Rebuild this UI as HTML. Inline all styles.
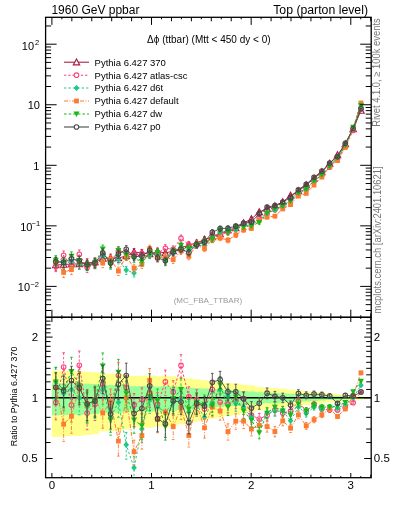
<!DOCTYPE html>
<html><head><meta charset="utf-8"><style>
html,body{margin:0;padding:0;background:#fff;}
svg{display:block;font-family:"Liberation Sans", sans-serif;will-change:transform;}
</style></head><body>
<svg width="393" height="512" viewBox="0 0 393 512">
<defs><clipPath id="cm"><rect x="45.6" y="17.3" width="325.59999999999997" height="300.0"/></clipPath><clipPath id="cr"><rect x="45.6" y="317.3" width="325.59999999999997" height="160.39999999999998"/></clipPath></defs><g clip-path="url(#cr)"><path d="M51.90,370.87L59.72,370.87L59.72,371.09L67.55,371.09L67.55,371.31L75.37,371.31L75.37,371.31L83.20,371.31L83.20,371.74L91.02,371.74L91.02,372.17L98.85,372.17L98.85,373.61L106.67,373.61L106.67,373.81L114.50,373.81L114.50,373.81L122.32,373.81L122.32,374.60L130.15,374.60L130.15,376.10L137.97,376.10L137.97,375.73L145.80,375.73L145.80,375.36L153.62,375.36L153.62,376.28L161.45,376.28L161.45,375.73L169.27,375.73L169.27,376.47L177.10,376.47L177.10,377.52L184.92,377.52L184.92,378.53L192.75,378.53L192.75,379.18L200.57,379.18L200.57,380.27L208.40,380.27L208.40,381.01L216.22,381.01L216.22,381.86L224.05,381.86L224.05,382.93L231.87,382.93L231.87,383.44L239.70,383.44L239.70,384.65L247.52,384.65L247.52,385.55L255.35,385.55L255.35,386.99L263.17,386.99L263.17,387.64L271.00,387.64L271.00,388.09L278.82,388.09L278.82,388.77L286.65,388.77L286.65,389.77L294.47,389.77L294.47,390.40L302.30,390.40L302.30,391.17L310.12,391.17L310.12,391.92L317.95,391.92L317.95,392.58L325.77,392.58L325.77,393.34L333.60,393.34L333.60,393.99L341.42,393.99L341.42,394.70L349.25,394.70L349.25,395.46L357.07,395.46L357.07,396.15L364.90,396.15L364.90,399.49L357.07,399.49L357.07,400.21L349.25,400.21L349.25,401.02L341.42,401.02L341.42,401.78L333.60,401.78L333.60,402.50L325.77,402.50L325.77,403.35L317.95,403.35L317.95,404.11L310.12,404.11L310.12,404.97L302.30,404.97L302.30,405.88L294.47,405.88L294.47,406.64L286.65,406.64L286.65,407.87L278.82,407.87L278.82,408.72L271.00,408.72L271.00,409.29L263.17,409.29L263.17,410.14L255.35,410.14L255.35,412.04L247.52,412.04L247.52,413.28L239.70,413.28L239.70,414.98L231.87,414.98L231.87,415.72L224.05,415.72L224.05,417.31L216.22,417.31L216.22,418.60L208.40,418.60L208.40,419.75L200.57,419.75L200.57,421.48L192.75,421.48L192.75,422.54L184.92,422.54L184.92,424.24L177.10,424.24L177.10,426.07L169.27,426.07L169.27,427.37L161.45,427.37L161.45,426.39L153.62,426.39L153.62,428.05L145.80,428.05L145.80,427.37L137.97,427.37L137.97,426.71L130.15,426.71L130.15,429.46L122.32,429.46L122.32,430.95L114.50,430.95L114.50,430.95L106.67,430.95L106.67,431.33L98.85,431.33L98.85,434.19L91.02,434.19L91.02,435.06L83.20,435.06L83.20,435.96L75.37,435.96L75.37,435.96L67.55,435.96L67.55,436.42L59.72,436.42L59.72,436.88L51.90,436.88Z" fill="#ffff8c"/><path d="M51.90,383.31L59.72,383.31L59.72,383.43L67.55,383.43L67.55,383.56L75.37,383.56L75.37,383.56L83.20,383.56L83.20,383.81L91.02,383.81L91.02,384.05L98.85,384.05L98.85,384.87L106.67,384.87L106.67,384.99L114.50,384.99L114.50,384.99L122.32,384.99L122.32,385.43L130.15,385.43L130.15,386.28L137.97,386.28L137.97,386.07L145.80,386.07L145.80,385.86L153.62,385.86L153.62,386.38L161.45,386.38L161.45,386.07L169.27,386.07L169.27,386.48L177.10,386.48L177.10,387.08L184.92,387.08L184.92,387.64L192.75,387.64L192.75,388.00L200.57,388.00L200.57,388.59L208.40,388.59L208.40,389.00L216.22,389.00L216.22,389.47L224.05,389.47L224.05,390.05L231.87,390.05L231.87,390.33L239.70,390.33L239.70,390.98L247.52,390.98L247.52,391.46L255.35,391.46L255.35,392.23L263.17,392.23L263.17,392.58L271.00,392.58L271.00,392.81L278.82,392.81L278.82,393.17L286.65,393.17L286.65,393.69L294.47,393.69L294.47,394.02L302.30,394.02L302.30,394.42L310.12,394.42L310.12,394.81L317.95,394.81L317.95,395.15L325.77,395.15L325.77,395.54L333.60,395.54L333.60,395.87L341.42,395.87L341.42,396.23L349.25,396.23L349.25,396.62L357.07,396.62L357.07,396.97L364.90,396.97L364.90,398.64L357.07,398.64L357.07,399.00L349.25,399.00L349.25,399.39L341.42,399.39L341.42,399.77L333.60,399.77L333.60,400.12L325.77,400.12L325.77,400.53L317.95,400.53L317.95,400.90L310.12,400.90L310.12,401.31L302.30,401.31L302.30,401.75L294.47,401.75L294.47,402.11L286.65,402.11L286.65,402.69L278.82,402.69L278.82,403.09L271.00,403.09L271.00,403.36L263.17,403.36L263.17,403.75L255.35,403.75L255.35,404.63L247.52,404.63L247.52,405.20L239.70,405.20L239.70,405.97L231.87,405.97L231.87,406.30L224.05,406.30L224.05,407.01L216.22,407.01L216.22,407.58L208.40,407.58L208.40,408.09L200.57,408.09L200.57,408.84L192.75,408.84L192.75,409.30L184.92,409.30L184.92,410.02L177.10,410.02L177.10,410.80L169.27,410.80L169.27,411.34L161.45,411.34L161.45,410.93L153.62,410.93L153.62,411.62L145.80,411.62L145.80,411.34L137.97,411.34L137.97,411.07L130.15,411.07L130.15,412.21L122.32,412.21L122.32,412.82L114.50,412.82L114.50,412.82L106.67,412.82L106.67,412.97L98.85,412.97L98.85,414.12L91.02,414.12L91.02,414.46L83.20,414.46L83.20,414.82L75.37,414.82L75.37,414.82L67.55,414.82L67.55,415.00L59.72,415.00L59.72,415.18L51.90,415.18Z" fill="#99ff99"/><line x1="45.6" y1="397.80" x2="371.2" y2="397.80" stroke="#000" stroke-width="1.4"/></g><g clip-path="url(#cm)"><line x1="55.81" y1="260.65" x2="55.81" y2="270.22" stroke="#a82040" stroke-width="0.9"/><path d="M54.51,260.65H57.11M54.51,270.22H57.11" stroke="#a82040" stroke-width="0.9"/><line x1="63.64" y1="260.19" x2="63.64" y2="269.66" stroke="#a82040" stroke-width="0.9"/><path d="M62.34,260.19H64.94M62.34,269.66H64.94" stroke="#a82040" stroke-width="0.9"/><line x1="71.46" y1="259.72" x2="71.46" y2="269.11" stroke="#a82040" stroke-width="0.9"/><path d="M70.16,259.72H72.76M70.16,269.11H72.76" stroke="#a82040" stroke-width="0.9"/><line x1="79.29" y1="259.72" x2="79.29" y2="269.11" stroke="#a82040" stroke-width="0.9"/><path d="M77.99,259.72H80.59M77.99,269.11H80.59" stroke="#a82040" stroke-width="0.9"/><line x1="87.11" y1="258.80" x2="87.11" y2="268.00" stroke="#a82040" stroke-width="0.9"/><path d="M85.81,258.80H88.41M85.81,268.00H88.41" stroke="#a82040" stroke-width="0.9"/><line x1="94.94" y1="257.87" x2="94.94" y2="266.90" stroke="#a82040" stroke-width="0.9"/><path d="M93.64,257.87H96.24M93.64,266.90H96.24" stroke="#a82040" stroke-width="0.9"/><line x1="102.76" y1="254.62" x2="102.76" y2="263.06" stroke="#a82040" stroke-width="0.9"/><path d="M101.46,254.62H104.06M101.46,263.06H104.06" stroke="#a82040" stroke-width="0.9"/><line x1="110.59" y1="254.15" x2="110.59" y2="262.51" stroke="#a82040" stroke-width="0.9"/><path d="M109.29,254.15H111.89M109.29,262.51H111.89" stroke="#a82040" stroke-width="0.9"/><line x1="118.41" y1="254.15" x2="118.41" y2="262.51" stroke="#a82040" stroke-width="0.9"/><path d="M117.11,254.15H119.71M117.11,262.51H119.71" stroke="#a82040" stroke-width="0.9"/><line x1="126.24" y1="252.29" x2="126.24" y2="260.33" stroke="#a82040" stroke-width="0.9"/><path d="M124.94,252.29H127.54M124.94,260.33H127.54" stroke="#a82040" stroke-width="0.9"/><line x1="134.06" y1="248.54" x2="134.06" y2="255.98" stroke="#a82040" stroke-width="0.9"/><path d="M132.76,248.54H135.36M132.76,255.98H135.36" stroke="#a82040" stroke-width="0.9"/><line x1="141.89" y1="249.48" x2="141.89" y2="257.07" stroke="#a82040" stroke-width="0.9"/><path d="M140.59,249.48H143.19M140.59,257.07H143.19" stroke="#a82040" stroke-width="0.9"/><line x1="149.71" y1="250.42" x2="149.71" y2="258.15" stroke="#a82040" stroke-width="0.9"/><path d="M148.41,250.42H151.01M148.41,258.15H151.01" stroke="#a82040" stroke-width="0.9"/><line x1="157.54" y1="248.07" x2="157.54" y2="255.44" stroke="#a82040" stroke-width="0.9"/><path d="M156.24,248.07H158.84M156.24,255.44H158.84" stroke="#a82040" stroke-width="0.9"/><line x1="165.36" y1="249.48" x2="165.36" y2="257.07" stroke="#a82040" stroke-width="0.9"/><path d="M164.06,249.48H166.66M164.06,257.07H166.66" stroke="#a82040" stroke-width="0.9"/><line x1="173.19" y1="247.60" x2="173.19" y2="254.90" stroke="#a82040" stroke-width="0.9"/><path d="M171.89,247.60H174.49M171.89,254.90H174.49" stroke="#a82040" stroke-width="0.9"/><line x1="181.01" y1="244.78" x2="181.01" y2="251.67" stroke="#a82040" stroke-width="0.9"/><path d="M179.71,244.78H182.31M179.71,251.67H182.31" stroke="#a82040" stroke-width="0.9"/><line x1="188.84" y1="241.95" x2="188.84" y2="248.45" stroke="#a82040" stroke-width="0.9"/><path d="M187.54,241.95H190.14M187.54,248.45H190.14" stroke="#a82040" stroke-width="0.9"/><line x1="196.66" y1="240.06" x2="196.66" y2="246.32" stroke="#a82040" stroke-width="0.9"/><path d="M195.36,240.06H197.96M195.36,246.32H197.96" stroke="#a82040" stroke-width="0.9"/><line x1="204.49" y1="236.74" x2="204.49" y2="242.59" stroke="#a82040" stroke-width="0.9"/><path d="M203.19,236.74H205.79M203.19,242.59H205.79" stroke="#a82040" stroke-width="0.9"/><line x1="212.31" y1="234.36" x2="212.31" y2="239.94" stroke="#a82040" stroke-width="0.9"/><path d="M211.01,234.36H213.61M211.01,239.94H213.61" stroke="#a82040" stroke-width="0.9"/><line x1="220.14" y1="231.50" x2="220.14" y2="236.77" stroke="#a82040" stroke-width="0.9"/><path d="M218.84,231.50H221.44M218.84,236.77H221.44" stroke="#a82040" stroke-width="0.9"/><line x1="227.96" y1="227.67" x2="227.96" y2="232.55" stroke="#a82040" stroke-width="0.9"/><path d="M226.66,227.67H229.26M226.66,232.55H229.26" stroke="#a82040" stroke-width="0.9"/><line x1="235.79" y1="225.76" x2="235.79" y2="230.45" stroke="#a82040" stroke-width="0.9"/><path d="M234.49,225.76H237.09M234.49,230.45H237.09" stroke="#a82040" stroke-width="0.9"/><line x1="243.61" y1="220.95" x2="243.61" y2="225.22" stroke="#a82040" stroke-width="0.9"/><path d="M242.31,220.95H244.91M242.31,225.22H244.91" stroke="#a82040" stroke-width="0.9"/><line x1="251.44" y1="217.10" x2="251.44" y2="221.05" stroke="#a82040" stroke-width="0.9"/><path d="M250.14,217.10H252.74M250.14,221.05H252.74" stroke="#a82040" stroke-width="0.9"/><line x1="259.26" y1="210.33" x2="259.26" y2="213.79" stroke="#a82040" stroke-width="0.9"/><path d="M257.96,210.33H260.56M257.96,213.79H260.56" stroke="#a82040" stroke-width="0.9"/><line x1="267.09" y1="206.93" x2="267.09" y2="210.17" stroke="#a82040" stroke-width="0.9"/><path d="M265.79,206.93H268.39M265.79,210.17H268.39" stroke="#a82040" stroke-width="0.9"/><line x1="274.91" y1="204.50" x2="274.91" y2="207.59" stroke="#a82040" stroke-width="0.9"/><path d="M273.61,204.50H276.21M273.61,207.59H276.21" stroke="#a82040" stroke-width="0.9"/><line x1="282.74" y1="200.61" x2="282.74" y2="203.47" stroke="#a82040" stroke-width="0.9"/><path d="M281.44,200.61H284.04M281.44,203.47H284.04" stroke="#a82040" stroke-width="0.9"/><line x1="290.56" y1="194.27" x2="290.56" y2="196.79" stroke="#a82040" stroke-width="0.9"/><path d="M289.26,194.27H291.86M289.26,196.79H291.86" stroke="#a82040" stroke-width="0.9"/><line x1="298.39" y1="189.87" x2="298.39" y2="192.19" stroke="#a82040" stroke-width="0.9"/><path d="M297.09,189.87H299.69M297.09,192.19H299.69" stroke="#a82040" stroke-width="0.9"/><line x1="306.21" y1="183.99" x2="306.21" y2="186.05" stroke="#a82040" stroke-width="0.9"/><path d="M304.91,183.99H307.51M304.91,186.05H307.51" stroke="#a82040" stroke-width="0.9"/><line x1="314.03" y1="177.60" x2="314.03" y2="179.43" stroke="#a82040" stroke-width="0.9"/><path d="M312.73,177.60H315.33M312.73,179.43H315.33" stroke="#a82040" stroke-width="0.9"/><line x1="321.86" y1="171.20" x2="321.86" y2="172.82" stroke="#a82040" stroke-width="0.9"/><path d="M320.56,171.20H323.16M320.56,172.82H323.16" stroke="#a82040" stroke-width="0.9"/><line x1="329.68" y1="162.82" x2="329.68" y2="164.20" stroke="#a82040" stroke-width="0.9"/><path d="M328.38,162.82H330.98M328.38,164.20H330.98" stroke="#a82040" stroke-width="0.9"/><line x1="337.51" y1="154.42" x2="337.51" y2="155.59" stroke="#a82040" stroke-width="0.9"/><path d="M336.21,154.42H338.81M336.21,155.59H338.81" stroke="#a82040" stroke-width="0.9"/><line x1="345.33" y1="143.53" x2="345.33" y2="144.48" stroke="#a82040" stroke-width="0.9"/><path d="M344.03,143.53H346.63M344.03,144.48H346.63" stroke="#a82040" stroke-width="0.9"/><line x1="353.16" y1="128.65" x2="353.16" y2="129.36" stroke="#a82040" stroke-width="0.9"/><path d="M351.86,128.65H354.46M351.86,129.36H354.46" stroke="#a82040" stroke-width="0.9"/><line x1="360.98" y1="110.25" x2="360.98" y2="110.75" stroke="#a82040" stroke-width="0.9"/><path d="M359.68,110.25H362.28M359.68,110.75H362.28" stroke="#a82040" stroke-width="0.9"/><polyline points="55.81,265.00 63.64,264.50 71.46,264.00 79.29,264.00 87.11,263.00 94.94,262.00 102.76,258.50 110.59,258.00 118.41,258.00 126.24,256.00 134.06,252.00 141.89,253.00 149.71,254.00 157.54,251.50 165.36,253.00 173.19,251.00 181.01,248.00 188.84,245.00 196.66,243.00 204.49,239.50 212.31,237.00 220.14,234.00 227.96,230.00 235.79,228.00 243.61,223.00 251.44,219.00 259.26,212.00 267.09,208.50 274.91,206.00 282.74,202.00 290.56,195.50 298.39,191.00 306.21,185.00 314.03,178.50 321.86,172.00 329.68,163.50 337.51,155.00 345.33,144.00 353.16,129.00 360.98,110.50" fill="none" stroke="#a82040" stroke-width="1.0"/><path d="M55.81,261.70L59.01,267.70L52.61,267.70Z" fill="#fff" fill-opacity="0" stroke="#a82040" stroke-width="1.15"/><path d="M63.64,261.20L66.84,267.20L60.44,267.20Z" fill="#fff" fill-opacity="0" stroke="#a82040" stroke-width="1.15"/><path d="M71.46,260.70L74.66,266.70L68.26,266.70Z" fill="#fff" fill-opacity="0" stroke="#a82040" stroke-width="1.15"/><path d="M79.29,260.70L82.49,266.70L76.09,266.70Z" fill="#fff" fill-opacity="0" stroke="#a82040" stroke-width="1.15"/><path d="M87.11,259.70L90.31,265.70L83.91,265.70Z" fill="#fff" fill-opacity="0" stroke="#a82040" stroke-width="1.15"/><path d="M94.94,258.70L98.14,264.70L91.74,264.70Z" fill="#fff" fill-opacity="0" stroke="#a82040" stroke-width="1.15"/><path d="M102.76,255.20L105.96,261.20L99.56,261.20Z" fill="#fff" fill-opacity="0" stroke="#a82040" stroke-width="1.15"/><path d="M110.59,254.70L113.79,260.70L107.39,260.70Z" fill="#fff" fill-opacity="0" stroke="#a82040" stroke-width="1.15"/><path d="M118.41,254.70L121.61,260.70L115.21,260.70Z" fill="#fff" fill-opacity="0" stroke="#a82040" stroke-width="1.15"/><path d="M126.24,252.70L129.44,258.70L123.04,258.70Z" fill="#fff" fill-opacity="0" stroke="#a82040" stroke-width="1.15"/><path d="M134.06,248.70L137.26,254.70L130.86,254.70Z" fill="#fff" fill-opacity="0" stroke="#a82040" stroke-width="1.15"/><path d="M141.89,249.70L145.09,255.70L138.69,255.70Z" fill="#fff" fill-opacity="0" stroke="#a82040" stroke-width="1.15"/><path d="M149.71,250.70L152.91,256.70L146.51,256.70Z" fill="#fff" fill-opacity="0" stroke="#a82040" stroke-width="1.15"/><path d="M157.54,248.20L160.74,254.20L154.34,254.20Z" fill="#fff" fill-opacity="0" stroke="#a82040" stroke-width="1.15"/><path d="M165.36,249.70L168.56,255.70L162.16,255.70Z" fill="#fff" fill-opacity="0" stroke="#a82040" stroke-width="1.15"/><path d="M173.19,247.70L176.39,253.70L169.99,253.70Z" fill="#fff" fill-opacity="0" stroke="#a82040" stroke-width="1.15"/><path d="M181.01,244.70L184.21,250.70L177.81,250.70Z" fill="#fff" fill-opacity="0" stroke="#a82040" stroke-width="1.15"/><path d="M188.84,241.70L192.04,247.70L185.64,247.70Z" fill="#fff" fill-opacity="0" stroke="#a82040" stroke-width="1.15"/><path d="M196.66,239.70L199.86,245.70L193.46,245.70Z" fill="#fff" fill-opacity="0" stroke="#a82040" stroke-width="1.15"/><path d="M204.49,236.20L207.69,242.20L201.29,242.20Z" fill="#fff" fill-opacity="0" stroke="#a82040" stroke-width="1.15"/><path d="M212.31,233.70L215.51,239.70L209.11,239.70Z" fill="#fff" fill-opacity="0" stroke="#a82040" stroke-width="1.15"/><path d="M220.14,230.70L223.34,236.70L216.94,236.70Z" fill="#fff" fill-opacity="0" stroke="#a82040" stroke-width="1.15"/><path d="M227.96,226.70L231.16,232.70L224.76,232.70Z" fill="#fff" fill-opacity="0" stroke="#a82040" stroke-width="1.15"/><path d="M235.79,224.70L238.99,230.70L232.59,230.70Z" fill="#fff" fill-opacity="0" stroke="#a82040" stroke-width="1.15"/><path d="M243.61,219.70L246.81,225.70L240.41,225.70Z" fill="#fff" fill-opacity="0" stroke="#a82040" stroke-width="1.15"/><path d="M251.44,215.70L254.64,221.70L248.24,221.70Z" fill="#fff" fill-opacity="0" stroke="#a82040" stroke-width="1.15"/><path d="M259.26,208.70L262.46,214.70L256.06,214.70Z" fill="#fff" fill-opacity="0" stroke="#a82040" stroke-width="1.15"/><path d="M267.09,205.20L270.29,211.20L263.89,211.20Z" fill="#fff" fill-opacity="0" stroke="#a82040" stroke-width="1.15"/><path d="M274.91,202.70L278.11,208.70L271.71,208.70Z" fill="#fff" fill-opacity="0" stroke="#a82040" stroke-width="1.15"/><path d="M282.74,198.70L285.94,204.70L279.54,204.70Z" fill="#fff" fill-opacity="0" stroke="#a82040" stroke-width="1.15"/><path d="M290.56,192.20L293.76,198.20L287.36,198.20Z" fill="#fff" fill-opacity="0" stroke="#a82040" stroke-width="1.15"/><path d="M298.39,187.70L301.59,193.70L295.19,193.70Z" fill="#fff" fill-opacity="0" stroke="#a82040" stroke-width="1.15"/><path d="M306.21,181.70L309.41,187.70L303.01,187.70Z" fill="#fff" fill-opacity="0" stroke="#a82040" stroke-width="1.15"/><path d="M314.03,175.20L317.23,181.20L310.83,181.20Z" fill="#fff" fill-opacity="0" stroke="#a82040" stroke-width="1.15"/><path d="M321.86,168.70L325.06,174.70L318.66,174.70Z" fill="#fff" fill-opacity="0" stroke="#a82040" stroke-width="1.15"/><path d="M329.68,160.20L332.88,166.20L326.48,166.20Z" fill="#fff" fill-opacity="0" stroke="#a82040" stroke-width="1.15"/><path d="M337.51,151.70L340.71,157.70L334.31,157.70Z" fill="#fff" fill-opacity="0" stroke="#a82040" stroke-width="1.15"/><path d="M345.33,140.70L348.53,146.70L342.13,146.70Z" fill="#fff" fill-opacity="0" stroke="#a82040" stroke-width="1.15"/><path d="M353.16,125.70L356.36,131.70L349.96,131.70Z" fill="#fff" fill-opacity="0" stroke="#a82040" stroke-width="1.15"/><path d="M360.98,107.20L364.18,113.20L357.78,113.20Z" fill="#fff" fill-opacity="0" stroke="#a82040" stroke-width="1.15"/><line x1="55.81" y1="262.05" x2="55.81" y2="271.62" stroke="#ff4078" stroke-width="0.9" stroke-dasharray="2.4,1.8"/><path d="M54.51,262.05H57.11M54.51,271.62H57.11" stroke="#ff4078" stroke-width="0.9"/><line x1="63.64" y1="250.96" x2="63.64" y2="260.44" stroke="#ff4078" stroke-width="0.9" stroke-dasharray="2.4,1.8"/><path d="M62.34,250.96H64.94M62.34,260.44H64.94" stroke="#ff4078" stroke-width="0.9"/><line x1="71.46" y1="261.92" x2="71.46" y2="271.30" stroke="#ff4078" stroke-width="0.9" stroke-dasharray="2.4,1.8"/><path d="M70.16,261.92H72.76M70.16,271.30H72.76" stroke="#ff4078" stroke-width="0.9"/><line x1="79.29" y1="249.95" x2="79.29" y2="259.34" stroke="#ff4078" stroke-width="0.9" stroke-dasharray="2.4,1.8"/><path d="M77.99,249.95H80.59M77.99,259.34H80.59" stroke="#ff4078" stroke-width="0.9"/><line x1="87.11" y1="263.38" x2="87.11" y2="272.59" stroke="#ff4078" stroke-width="0.9" stroke-dasharray="2.4,1.8"/><path d="M85.81,263.38H88.41M85.81,272.59H88.41" stroke="#ff4078" stroke-width="0.9"/><line x1="94.94" y1="259.78" x2="94.94" y2="268.81" stroke="#ff4078" stroke-width="0.9" stroke-dasharray="2.4,1.8"/><path d="M93.64,259.78H96.24M93.64,268.81H96.24" stroke="#ff4078" stroke-width="0.9"/><line x1="102.76" y1="250.38" x2="102.76" y2="258.82" stroke="#ff4078" stroke-width="0.9" stroke-dasharray="2.4,1.8"/><path d="M101.46,250.38H104.06M101.46,258.82H104.06" stroke="#ff4078" stroke-width="0.9"/><line x1="110.59" y1="256.92" x2="110.59" y2="265.28" stroke="#ff4078" stroke-width="0.9" stroke-dasharray="2.4,1.8"/><path d="M109.29,256.92H111.89M109.29,265.28H111.89" stroke="#ff4078" stroke-width="0.9"/><line x1="118.41" y1="247.46" x2="118.41" y2="255.81" stroke="#ff4078" stroke-width="0.9" stroke-dasharray="2.4,1.8"/><path d="M117.11,247.46H119.71M117.11,255.81H119.71" stroke="#ff4078" stroke-width="0.9"/><line x1="126.24" y1="249.31" x2="126.24" y2="257.35" stroke="#ff4078" stroke-width="0.9" stroke-dasharray="2.4,1.8"/><path d="M124.94,249.31H127.54M124.94,257.35H127.54" stroke="#ff4078" stroke-width="0.9"/><line x1="134.06" y1="250.73" x2="134.06" y2="258.18" stroke="#ff4078" stroke-width="0.9" stroke-dasharray="2.4,1.8"/><path d="M132.76,250.73H135.36M132.76,258.18H135.36" stroke="#ff4078" stroke-width="0.9"/><line x1="141.89" y1="250.01" x2="141.89" y2="257.60" stroke="#ff4078" stroke-width="0.9" stroke-dasharray="2.4,1.8"/><path d="M140.59,250.01H143.19M140.59,257.60H143.19" stroke="#ff4078" stroke-width="0.9"/><line x1="149.71" y1="249.13" x2="149.71" y2="256.87" stroke="#ff4078" stroke-width="0.9" stroke-dasharray="2.4,1.8"/><path d="M148.41,249.13H151.01M148.41,256.87H151.01" stroke="#ff4078" stroke-width="0.9"/><line x1="157.54" y1="249.98" x2="157.54" y2="257.35" stroke="#ff4078" stroke-width="0.9" stroke-dasharray="2.4,1.8"/><path d="M156.24,249.98H158.84M156.24,257.35H158.84" stroke="#ff4078" stroke-width="0.9"/><line x1="165.36" y1="244.68" x2="165.36" y2="252.27" stroke="#ff4078" stroke-width="0.9" stroke-dasharray="2.4,1.8"/><path d="M164.06,244.68H166.66M164.06,252.27H166.66" stroke="#ff4078" stroke-width="0.9"/><line x1="173.19" y1="245.87" x2="173.19" y2="253.17" stroke="#ff4078" stroke-width="0.9" stroke-dasharray="2.4,1.8"/><path d="M171.89,245.87H174.49M171.89,253.17H174.49" stroke="#ff4078" stroke-width="0.9"/><line x1="181.01" y1="235.06" x2="181.01" y2="241.95" stroke="#ff4078" stroke-width="0.9" stroke-dasharray="2.4,1.8"/><path d="M179.71,235.06H182.31M179.71,241.95H182.31" stroke="#ff4078" stroke-width="0.9"/><line x1="188.84" y1="241.69" x2="188.84" y2="248.19" stroke="#ff4078" stroke-width="0.9" stroke-dasharray="2.4,1.8"/><path d="M187.54,241.69H190.14M187.54,248.19H190.14" stroke="#ff4078" stroke-width="0.9"/><line x1="196.66" y1="240.59" x2="196.66" y2="246.85" stroke="#ff4078" stroke-width="0.9" stroke-dasharray="2.4,1.8"/><path d="M195.36,240.59H197.96M195.36,246.85H197.96" stroke="#ff4078" stroke-width="0.9"/><line x1="204.49" y1="240.10" x2="204.49" y2="245.95" stroke="#ff4078" stroke-width="0.9" stroke-dasharray="2.4,1.8"/><path d="M203.19,240.10H205.79M203.19,245.95H205.79" stroke="#ff4078" stroke-width="0.9"/><line x1="212.31" y1="231.85" x2="212.31" y2="237.43" stroke="#ff4078" stroke-width="0.9" stroke-dasharray="2.4,1.8"/><path d="M211.01,231.85H213.61M211.01,237.43H213.61" stroke="#ff4078" stroke-width="0.9"/><line x1="220.14" y1="232.85" x2="220.14" y2="238.11" stroke="#ff4078" stroke-width="0.9" stroke-dasharray="2.4,1.8"/><path d="M218.84,232.85H221.44M218.84,238.11H221.44" stroke="#ff4078" stroke-width="0.9"/><line x1="227.96" y1="229.58" x2="227.96" y2="234.46" stroke="#ff4078" stroke-width="0.9" stroke-dasharray="2.4,1.8"/><path d="M226.66,229.58H229.26M226.66,234.46H229.26" stroke="#ff4078" stroke-width="0.9"/><line x1="235.79" y1="226.56" x2="235.79" y2="231.25" stroke="#ff4078" stroke-width="0.9" stroke-dasharray="2.4,1.8"/><path d="M234.49,226.56H237.09M234.49,231.25H237.09" stroke="#ff4078" stroke-width="0.9"/><line x1="243.61" y1="221.22" x2="243.61" y2="225.49" stroke="#ff4078" stroke-width="0.9" stroke-dasharray="2.4,1.8"/><path d="M242.31,221.22H244.91M242.31,225.49H244.91" stroke="#ff4078" stroke-width="0.9"/><line x1="251.44" y1="222.32" x2="251.44" y2="226.27" stroke="#ff4078" stroke-width="0.9" stroke-dasharray="2.4,1.8"/><path d="M250.14,222.32H252.74M250.14,226.27H252.74" stroke="#ff4078" stroke-width="0.9"/><line x1="259.26" y1="216.69" x2="259.26" y2="220.15" stroke="#ff4078" stroke-width="0.9" stroke-dasharray="2.4,1.8"/><path d="M257.96,216.69H260.56M257.96,220.15H260.56" stroke="#ff4078" stroke-width="0.9"/><line x1="267.09" y1="212.15" x2="267.09" y2="215.39" stroke="#ff4078" stroke-width="0.9" stroke-dasharray="2.4,1.8"/><path d="M265.79,212.15H268.39M265.79,215.39H268.39" stroke="#ff4078" stroke-width="0.9"/><line x1="274.91" y1="208.16" x2="274.91" y2="211.25" stroke="#ff4078" stroke-width="0.9" stroke-dasharray="2.4,1.8"/><path d="M273.61,208.16H276.21M273.61,211.25H276.21" stroke="#ff4078" stroke-width="0.9"/><line x1="282.74" y1="205.19" x2="282.74" y2="208.05" stroke="#ff4078" stroke-width="0.9" stroke-dasharray="2.4,1.8"/><path d="M281.44,205.19H284.04M281.44,208.05H284.04" stroke="#ff4078" stroke-width="0.9"/><line x1="290.56" y1="198.23" x2="290.56" y2="200.76" stroke="#ff4078" stroke-width="0.9" stroke-dasharray="2.4,1.8"/><path d="M289.26,198.23H291.86M289.26,200.76H291.86" stroke="#ff4078" stroke-width="0.9"/><line x1="298.39" y1="190.94" x2="298.39" y2="193.26" stroke="#ff4078" stroke-width="0.9" stroke-dasharray="2.4,1.8"/><path d="M297.09,190.94H299.69M297.09,193.26H299.69" stroke="#ff4078" stroke-width="0.9"/><line x1="306.21" y1="187.95" x2="306.21" y2="190.02" stroke="#ff4078" stroke-width="0.9" stroke-dasharray="2.4,1.8"/><path d="M304.91,187.95H307.51M304.91,190.02H307.51" stroke="#ff4078" stroke-width="0.9"/><line x1="314.03" y1="179.57" x2="314.03" y2="181.40" stroke="#ff4078" stroke-width="0.9" stroke-dasharray="2.4,1.8"/><path d="M312.73,179.57H315.33M312.73,181.40H315.33" stroke="#ff4078" stroke-width="0.9"/><line x1="321.86" y1="174.57" x2="321.86" y2="176.18" stroke="#ff4078" stroke-width="0.9" stroke-dasharray="2.4,1.8"/><path d="M320.56,174.57H323.16M320.56,176.18H323.16" stroke="#ff4078" stroke-width="0.9"/><line x1="329.68" y1="166.48" x2="329.68" y2="167.86" stroke="#ff4078" stroke-width="0.9" stroke-dasharray="2.4,1.8"/><path d="M328.38,166.48H330.98M328.38,167.86H330.98" stroke="#ff4078" stroke-width="0.9"/><line x1="337.51" y1="158.08" x2="337.51" y2="159.25" stroke="#ff4078" stroke-width="0.9" stroke-dasharray="2.4,1.8"/><path d="M336.21,158.08H338.81M336.21,159.25H338.81" stroke="#ff4078" stroke-width="0.9"/><line x1="345.33" y1="146.30" x2="345.33" y2="147.25" stroke="#ff4078" stroke-width="0.9" stroke-dasharray="2.4,1.8"/><path d="M344.03,146.30H346.63M344.03,147.25H346.63" stroke="#ff4078" stroke-width="0.9"/><line x1="353.16" y1="130.13" x2="353.16" y2="130.85" stroke="#ff4078" stroke-width="0.9" stroke-dasharray="2.4,1.8"/><path d="M351.86,130.13H354.46M351.86,130.85H354.46" stroke="#ff4078" stroke-width="0.9"/><line x1="360.98" y1="108.47" x2="360.98" y2="108.97" stroke="#ff4078" stroke-width="0.9" stroke-dasharray="2.4,1.8"/><path d="M359.68,108.47H362.28M359.68,108.97H362.28" stroke="#ff4078" stroke-width="0.9"/><polyline points="55.81,266.40 63.64,255.28 71.46,266.19 79.29,254.23 87.11,267.58 94.94,263.91 102.76,254.26 110.59,260.77 118.41,251.30 126.24,253.02 134.06,254.19 141.89,253.53 149.71,252.72 157.54,253.41 165.36,248.21 173.19,249.27 181.01,238.28 188.84,244.74 196.66,243.53 204.49,242.86 212.31,234.49 220.14,235.35 227.96,231.91 235.79,228.80 243.61,223.26 251.44,224.22 259.26,218.37 267.09,213.72 274.91,209.66 282.74,206.58 290.56,199.47 298.39,192.07 306.21,188.97 314.03,180.46 321.86,175.36 329.68,167.16 337.51,158.66 345.33,146.77 353.16,130.49 360.98,108.72" fill="none" stroke="#ff4078" stroke-width="1.0" stroke-dasharray="2.4,1.8"/><circle cx="55.81" cy="266.40" r="2.3" fill="none" stroke="#ff4078" stroke-width="1.05"/><circle cx="63.64" cy="255.28" r="2.3" fill="none" stroke="#ff4078" stroke-width="1.05"/><circle cx="71.46" cy="266.19" r="2.3" fill="none" stroke="#ff4078" stroke-width="1.05"/><circle cx="79.29" cy="254.23" r="2.3" fill="none" stroke="#ff4078" stroke-width="1.05"/><circle cx="87.11" cy="267.58" r="2.3" fill="none" stroke="#ff4078" stroke-width="1.05"/><circle cx="94.94" cy="263.91" r="2.3" fill="none" stroke="#ff4078" stroke-width="1.05"/><circle cx="102.76" cy="254.26" r="2.3" fill="none" stroke="#ff4078" stroke-width="1.05"/><circle cx="110.59" cy="260.77" r="2.3" fill="none" stroke="#ff4078" stroke-width="1.05"/><circle cx="118.41" cy="251.30" r="2.3" fill="none" stroke="#ff4078" stroke-width="1.05"/><circle cx="126.24" cy="253.02" r="2.3" fill="none" stroke="#ff4078" stroke-width="1.05"/><circle cx="134.06" cy="254.19" r="2.3" fill="none" stroke="#ff4078" stroke-width="1.05"/><circle cx="141.89" cy="253.53" r="2.3" fill="none" stroke="#ff4078" stroke-width="1.05"/><circle cx="149.71" cy="252.72" r="2.3" fill="none" stroke="#ff4078" stroke-width="1.05"/><circle cx="157.54" cy="253.41" r="2.3" fill="none" stroke="#ff4078" stroke-width="1.05"/><circle cx="165.36" cy="248.21" r="2.3" fill="none" stroke="#ff4078" stroke-width="1.05"/><circle cx="173.19" cy="249.27" r="2.3" fill="none" stroke="#ff4078" stroke-width="1.05"/><circle cx="181.01" cy="238.28" r="2.3" fill="none" stroke="#ff4078" stroke-width="1.05"/><circle cx="188.84" cy="244.74" r="2.3" fill="none" stroke="#ff4078" stroke-width="1.05"/><circle cx="196.66" cy="243.53" r="2.3" fill="none" stroke="#ff4078" stroke-width="1.05"/><circle cx="204.49" cy="242.86" r="2.3" fill="none" stroke="#ff4078" stroke-width="1.05"/><circle cx="212.31" cy="234.49" r="2.3" fill="none" stroke="#ff4078" stroke-width="1.05"/><circle cx="220.14" cy="235.35" r="2.3" fill="none" stroke="#ff4078" stroke-width="1.05"/><circle cx="227.96" cy="231.91" r="2.3" fill="none" stroke="#ff4078" stroke-width="1.05"/><circle cx="235.79" cy="228.80" r="2.3" fill="none" stroke="#ff4078" stroke-width="1.05"/><circle cx="243.61" cy="223.26" r="2.3" fill="none" stroke="#ff4078" stroke-width="1.05"/><circle cx="251.44" cy="224.22" r="2.3" fill="none" stroke="#ff4078" stroke-width="1.05"/><circle cx="259.26" cy="218.37" r="2.3" fill="none" stroke="#ff4078" stroke-width="1.05"/><circle cx="267.09" cy="213.72" r="2.3" fill="none" stroke="#ff4078" stroke-width="1.05"/><circle cx="274.91" cy="209.66" r="2.3" fill="none" stroke="#ff4078" stroke-width="1.05"/><circle cx="282.74" cy="206.58" r="2.3" fill="none" stroke="#ff4078" stroke-width="1.05"/><circle cx="290.56" cy="199.47" r="2.3" fill="none" stroke="#ff4078" stroke-width="1.05"/><circle cx="298.39" cy="192.07" r="2.3" fill="none" stroke="#ff4078" stroke-width="1.05"/><circle cx="306.21" cy="188.97" r="2.3" fill="none" stroke="#ff4078" stroke-width="1.05"/><circle cx="314.03" cy="180.46" r="2.3" fill="none" stroke="#ff4078" stroke-width="1.05"/><circle cx="321.86" cy="175.36" r="2.3" fill="none" stroke="#ff4078" stroke-width="1.05"/><circle cx="329.68" cy="167.16" r="2.3" fill="none" stroke="#ff4078" stroke-width="1.05"/><circle cx="337.51" cy="158.66" r="2.3" fill="none" stroke="#ff4078" stroke-width="1.05"/><circle cx="345.33" cy="146.77" r="2.3" fill="none" stroke="#ff4078" stroke-width="1.05"/><circle cx="353.16" cy="130.49" r="2.3" fill="none" stroke="#ff4078" stroke-width="1.05"/><circle cx="360.98" cy="108.72" r="2.3" fill="none" stroke="#ff4078" stroke-width="1.05"/><line x1="55.81" y1="255.85" x2="55.81" y2="265.42" stroke="#20c888" stroke-width="0.9" stroke-dasharray="2.4,2"/><path d="M54.51,255.85H57.11M54.51,265.42H57.11" stroke="#20c888" stroke-width="0.9"/><line x1="63.64" y1="258.90" x2="63.64" y2="268.38" stroke="#20c888" stroke-width="0.9" stroke-dasharray="2.4,2"/><path d="M62.34,258.90H64.94M62.34,268.38H64.94" stroke="#20c888" stroke-width="0.9"/><line x1="71.46" y1="257.22" x2="71.46" y2="266.60" stroke="#20c888" stroke-width="0.9" stroke-dasharray="2.4,2"/><path d="M70.16,257.22H72.76M70.16,266.60H72.76" stroke="#20c888" stroke-width="0.9"/><line x1="79.29" y1="259.72" x2="79.29" y2="269.11" stroke="#20c888" stroke-width="0.9" stroke-dasharray="2.4,2"/><path d="M77.99,259.72H80.59M77.99,269.11H80.59" stroke="#20c888" stroke-width="0.9"/><line x1="87.11" y1="261.57" x2="87.11" y2="270.77" stroke="#20c888" stroke-width="0.9" stroke-dasharray="2.4,2"/><path d="M85.81,261.57H88.41M85.81,270.77H88.41" stroke="#20c888" stroke-width="0.9"/><line x1="94.94" y1="259.22" x2="94.94" y2="268.25" stroke="#20c888" stroke-width="0.9" stroke-dasharray="2.4,2"/><path d="M93.64,259.22H96.24M93.64,268.25H96.24" stroke="#20c888" stroke-width="0.9"/><line x1="102.76" y1="252.11" x2="102.76" y2="260.55" stroke="#20c888" stroke-width="0.9" stroke-dasharray="2.4,2"/><path d="M101.46,252.11H104.06M101.46,260.55H104.06" stroke="#20c888" stroke-width="0.9"/><line x1="110.59" y1="260.02" x2="110.59" y2="268.38" stroke="#20c888" stroke-width="0.9" stroke-dasharray="2.4,2"/><path d="M109.29,260.02H111.89M109.29,268.38H111.89" stroke="#20c888" stroke-width="0.9"/><line x1="118.41" y1="255.50" x2="118.41" y2="263.86" stroke="#20c888" stroke-width="0.9" stroke-dasharray="2.4,2"/><path d="M117.11,255.50H119.71M117.11,263.86H119.71" stroke="#20c888" stroke-width="0.9"/><line x1="126.24" y1="266.38" x2="126.24" y2="274.42" stroke="#20c888" stroke-width="0.9" stroke-dasharray="2.4,2"/><path d="M124.94,266.38H127.54M124.94,274.42H127.54" stroke="#20c888" stroke-width="0.9"/><line x1="134.06" y1="269.54" x2="134.06" y2="276.98" stroke="#20c888" stroke-width="0.9" stroke-dasharray="2.4,2"/><path d="M132.76,269.54H135.36M132.76,276.98H135.36" stroke="#20c888" stroke-width="0.9"/><line x1="141.89" y1="258.86" x2="141.89" y2="266.45" stroke="#20c888" stroke-width="0.9" stroke-dasharray="2.4,2"/><path d="M140.59,258.86H143.19M140.59,266.45H143.19" stroke="#20c888" stroke-width="0.9"/><line x1="149.71" y1="250.95" x2="149.71" y2="258.68" stroke="#20c888" stroke-width="0.9" stroke-dasharray="2.4,2"/><path d="M148.41,250.95H151.01M148.41,258.68H151.01" stroke="#20c888" stroke-width="0.9"/><line x1="157.54" y1="250.84" x2="157.54" y2="258.21" stroke="#20c888" stroke-width="0.9" stroke-dasharray="2.4,2"/><path d="M156.24,250.84H158.84M156.24,258.21H158.84" stroke="#20c888" stroke-width="0.9"/><line x1="165.36" y1="253.75" x2="165.36" y2="261.34" stroke="#20c888" stroke-width="0.9" stroke-dasharray="2.4,2"/><path d="M164.06,253.75H166.66M164.06,261.34H166.66" stroke="#20c888" stroke-width="0.9"/><line x1="173.19" y1="248.95" x2="173.19" y2="256.25" stroke="#20c888" stroke-width="0.9" stroke-dasharray="2.4,2"/><path d="M171.89,248.95H174.49M171.89,256.25H174.49" stroke="#20c888" stroke-width="0.9"/><line x1="181.01" y1="244.78" x2="181.01" y2="251.67" stroke="#20c888" stroke-width="0.9" stroke-dasharray="2.4,2"/><path d="M179.71,244.78H182.31M179.71,251.67H182.31" stroke="#20c888" stroke-width="0.9"/><line x1="188.84" y1="246.22" x2="188.84" y2="252.73" stroke="#20c888" stroke-width="0.9" stroke-dasharray="2.4,2"/><path d="M187.54,246.22H190.14M187.54,252.73H190.14" stroke="#20c888" stroke-width="0.9"/><line x1="196.66" y1="242.25" x2="196.66" y2="248.51" stroke="#20c888" stroke-width="0.9" stroke-dasharray="2.4,2"/><path d="M195.36,242.25H197.96M195.36,248.51H197.96" stroke="#20c888" stroke-width="0.9"/><line x1="204.49" y1="242.60" x2="204.49" y2="248.46" stroke="#20c888" stroke-width="0.9" stroke-dasharray="2.4,2"/><path d="M203.19,242.60H205.79M203.19,248.46H205.79" stroke="#20c888" stroke-width="0.9"/><line x1="212.31" y1="235.71" x2="212.31" y2="241.29" stroke="#20c888" stroke-width="0.9" stroke-dasharray="2.4,2"/><path d="M211.01,235.71H213.61M211.01,241.29H213.61" stroke="#20c888" stroke-width="0.9"/><line x1="220.14" y1="228.99" x2="220.14" y2="234.26" stroke="#20c888" stroke-width="0.9" stroke-dasharray="2.4,2"/><path d="M218.84,228.99H221.44M218.84,234.26H221.44" stroke="#20c888" stroke-width="0.9"/><line x1="227.96" y1="227.15" x2="227.96" y2="232.03" stroke="#20c888" stroke-width="0.9" stroke-dasharray="2.4,2"/><path d="M226.66,227.15H229.26M226.66,232.03H229.26" stroke="#20c888" stroke-width="0.9"/><line x1="235.79" y1="227.38" x2="235.79" y2="232.08" stroke="#20c888" stroke-width="0.9" stroke-dasharray="2.4,2"/><path d="M234.49,227.38H237.09M234.49,232.08H237.09" stroke="#20c888" stroke-width="0.9"/><line x1="243.61" y1="223.72" x2="243.61" y2="227.99" stroke="#20c888" stroke-width="0.9" stroke-dasharray="2.4,2"/><path d="M242.31,223.72H244.91M242.31,227.99H244.91" stroke="#20c888" stroke-width="0.9"/><line x1="251.44" y1="222.96" x2="251.44" y2="226.92" stroke="#20c888" stroke-width="0.9" stroke-dasharray="2.4,2"/><path d="M250.14,222.96H252.74M250.14,226.92H252.74" stroke="#20c888" stroke-width="0.9"/><line x1="259.26" y1="218.60" x2="259.26" y2="222.06" stroke="#20c888" stroke-width="0.9" stroke-dasharray="2.4,2"/><path d="M257.96,218.60H260.56M257.96,222.06H260.56" stroke="#20c888" stroke-width="0.9"/><line x1="267.09" y1="211.52" x2="267.09" y2="214.75" stroke="#20c888" stroke-width="0.9" stroke-dasharray="2.4,2"/><path d="M265.79,211.52H268.39M265.79,214.75H268.39" stroke="#20c888" stroke-width="0.9"/><line x1="274.91" y1="208.47" x2="274.91" y2="211.55" stroke="#20c888" stroke-width="0.9" stroke-dasharray="2.4,2"/><path d="M273.61,208.47H276.21M273.61,211.55H276.21" stroke="#20c888" stroke-width="0.9"/><line x1="282.74" y1="204.57" x2="282.74" y2="207.44" stroke="#20c888" stroke-width="0.9" stroke-dasharray="2.4,2"/><path d="M281.44,204.57H284.04M281.44,207.44H284.04" stroke="#20c888" stroke-width="0.9"/><line x1="290.56" y1="201.14" x2="290.56" y2="203.67" stroke="#20c888" stroke-width="0.9" stroke-dasharray="2.4,2"/><path d="M289.26,201.14H291.86M289.26,203.67H291.86" stroke="#20c888" stroke-width="0.9"/><line x1="298.39" y1="192.64" x2="298.39" y2="194.96" stroke="#20c888" stroke-width="0.9" stroke-dasharray="2.4,2"/><path d="M297.09,192.64H299.69M297.09,194.96H299.69" stroke="#20c888" stroke-width="0.9"/><line x1="306.21" y1="188.73" x2="306.21" y2="190.80" stroke="#20c888" stroke-width="0.9" stroke-dasharray="2.4,2"/><path d="M304.91,188.73H307.51M304.91,190.80H307.51" stroke="#20c888" stroke-width="0.9"/><line x1="314.03" y1="180.37" x2="314.03" y2="182.20" stroke="#20c888" stroke-width="0.9" stroke-dasharray="2.4,2"/><path d="M312.73,180.37H315.33M312.73,182.20H315.33" stroke="#20c888" stroke-width="0.9"/><line x1="321.86" y1="174.57" x2="321.86" y2="176.18" stroke="#20c888" stroke-width="0.9" stroke-dasharray="2.4,2"/><path d="M320.56,174.57H323.16M320.56,176.18H323.16" stroke="#20c888" stroke-width="0.9"/><line x1="329.68" y1="165.59" x2="329.68" y2="166.97" stroke="#20c888" stroke-width="0.9" stroke-dasharray="2.4,2"/><path d="M328.38,165.59H330.98M328.38,166.97H330.98" stroke="#20c888" stroke-width="0.9"/><line x1="337.51" y1="157.49" x2="337.51" y2="158.66" stroke="#20c888" stroke-width="0.9" stroke-dasharray="2.4,2"/><path d="M336.21,157.49H338.81M336.21,158.66H338.81" stroke="#20c888" stroke-width="0.9"/><line x1="345.33" y1="145.44" x2="345.33" y2="146.39" stroke="#20c888" stroke-width="0.9" stroke-dasharray="2.4,2"/><path d="M344.03,145.44H346.63M344.03,146.39H346.63" stroke="#20c888" stroke-width="0.9"/><line x1="353.16" y1="128.65" x2="353.16" y2="129.36" stroke="#20c888" stroke-width="0.9" stroke-dasharray="2.4,2"/><path d="M351.86,128.65H354.46M351.86,129.36H354.46" stroke="#20c888" stroke-width="0.9"/><line x1="360.98" y1="106.46" x2="360.98" y2="106.96" stroke="#20c888" stroke-width="0.9" stroke-dasharray="2.4,2"/><path d="M359.68,106.46H362.28M359.68,106.96H362.28" stroke="#20c888" stroke-width="0.9"/><polyline points="55.81,260.21 63.64,263.22 71.46,261.49 79.29,264.00 87.11,265.77 94.94,263.35 102.76,255.99 110.59,263.87 118.41,259.35 126.24,270.10 134.06,273.00 141.89,262.38 149.71,254.53 157.54,254.27 165.36,257.27 173.19,252.35 181.01,248.00 188.84,249.27 196.66,245.19 204.49,245.37 212.31,238.35 220.14,231.49 227.96,229.48 235.79,229.63 243.61,225.77 251.44,224.87 259.26,220.28 267.09,213.08 274.91,209.97 282.74,205.97 290.56,202.37 298.39,193.77 306.21,189.74 314.03,181.27 321.86,175.36 329.68,166.27 337.51,158.06 345.33,145.91 353.16,129.00 360.98,106.71" fill="none" stroke="#20c888" stroke-width="1.0" stroke-dasharray="2.4,2"/><path d="M55.81,257.01L58.61,260.21L55.81,263.41L53.01,260.21Z" fill="#20c888"/><path d="M63.64,260.02L66.44,263.22L63.64,266.42L60.84,263.22Z" fill="#20c888"/><path d="M71.46,258.29L74.26,261.49L71.46,264.69L68.66,261.49Z" fill="#20c888"/><path d="M79.29,260.80L82.09,264.00L79.29,267.20L76.49,264.00Z" fill="#20c888"/><path d="M87.11,262.57L89.91,265.77L87.11,268.97L84.31,265.77Z" fill="#20c888"/><path d="M94.94,260.15L97.74,263.35L94.94,266.55L92.14,263.35Z" fill="#20c888"/><path d="M102.76,252.79L105.56,255.99L102.76,259.19L99.96,255.99Z" fill="#20c888"/><path d="M110.59,260.67L113.39,263.87L110.59,267.07L107.79,263.87Z" fill="#20c888"/><path d="M118.41,256.15L121.21,259.35L118.41,262.55L115.61,259.35Z" fill="#20c888"/><path d="M126.24,266.90L129.04,270.10L126.24,273.30L123.44,270.10Z" fill="#20c888"/><path d="M134.06,269.80L136.86,273.00L134.06,276.20L131.26,273.00Z" fill="#20c888"/><path d="M141.89,259.18L144.69,262.38L141.89,265.58L139.09,262.38Z" fill="#20c888"/><path d="M149.71,251.33L152.51,254.53L149.71,257.73L146.91,254.53Z" fill="#20c888"/><path d="M157.54,251.07L160.34,254.27L157.54,257.47L154.74,254.27Z" fill="#20c888"/><path d="M165.36,254.07L168.16,257.27L165.36,260.47L162.56,257.27Z" fill="#20c888"/><path d="M173.19,249.15L175.99,252.35L173.19,255.55L170.39,252.35Z" fill="#20c888"/><path d="M181.01,244.80L183.81,248.00L181.01,251.20L178.21,248.00Z" fill="#20c888"/><path d="M188.84,246.07L191.64,249.27L188.84,252.47L186.04,249.27Z" fill="#20c888"/><path d="M196.66,241.99L199.46,245.19L196.66,248.39L193.86,245.19Z" fill="#20c888"/><path d="M204.49,242.17L207.29,245.37L204.49,248.57L201.69,245.37Z" fill="#20c888"/><path d="M212.31,235.15L215.11,238.35L212.31,241.55L209.51,238.35Z" fill="#20c888"/><path d="M220.14,228.29L222.94,231.49L220.14,234.69L217.34,231.49Z" fill="#20c888"/><path d="M227.96,226.28L230.76,229.48L227.96,232.68L225.16,229.48Z" fill="#20c888"/><path d="M235.79,226.43L238.59,229.63L235.79,232.83L232.99,229.63Z" fill="#20c888"/><path d="M243.61,222.57L246.41,225.77L243.61,228.97L240.81,225.77Z" fill="#20c888"/><path d="M251.44,221.67L254.24,224.87L251.44,228.07L248.64,224.87Z" fill="#20c888"/><path d="M259.26,217.08L262.06,220.28L259.26,223.48L256.46,220.28Z" fill="#20c888"/><path d="M267.09,209.88L269.89,213.08L267.09,216.28L264.29,213.08Z" fill="#20c888"/><path d="M274.91,206.77L277.71,209.97L274.91,213.17L272.11,209.97Z" fill="#20c888"/><path d="M282.74,202.77L285.54,205.97L282.74,209.17L279.94,205.97Z" fill="#20c888"/><path d="M290.56,199.17L293.36,202.37L290.56,205.57L287.76,202.37Z" fill="#20c888"/><path d="M298.39,190.57L301.19,193.77L298.39,196.97L295.59,193.77Z" fill="#20c888"/><path d="M306.21,186.54L309.01,189.74L306.21,192.94L303.41,189.74Z" fill="#20c888"/><path d="M314.03,178.07L316.83,181.27L314.03,184.47L311.23,181.27Z" fill="#20c888"/><path d="M321.86,172.16L324.66,175.36L321.86,178.56L319.06,175.36Z" fill="#20c888"/><path d="M329.68,163.07L332.48,166.27L329.68,169.47L326.88,166.27Z" fill="#20c888"/><path d="M337.51,154.86L340.31,158.06L337.51,161.26L334.71,158.06Z" fill="#20c888"/><path d="M345.33,142.71L348.13,145.91L345.33,149.11L342.53,145.91Z" fill="#20c888"/><path d="M353.16,125.80L355.96,129.00L353.16,132.20L350.36,129.00Z" fill="#20c888"/><path d="M360.98,103.51L363.78,106.71L360.98,109.91L358.18,106.71Z" fill="#20c888"/><line x1="55.81" y1="257.50" x2="55.81" y2="267.07" stroke="#ff7a30" stroke-width="0.9" stroke-dasharray="4,1.5,1,1.5"/><path d="M54.51,257.50H57.11M54.51,267.07H57.11" stroke="#ff7a30" stroke-width="0.9"/><line x1="63.64" y1="268.10" x2="63.64" y2="277.58" stroke="#ff7a30" stroke-width="0.9" stroke-dasharray="4,1.5,1,1.5"/><path d="M62.34,268.10H64.94M62.34,277.58H64.94" stroke="#ff7a30" stroke-width="0.9"/><line x1="71.46" y1="265.26" x2="71.46" y2="274.65" stroke="#ff7a30" stroke-width="0.9" stroke-dasharray="4,1.5,1,1.5"/><path d="M70.16,265.26H72.76M70.16,274.65H72.76" stroke="#ff7a30" stroke-width="0.9"/><line x1="79.29" y1="256.51" x2="79.29" y2="265.90" stroke="#ff7a30" stroke-width="0.9" stroke-dasharray="4,1.5,1,1.5"/><path d="M77.99,256.51H80.59M77.99,265.90H80.59" stroke="#ff7a30" stroke-width="0.9"/><line x1="87.11" y1="260.99" x2="87.11" y2="270.20" stroke="#ff7a30" stroke-width="0.9" stroke-dasharray="4,1.5,1,1.5"/><path d="M85.81,260.99H88.41M85.81,270.20H88.41" stroke="#ff7a30" stroke-width="0.9"/><line x1="94.94" y1="258.40" x2="94.94" y2="267.43" stroke="#ff7a30" stroke-width="0.9" stroke-dasharray="4,1.5,1,1.5"/><path d="M93.64,258.40H96.24M93.64,267.43H96.24" stroke="#ff7a30" stroke-width="0.9"/><line x1="102.76" y1="259.20" x2="102.76" y2="267.64" stroke="#ff7a30" stroke-width="0.9" stroke-dasharray="4,1.5,1,1.5"/><path d="M101.46,259.20H104.06M101.46,267.64H104.06" stroke="#ff7a30" stroke-width="0.9"/><line x1="110.59" y1="255.36" x2="110.59" y2="263.72" stroke="#ff7a30" stroke-width="0.9" stroke-dasharray="4,1.5,1,1.5"/><path d="M109.29,255.36H111.89M109.29,263.72H111.89" stroke="#ff7a30" stroke-width="0.9"/><line x1="118.41" y1="267.15" x2="118.41" y2="275.51" stroke="#ff7a30" stroke-width="0.9" stroke-dasharray="4,1.5,1,1.5"/><path d="M117.11,267.15H119.71M117.11,275.51H119.71" stroke="#ff7a30" stroke-width="0.9"/><line x1="126.24" y1="252.29" x2="126.24" y2="260.33" stroke="#ff7a30" stroke-width="0.9" stroke-dasharray="4,1.5,1,1.5"/><path d="M124.94,252.29H127.54M124.94,260.33H127.54" stroke="#ff7a30" stroke-width="0.9"/><line x1="134.06" y1="264.74" x2="134.06" y2="272.19" stroke="#ff7a30" stroke-width="0.9" stroke-dasharray="4,1.5,1,1.5"/><path d="M132.76,264.74H135.36M132.76,272.19H135.36" stroke="#ff7a30" stroke-width="0.9"/><line x1="141.89" y1="260.81" x2="141.89" y2="268.39" stroke="#ff7a30" stroke-width="0.9" stroke-dasharray="4,1.5,1,1.5"/><path d="M140.59,260.81H143.19M140.59,268.39H143.19" stroke="#ff7a30" stroke-width="0.9"/><line x1="149.71" y1="245.19" x2="149.71" y2="252.92" stroke="#ff7a30" stroke-width="0.9" stroke-dasharray="4,1.5,1,1.5"/><path d="M148.41,245.19H151.01M148.41,252.92H151.01" stroke="#ff7a30" stroke-width="0.9"/><line x1="157.54" y1="254.61" x2="157.54" y2="261.98" stroke="#ff7a30" stroke-width="0.9" stroke-dasharray="4,1.5,1,1.5"/><path d="M156.24,254.61H158.84M156.24,261.98H158.84" stroke="#ff7a30" stroke-width="0.9"/><line x1="165.36" y1="253.75" x2="165.36" y2="261.34" stroke="#ff7a30" stroke-width="0.9" stroke-dasharray="4,1.5,1,1.5"/><path d="M164.06,253.75H166.66M164.06,261.34H166.66" stroke="#ff7a30" stroke-width="0.9"/><line x1="173.19" y1="256.24" x2="173.19" y2="263.54" stroke="#ff7a30" stroke-width="0.9" stroke-dasharray="4,1.5,1,1.5"/><path d="M171.89,256.24H174.49M171.89,263.54H174.49" stroke="#ff7a30" stroke-width="0.9"/><line x1="181.01" y1="247.64" x2="181.01" y2="254.53" stroke="#ff7a30" stroke-width="0.9" stroke-dasharray="4,1.5,1,1.5"/><path d="M179.71,247.64H182.31M179.71,254.53H182.31" stroke="#ff7a30" stroke-width="0.9"/><line x1="188.84" y1="253.28" x2="188.84" y2="259.78" stroke="#ff7a30" stroke-width="0.9" stroke-dasharray="4,1.5,1,1.5"/><path d="M187.54,253.28H190.14M187.54,259.78H190.14" stroke="#ff7a30" stroke-width="0.9"/><line x1="196.66" y1="242.25" x2="196.66" y2="248.51" stroke="#ff7a30" stroke-width="0.9" stroke-dasharray="4,1.5,1,1.5"/><path d="M195.36,242.25H197.96M195.36,248.51H197.96" stroke="#ff7a30" stroke-width="0.9"/><line x1="204.49" y1="245.74" x2="204.49" y2="251.60" stroke="#ff7a30" stroke-width="0.9" stroke-dasharray="4,1.5,1,1.5"/><path d="M203.19,245.74H205.79M203.19,251.60H205.79" stroke="#ff7a30" stroke-width="0.9"/><line x1="212.31" y1="237.13" x2="212.31" y2="242.71" stroke="#ff7a30" stroke-width="0.9" stroke-dasharray="4,1.5,1,1.5"/><path d="M211.01,237.13H213.61M211.01,242.71H213.61" stroke="#ff7a30" stroke-width="0.9"/><line x1="220.14" y1="235.46" x2="220.14" y2="240.73" stroke="#ff7a30" stroke-width="0.9" stroke-dasharray="4,1.5,1,1.5"/><path d="M218.84,235.46H221.44M218.84,240.73H221.44" stroke="#ff7a30" stroke-width="0.9"/><line x1="227.96" y1="237.81" x2="227.96" y2="242.69" stroke="#ff7a30" stroke-width="0.9" stroke-dasharray="4,1.5,1,1.5"/><path d="M226.66,237.81H229.26M226.66,242.69H229.26" stroke="#ff7a30" stroke-width="0.9"/><line x1="235.79" y1="232.77" x2="235.79" y2="237.46" stroke="#ff7a30" stroke-width="0.9" stroke-dasharray="4,1.5,1,1.5"/><path d="M234.49,232.77H237.09M234.49,237.46H237.09" stroke="#ff7a30" stroke-width="0.9"/><line x1="243.61" y1="227.96" x2="243.61" y2="232.23" stroke="#ff7a30" stroke-width="0.9" stroke-dasharray="4,1.5,1,1.5"/><path d="M242.31,227.96H244.91M242.31,232.23H244.91" stroke="#ff7a30" stroke-width="0.9"/><line x1="251.44" y1="226.48" x2="251.44" y2="230.43" stroke="#ff7a30" stroke-width="0.9" stroke-dasharray="4,1.5,1,1.5"/><path d="M250.14,226.48H252.74M250.14,230.43H252.74" stroke="#ff7a30" stroke-width="0.9"/><line x1="259.26" y1="218.60" x2="259.26" y2="222.06" stroke="#ff7a30" stroke-width="0.9" stroke-dasharray="4,1.5,1,1.5"/><path d="M257.96,218.60H260.56M257.96,222.06H260.56" stroke="#ff7a30" stroke-width="0.9"/><line x1="267.09" y1="215.57" x2="267.09" y2="218.81" stroke="#ff7a30" stroke-width="0.9" stroke-dasharray="4,1.5,1,1.5"/><path d="M265.79,215.57H268.39M265.79,218.81H268.39" stroke="#ff7a30" stroke-width="0.9"/><line x1="274.91" y1="214.64" x2="274.91" y2="217.73" stroke="#ff7a30" stroke-width="0.9" stroke-dasharray="4,1.5,1,1.5"/><path d="M273.61,214.64H276.21M273.61,217.73H276.21" stroke="#ff7a30" stroke-width="0.9"/><line x1="282.74" y1="207.55" x2="282.74" y2="210.41" stroke="#ff7a30" stroke-width="0.9" stroke-dasharray="4,1.5,1,1.5"/><path d="M281.44,207.55H284.04M281.44,210.41H284.04" stroke="#ff7a30" stroke-width="0.9"/><line x1="290.56" y1="203.38" x2="290.56" y2="205.91" stroke="#ff7a30" stroke-width="0.9" stroke-dasharray="4,1.5,1,1.5"/><path d="M289.26,203.38H291.86M289.26,205.91H291.86" stroke="#ff7a30" stroke-width="0.9"/><line x1="298.39" y1="194.99" x2="298.39" y2="197.31" stroke="#ff7a30" stroke-width="0.9" stroke-dasharray="4,1.5,1,1.5"/><path d="M297.09,194.99H299.69M297.09,197.31H299.69" stroke="#ff7a30" stroke-width="0.9"/><line x1="306.21" y1="192.41" x2="306.21" y2="194.48" stroke="#ff7a30" stroke-width="0.9" stroke-dasharray="4,1.5,1,1.5"/><path d="M304.91,192.41H307.51M304.91,194.48H307.51" stroke="#ff7a30" stroke-width="0.9"/><line x1="314.03" y1="184.17" x2="314.03" y2="186.00" stroke="#ff7a30" stroke-width="0.9" stroke-dasharray="4,1.5,1,1.5"/><path d="M312.73,184.17H315.33M312.73,186.00H315.33" stroke="#ff7a30" stroke-width="0.9"/><line x1="321.86" y1="176.33" x2="321.86" y2="177.94" stroke="#ff7a30" stroke-width="0.9" stroke-dasharray="4,1.5,1,1.5"/><path d="M320.56,176.33H323.16M320.56,177.94H323.16" stroke="#ff7a30" stroke-width="0.9"/><line x1="329.68" y1="166.09" x2="329.68" y2="167.47" stroke="#ff7a30" stroke-width="0.9" stroke-dasharray="4,1.5,1,1.5"/><path d="M328.38,166.09H330.98M328.38,167.47H330.98" stroke="#ff7a30" stroke-width="0.9"/><line x1="337.51" y1="160.03" x2="337.51" y2="161.20" stroke="#ff7a30" stroke-width="0.9" stroke-dasharray="4,1.5,1,1.5"/><path d="M336.21,160.03H338.81M336.21,161.20H338.81" stroke="#ff7a30" stroke-width="0.9"/><line x1="345.33" y1="146.89" x2="345.33" y2="147.84" stroke="#ff7a30" stroke-width="0.9" stroke-dasharray="4,1.5,1,1.5"/><path d="M344.03,146.89H346.63M344.03,147.84H346.63" stroke="#ff7a30" stroke-width="0.9"/><line x1="353.16" y1="128.02" x2="353.16" y2="128.74" stroke="#ff7a30" stroke-width="0.9" stroke-dasharray="4,1.5,1,1.5"/><path d="M351.86,128.02H354.46M351.86,128.74H354.46" stroke="#ff7a30" stroke-width="0.9"/><line x1="360.98" y1="102.75" x2="360.98" y2="103.25" stroke="#ff7a30" stroke-width="0.9" stroke-dasharray="4,1.5,1,1.5"/><path d="M359.68,102.75H362.28M359.68,103.25H362.28" stroke="#ff7a30" stroke-width="0.9"/><polyline points="55.81,261.86 63.64,272.42 71.46,269.54 79.29,260.79 87.11,265.19 94.94,262.53 102.76,263.08 110.59,259.21 118.41,271.00 126.24,256.00 134.06,268.20 141.89,264.33 149.71,248.77 157.54,258.03 165.36,257.27 173.19,259.64 181.01,250.86 188.84,256.33 196.66,245.19 204.49,248.51 212.31,239.77 220.14,237.97 227.96,240.14 235.79,235.01 243.61,230.01 251.44,228.38 259.26,220.28 267.09,217.14 274.91,216.14 282.74,208.94 290.56,204.62 298.39,196.12 306.21,193.42 314.03,185.07 321.86,177.12 329.68,166.77 337.51,160.61 345.33,147.36 353.16,128.38 360.98,103.00" fill="none" stroke="#ff7a30" stroke-width="1.0" stroke-dasharray="4,1.5,1,1.5"/><rect x="53.41" y="259.46" width="4.8" height="4.8" fill="#ff7a30"/><rect x="61.24" y="270.02" width="4.8" height="4.8" fill="#ff7a30"/><rect x="69.06" y="267.14" width="4.8" height="4.8" fill="#ff7a30"/><rect x="76.89" y="258.39" width="4.8" height="4.8" fill="#ff7a30"/><rect x="84.71" y="262.79" width="4.8" height="4.8" fill="#ff7a30"/><rect x="92.54" y="260.13" width="4.8" height="4.8" fill="#ff7a30"/><rect x="100.36" y="260.68" width="4.8" height="4.8" fill="#ff7a30"/><rect x="108.19" y="256.81" width="4.8" height="4.8" fill="#ff7a30"/><rect x="116.01" y="268.60" width="4.8" height="4.8" fill="#ff7a30"/><rect x="123.84" y="253.60" width="4.8" height="4.8" fill="#ff7a30"/><rect x="131.66" y="265.80" width="4.8" height="4.8" fill="#ff7a30"/><rect x="139.49" y="261.93" width="4.8" height="4.8" fill="#ff7a30"/><rect x="147.31" y="246.37" width="4.8" height="4.8" fill="#ff7a30"/><rect x="155.14" y="255.63" width="4.8" height="4.8" fill="#ff7a30"/><rect x="162.96" y="254.87" width="4.8" height="4.8" fill="#ff7a30"/><rect x="170.79" y="257.24" width="4.8" height="4.8" fill="#ff7a30"/><rect x="178.61" y="248.46" width="4.8" height="4.8" fill="#ff7a30"/><rect x="186.44" y="253.93" width="4.8" height="4.8" fill="#ff7a30"/><rect x="194.26" y="242.79" width="4.8" height="4.8" fill="#ff7a30"/><rect x="202.09" y="246.11" width="4.8" height="4.8" fill="#ff7a30"/><rect x="209.91" y="237.37" width="4.8" height="4.8" fill="#ff7a30"/><rect x="217.74" y="235.57" width="4.8" height="4.8" fill="#ff7a30"/><rect x="225.56" y="237.74" width="4.8" height="4.8" fill="#ff7a30"/><rect x="233.39" y="232.61" width="4.8" height="4.8" fill="#ff7a30"/><rect x="241.21" y="227.61" width="4.8" height="4.8" fill="#ff7a30"/><rect x="249.04" y="225.98" width="4.8" height="4.8" fill="#ff7a30"/><rect x="256.86" y="217.88" width="4.8" height="4.8" fill="#ff7a30"/><rect x="264.69" y="214.74" width="4.8" height="4.8" fill="#ff7a30"/><rect x="272.51" y="213.74" width="4.8" height="4.8" fill="#ff7a30"/><rect x="280.34" y="206.54" width="4.8" height="4.8" fill="#ff7a30"/><rect x="288.16" y="202.22" width="4.8" height="4.8" fill="#ff7a30"/><rect x="295.99" y="193.72" width="4.8" height="4.8" fill="#ff7a30"/><rect x="303.81" y="191.02" width="4.8" height="4.8" fill="#ff7a30"/><rect x="311.63" y="182.67" width="4.8" height="4.8" fill="#ff7a30"/><rect x="319.46" y="174.72" width="4.8" height="4.8" fill="#ff7a30"/><rect x="327.28" y="164.37" width="4.8" height="4.8" fill="#ff7a30"/><rect x="335.11" y="158.21" width="4.8" height="4.8" fill="#ff7a30"/><rect x="342.93" y="144.96" width="4.8" height="4.8" fill="#ff7a30"/><rect x="350.76" y="125.98" width="4.8" height="4.8" fill="#ff7a30"/><rect x="358.58" y="100.60" width="4.8" height="4.8" fill="#ff7a30"/><line x1="55.81" y1="255.85" x2="55.81" y2="265.42" stroke="#18b818" stroke-width="0.9" stroke-dasharray="2.6,2"/><path d="M54.51,255.85H57.11M54.51,265.42H57.11" stroke="#18b818" stroke-width="0.9"/><line x1="63.64" y1="257.68" x2="63.64" y2="267.16" stroke="#18b818" stroke-width="0.9" stroke-dasharray="2.6,2"/><path d="M62.34,257.68H64.94M62.34,267.16H64.94" stroke="#18b818" stroke-width="0.9"/><line x1="71.46" y1="251.83" x2="71.46" y2="261.22" stroke="#18b818" stroke-width="0.9" stroke-dasharray="2.6,2"/><path d="M70.16,251.83H72.76M70.16,261.22H72.76" stroke="#18b818" stroke-width="0.9"/><line x1="79.29" y1="256.05" x2="79.29" y2="265.43" stroke="#18b818" stroke-width="0.9" stroke-dasharray="2.6,2"/><path d="M77.99,256.05H80.59M77.99,265.43H80.59" stroke="#18b818" stroke-width="0.9"/><line x1="87.11" y1="261.28" x2="87.11" y2="270.48" stroke="#18b818" stroke-width="0.9" stroke-dasharray="2.6,2"/><path d="M85.81,261.28H88.41M85.81,270.48H88.41" stroke="#18b818" stroke-width="0.9"/><line x1="94.94" y1="258.67" x2="94.94" y2="267.70" stroke="#18b818" stroke-width="0.9" stroke-dasharray="2.6,2"/><path d="M93.64,258.67H96.24M93.64,267.70H96.24" stroke="#18b818" stroke-width="0.9"/><line x1="102.76" y1="245.03" x2="102.76" y2="253.47" stroke="#18b818" stroke-width="0.9" stroke-dasharray="2.6,2"/><path d="M101.46,245.03H104.06M101.46,253.47H104.06" stroke="#18b818" stroke-width="0.9"/><line x1="110.59" y1="260.86" x2="110.59" y2="269.21" stroke="#18b818" stroke-width="0.9" stroke-dasharray="2.6,2"/><path d="M109.29,260.86H111.89M109.29,269.21H111.89" stroke="#18b818" stroke-width="0.9"/><line x1="118.41" y1="246.46" x2="118.41" y2="254.81" stroke="#18b818" stroke-width="0.9" stroke-dasharray="2.6,2"/><path d="M117.11,246.46H119.71M117.11,254.81H119.71" stroke="#18b818" stroke-width="0.9"/><line x1="126.24" y1="251.00" x2="126.24" y2="259.04" stroke="#18b818" stroke-width="0.9" stroke-dasharray="2.6,2"/><path d="M124.94,251.00H127.54M124.94,259.04H127.54" stroke="#18b818" stroke-width="0.9"/><line x1="134.06" y1="255.21" x2="134.06" y2="262.65" stroke="#18b818" stroke-width="0.9" stroke-dasharray="2.6,2"/><path d="M132.76,255.21H135.36M132.76,262.65H135.36" stroke="#18b818" stroke-width="0.9"/><line x1="141.89" y1="257.86" x2="141.89" y2="265.45" stroke="#18b818" stroke-width="0.9" stroke-dasharray="2.6,2"/><path d="M140.59,257.86H143.19M140.59,265.45H143.19" stroke="#18b818" stroke-width="0.9"/><line x1="149.71" y1="250.15" x2="149.71" y2="257.89" stroke="#18b818" stroke-width="0.9" stroke-dasharray="2.6,2"/><path d="M148.41,250.15H151.01M148.41,257.89H151.01" stroke="#18b818" stroke-width="0.9"/><line x1="157.54" y1="248.87" x2="157.54" y2="256.24" stroke="#18b818" stroke-width="0.9" stroke-dasharray="2.6,2"/><path d="M156.24,248.87H158.84M156.24,256.24H158.84" stroke="#18b818" stroke-width="0.9"/><line x1="165.36" y1="258.12" x2="165.36" y2="265.71" stroke="#18b818" stroke-width="0.9" stroke-dasharray="2.6,2"/><path d="M164.06,258.12H166.66M164.06,265.71H166.66" stroke="#18b818" stroke-width="0.9"/><line x1="173.19" y1="247.87" x2="173.19" y2="255.17" stroke="#18b818" stroke-width="0.9" stroke-dasharray="2.6,2"/><path d="M171.89,247.87H174.49M171.89,255.17H174.49" stroke="#18b818" stroke-width="0.9"/><line x1="181.01" y1="242.27" x2="181.01" y2="249.16" stroke="#18b818" stroke-width="0.9" stroke-dasharray="2.6,2"/><path d="M179.71,242.27H182.31M179.71,249.16H182.31" stroke="#18b818" stroke-width="0.9"/><line x1="188.84" y1="245.31" x2="188.84" y2="251.81" stroke="#18b818" stroke-width="0.9" stroke-dasharray="2.6,2"/><path d="M187.54,245.31H190.14M187.54,251.81H190.14" stroke="#18b818" stroke-width="0.9"/><line x1="196.66" y1="241.40" x2="196.66" y2="247.66" stroke="#18b818" stroke-width="0.9" stroke-dasharray="2.6,2"/><path d="M195.36,241.40H197.96M195.36,247.66H197.96" stroke="#18b818" stroke-width="0.9"/><line x1="204.49" y1="238.64" x2="204.49" y2="244.50" stroke="#18b818" stroke-width="0.9" stroke-dasharray="2.6,2"/><path d="M203.19,238.64H205.79M203.19,244.50H205.79" stroke="#18b818" stroke-width="0.9"/><line x1="212.31" y1="236.69" x2="212.31" y2="242.27" stroke="#18b818" stroke-width="0.9" stroke-dasharray="2.6,2"/><path d="M211.01,236.69H213.61M211.01,242.27H213.61" stroke="#18b818" stroke-width="0.9"/><line x1="220.14" y1="227.59" x2="220.14" y2="232.86" stroke="#18b818" stroke-width="0.9" stroke-dasharray="2.6,2"/><path d="M218.84,227.59H221.44M218.84,232.86H221.44" stroke="#18b818" stroke-width="0.9"/><line x1="227.96" y1="230.44" x2="227.96" y2="235.32" stroke="#18b818" stroke-width="0.9" stroke-dasharray="2.6,2"/><path d="M226.66,230.44H229.26M226.66,235.32H229.26" stroke="#18b818" stroke-width="0.9"/><line x1="235.79" y1="225.49" x2="235.79" y2="230.19" stroke="#18b818" stroke-width="0.9" stroke-dasharray="2.6,2"/><path d="M234.49,225.49H237.09M234.49,230.19H237.09" stroke="#18b818" stroke-width="0.9"/><line x1="243.61" y1="224.92" x2="243.61" y2="229.19" stroke="#18b818" stroke-width="0.9" stroke-dasharray="2.6,2"/><path d="M242.31,224.92H244.91M242.31,229.19H244.91" stroke="#18b818" stroke-width="0.9"/><line x1="251.44" y1="223.80" x2="251.44" y2="227.75" stroke="#18b818" stroke-width="0.9" stroke-dasharray="2.6,2"/><path d="M250.14,223.80H252.74M250.14,227.75H252.74" stroke="#18b818" stroke-width="0.9"/><line x1="259.26" y1="220.86" x2="259.26" y2="224.32" stroke="#18b818" stroke-width="0.9" stroke-dasharray="2.6,2"/><path d="M257.96,220.86H260.56M257.96,224.32H260.56" stroke="#18b818" stroke-width="0.9"/><line x1="267.09" y1="211.52" x2="267.09" y2="214.75" stroke="#18b818" stroke-width="0.9" stroke-dasharray="2.6,2"/><path d="M265.79,211.52H268.39M265.79,214.75H268.39" stroke="#18b818" stroke-width="0.9"/><line x1="274.91" y1="207.27" x2="274.91" y2="210.36" stroke="#18b818" stroke-width="0.9" stroke-dasharray="2.6,2"/><path d="M273.61,207.27H276.21M273.61,210.36H276.21" stroke="#18b818" stroke-width="0.9"/><line x1="282.74" y1="204.57" x2="282.74" y2="207.44" stroke="#18b818" stroke-width="0.9" stroke-dasharray="2.6,2"/><path d="M281.44,204.57H284.04M281.44,207.44H284.04" stroke="#18b818" stroke-width="0.9"/><line x1="290.56" y1="199.49" x2="290.56" y2="202.01" stroke="#18b818" stroke-width="0.9" stroke-dasharray="2.6,2"/><path d="M289.26,199.49H291.86M289.26,202.01H291.86" stroke="#18b818" stroke-width="0.9"/><line x1="298.39" y1="191.66" x2="298.39" y2="193.98" stroke="#18b818" stroke-width="0.9" stroke-dasharray="2.6,2"/><path d="M297.09,191.66H299.69M297.09,193.98H299.69" stroke="#18b818" stroke-width="0.9"/><line x1="306.21" y1="187.95" x2="306.21" y2="190.02" stroke="#18b818" stroke-width="0.9" stroke-dasharray="2.6,2"/><path d="M304.91,187.95H307.51M304.91,190.02H307.51" stroke="#18b818" stroke-width="0.9"/><line x1="314.03" y1="179.79" x2="314.03" y2="181.62" stroke="#18b818" stroke-width="0.9" stroke-dasharray="2.6,2"/><path d="M312.73,179.79H315.33M312.73,181.62H315.33" stroke="#18b818" stroke-width="0.9"/><line x1="321.86" y1="173.98" x2="321.86" y2="175.59" stroke="#18b818" stroke-width="0.9" stroke-dasharray="2.6,2"/><path d="M320.56,173.98H323.16M320.56,175.59H323.16" stroke="#18b818" stroke-width="0.9"/><line x1="329.68" y1="165.59" x2="329.68" y2="166.97" stroke="#18b818" stroke-width="0.9" stroke-dasharray="2.6,2"/><path d="M328.38,165.59H330.98M328.38,166.97H330.98" stroke="#18b818" stroke-width="0.9"/><line x1="337.51" y1="156.90" x2="337.51" y2="158.07" stroke="#18b818" stroke-width="0.9" stroke-dasharray="2.6,2"/><path d="M336.21,156.90H338.81M336.21,158.07H338.81" stroke="#18b818" stroke-width="0.9"/><line x1="345.33" y1="144.88" x2="345.33" y2="145.83" stroke="#18b818" stroke-width="0.9" stroke-dasharray="2.6,2"/><path d="M344.03,144.88H346.63M344.03,145.83H346.63" stroke="#18b818" stroke-width="0.9"/><line x1="353.16" y1="126.79" x2="353.16" y2="127.51" stroke="#18b818" stroke-width="0.9" stroke-dasharray="2.6,2"/><path d="M351.86,126.79H354.46M351.86,127.51H354.46" stroke="#18b818" stroke-width="0.9"/><line x1="360.98" y1="105.24" x2="360.98" y2="105.74" stroke="#18b818" stroke-width="0.9" stroke-dasharray="2.6,2"/><path d="M359.68,105.24H362.28M359.68,105.74H362.28" stroke="#18b818" stroke-width="0.9"/><polyline points="55.81,260.21 63.64,261.99 71.46,256.11 79.29,260.32 87.11,265.48 94.94,262.80 102.76,248.91 110.59,264.70 118.41,250.30 126.24,254.72 134.06,258.67 141.89,261.38 149.71,253.74 157.54,252.30 165.36,261.64 173.19,251.26 181.01,245.49 188.84,248.36 196.66,244.35 204.49,241.41 212.31,239.34 220.14,230.10 227.96,232.77 235.79,227.74 243.61,226.97 251.44,225.70 259.26,222.53 267.09,213.08 274.91,208.77 282.74,205.97 290.56,200.72 298.39,192.80 306.21,188.97 314.03,180.69 321.86,174.77 329.68,166.27 337.51,157.48 345.33,145.35 353.16,127.15 360.98,105.49" fill="none" stroke="#18b818" stroke-width="1.0" stroke-dasharray="2.6,2"/><path d="M52.81,257.81L58.81,257.81L55.81,263.21Z" fill="#18b818"/><path d="M60.64,259.59L66.64,259.59L63.64,264.99Z" fill="#18b818"/><path d="M68.46,253.71L74.46,253.71L71.46,259.11Z" fill="#18b818"/><path d="M76.29,257.92L82.29,257.92L79.29,263.32Z" fill="#18b818"/><path d="M84.11,263.08L90.11,263.08L87.11,268.48Z" fill="#18b818"/><path d="M91.94,260.40L97.94,260.40L94.94,265.80Z" fill="#18b818"/><path d="M99.76,246.51L105.76,246.51L102.76,251.91Z" fill="#18b818"/><path d="M107.59,262.30L113.59,262.30L110.59,267.70Z" fill="#18b818"/><path d="M115.41,247.90L121.41,247.90L118.41,253.30Z" fill="#18b818"/><path d="M123.24,252.32L129.24,252.32L126.24,257.72Z" fill="#18b818"/><path d="M131.06,256.27L137.06,256.27L134.06,261.67Z" fill="#18b818"/><path d="M138.89,258.98L144.89,258.98L141.89,264.38Z" fill="#18b818"/><path d="M146.71,251.34L152.71,251.34L149.71,256.74Z" fill="#18b818"/><path d="M154.54,249.90L160.54,249.90L157.54,255.30Z" fill="#18b818"/><path d="M162.36,259.24L168.36,259.24L165.36,264.64Z" fill="#18b818"/><path d="M170.19,248.86L176.19,248.86L173.19,254.26Z" fill="#18b818"/><path d="M178.01,243.09L184.01,243.09L181.01,248.49Z" fill="#18b818"/><path d="M185.84,245.96L191.84,245.96L188.84,251.36Z" fill="#18b818"/><path d="M193.66,241.95L199.66,241.95L196.66,247.35Z" fill="#18b818"/><path d="M201.49,239.01L207.49,239.01L204.49,244.41Z" fill="#18b818"/><path d="M209.31,236.94L215.31,236.94L212.31,242.34Z" fill="#18b818"/><path d="M217.14,227.70L223.14,227.70L220.14,233.10Z" fill="#18b818"/><path d="M224.96,230.37L230.96,230.37L227.96,235.77Z" fill="#18b818"/><path d="M232.79,225.34L238.79,225.34L235.79,230.74Z" fill="#18b818"/><path d="M240.61,224.57L246.61,224.57L243.61,229.97Z" fill="#18b818"/><path d="M248.44,223.30L254.44,223.30L251.44,228.70Z" fill="#18b818"/><path d="M256.26,220.13L262.26,220.13L259.26,225.53Z" fill="#18b818"/><path d="M264.09,210.68L270.09,210.68L267.09,216.08Z" fill="#18b818"/><path d="M271.91,206.37L277.91,206.37L274.91,211.77Z" fill="#18b818"/><path d="M279.74,203.57L285.74,203.57L282.74,208.97Z" fill="#18b818"/><path d="M287.56,198.32L293.56,198.32L290.56,203.72Z" fill="#18b818"/><path d="M295.39,190.40L301.39,190.40L298.39,195.80Z" fill="#18b818"/><path d="M303.21,186.57L309.21,186.57L306.21,191.97Z" fill="#18b818"/><path d="M311.03,178.29L317.03,178.29L314.03,183.69Z" fill="#18b818"/><path d="M318.86,172.37L324.86,172.37L321.86,177.77Z" fill="#18b818"/><path d="M326.68,163.87L332.68,163.87L329.68,169.27Z" fill="#18b818"/><path d="M334.51,155.08L340.51,155.08L337.51,160.48Z" fill="#18b818"/><path d="M342.33,142.95L348.33,142.95L345.33,148.35Z" fill="#18b818"/><path d="M350.16,124.75L356.16,124.75L353.16,130.15Z" fill="#18b818"/><path d="M357.98,103.09L363.98,103.09L360.98,108.49Z" fill="#18b818"/><line x1="55.81" y1="257.50" x2="55.81" y2="267.07" stroke="#484848" stroke-width="0.9"/><path d="M54.51,257.50H57.11M54.51,267.07H57.11" stroke="#484848" stroke-width="0.9"/><line x1="63.64" y1="258.06" x2="63.64" y2="267.54" stroke="#484848" stroke-width="0.9"/><path d="M62.34,258.06H64.94M62.34,267.54H64.94" stroke="#484848" stroke-width="0.9"/><line x1="71.46" y1="254.54" x2="71.46" y2="263.92" stroke="#484848" stroke-width="0.9"/><path d="M70.16,254.54H72.76M70.16,263.92H72.76" stroke="#484848" stroke-width="0.9"/><line x1="79.29" y1="256.74" x2="79.29" y2="266.13" stroke="#484848" stroke-width="0.9"/><path d="M77.99,256.74H80.59M77.99,266.13H80.59" stroke="#484848" stroke-width="0.9"/><line x1="87.11" y1="260.62" x2="87.11" y2="269.83" stroke="#484848" stroke-width="0.9"/><path d="M85.81,260.62H88.41M85.81,269.83H88.41" stroke="#484848" stroke-width="0.9"/><line x1="94.94" y1="258.81" x2="94.94" y2="267.84" stroke="#484848" stroke-width="0.9"/><path d="M93.64,258.81H96.24M93.64,267.84H96.24" stroke="#484848" stroke-width="0.9"/><line x1="102.76" y1="248.83" x2="102.76" y2="257.27" stroke="#484848" stroke-width="0.9"/><path d="M101.46,248.83H104.06M101.46,257.27H104.06" stroke="#484848" stroke-width="0.9"/><line x1="110.59" y1="259.05" x2="110.59" y2="267.41" stroke="#484848" stroke-width="0.9"/><path d="M109.29,259.05H111.89M109.29,267.41H111.89" stroke="#484848" stroke-width="0.9"/><line x1="118.41" y1="250.07" x2="118.41" y2="258.43" stroke="#484848" stroke-width="0.9"/><path d="M117.11,250.07H119.71M117.11,258.43H119.71" stroke="#484848" stroke-width="0.9"/><line x1="126.24" y1="245.59" x2="126.24" y2="253.63" stroke="#484848" stroke-width="0.9"/><path d="M124.94,245.59H127.54M124.94,253.63H127.54" stroke="#484848" stroke-width="0.9"/><line x1="134.06" y1="253.28" x2="134.06" y2="260.73" stroke="#484848" stroke-width="0.9"/><path d="M132.76,253.28H135.36M132.76,260.73H135.36" stroke="#484848" stroke-width="0.9"/><line x1="141.89" y1="252.69" x2="141.89" y2="260.28" stroke="#484848" stroke-width="0.9"/><path d="M140.59,252.69H143.19M140.59,260.28H143.19" stroke="#484848" stroke-width="0.9"/><line x1="149.71" y1="246.79" x2="149.71" y2="254.52" stroke="#484848" stroke-width="0.9"/><path d="M148.41,246.79H151.01M148.41,254.52H151.01" stroke="#484848" stroke-width="0.9"/><line x1="157.54" y1="254.34" x2="157.54" y2="261.71" stroke="#484848" stroke-width="0.9"/><path d="M156.24,254.34H158.84M156.24,261.71H158.84" stroke="#484848" stroke-width="0.9"/><line x1="165.36" y1="257.29" x2="165.36" y2="264.88" stroke="#484848" stroke-width="0.9"/><path d="M164.06,257.29H166.66M164.06,264.88H166.66" stroke="#484848" stroke-width="0.9"/><line x1="173.19" y1="248.54" x2="173.19" y2="255.84" stroke="#484848" stroke-width="0.9"/><path d="M171.89,248.54H174.49M171.89,255.84H174.49" stroke="#484848" stroke-width="0.9"/><line x1="181.01" y1="246.07" x2="181.01" y2="252.96" stroke="#484848" stroke-width="0.9"/><path d="M179.71,246.07H182.31M179.71,252.96H182.31" stroke="#484848" stroke-width="0.9"/><line x1="188.84" y1="249.34" x2="188.84" y2="255.84" stroke="#484848" stroke-width="0.9"/><path d="M187.54,249.34H190.14M187.54,255.84H190.14" stroke="#484848" stroke-width="0.9"/><line x1="196.66" y1="241.77" x2="196.66" y2="248.03" stroke="#484848" stroke-width="0.9"/><path d="M195.36,241.77H197.96M195.36,248.03H197.96" stroke="#484848" stroke-width="0.9"/><line x1="204.49" y1="239.22" x2="204.49" y2="245.07" stroke="#484848" stroke-width="0.9"/><path d="M203.19,239.22H205.79M203.19,245.07H205.79" stroke="#484848" stroke-width="0.9"/><line x1="212.31" y1="229.67" x2="212.31" y2="235.25" stroke="#484848" stroke-width="0.9"/><path d="M211.01,229.67H213.61M211.01,235.25H213.61" stroke="#484848" stroke-width="0.9"/><line x1="220.14" y1="226.05" x2="220.14" y2="231.32" stroke="#484848" stroke-width="0.9"/><path d="M218.84,226.05H221.44M218.84,231.32H221.44" stroke="#484848" stroke-width="0.9"/><line x1="227.96" y1="225.89" x2="227.96" y2="230.77" stroke="#484848" stroke-width="0.9"/><path d="M226.66,225.89H229.26M226.66,230.77H229.26" stroke="#484848" stroke-width="0.9"/><line x1="235.79" y1="223.93" x2="235.79" y2="228.62" stroke="#484848" stroke-width="0.9"/><path d="M234.49,223.93H237.09M234.49,228.62H237.09" stroke="#484848" stroke-width="0.9"/><line x1="243.61" y1="221.27" x2="243.61" y2="225.54" stroke="#484848" stroke-width="0.9"/><path d="M242.31,221.27H244.91M242.31,225.54H244.91" stroke="#484848" stroke-width="0.9"/><line x1="251.44" y1="220.16" x2="251.44" y2="224.12" stroke="#484848" stroke-width="0.9"/><path d="M250.14,220.16H252.74M250.14,224.12H252.74" stroke="#484848" stroke-width="0.9"/><line x1="259.26" y1="211.98" x2="259.26" y2="215.44" stroke="#484848" stroke-width="0.9"/><path d="M257.96,211.98H260.56M257.96,215.44H260.56" stroke="#484848" stroke-width="0.9"/><line x1="267.09" y1="205.55" x2="267.09" y2="208.79" stroke="#484848" stroke-width="0.9"/><path d="M265.79,205.55H268.39M265.79,208.79H268.39" stroke="#484848" stroke-width="0.9"/><line x1="274.91" y1="204.08" x2="274.91" y2="207.17" stroke="#484848" stroke-width="0.9"/><path d="M273.61,204.08H276.21M273.61,207.17H276.21" stroke="#484848" stroke-width="0.9"/><line x1="282.74" y1="200.61" x2="282.74" y2="203.47" stroke="#484848" stroke-width="0.9"/><path d="M281.44,200.61H284.04M281.44,203.47H284.04" stroke="#484848" stroke-width="0.9"/><line x1="290.56" y1="196.46" x2="290.56" y2="198.99" stroke="#484848" stroke-width="0.9"/><path d="M289.26,196.46H291.86M289.26,198.99H291.86" stroke="#484848" stroke-width="0.9"/><line x1="298.39" y1="188.58" x2="298.39" y2="190.90" stroke="#484848" stroke-width="0.9"/><path d="M297.09,188.58H299.69M297.09,190.90H299.69" stroke="#484848" stroke-width="0.9"/><line x1="306.21" y1="183.21" x2="306.21" y2="185.28" stroke="#484848" stroke-width="0.9"/><path d="M304.91,183.21H307.51M304.91,185.28H307.51" stroke="#484848" stroke-width="0.9"/><line x1="314.03" y1="176.47" x2="314.03" y2="178.30" stroke="#484848" stroke-width="0.9"/><path d="M312.73,176.47H315.33M312.73,178.30H315.33" stroke="#484848" stroke-width="0.9"/><line x1="321.86" y1="170.27" x2="321.86" y2="171.89" stroke="#484848" stroke-width="0.9"/><path d="M320.56,170.27H323.16M320.56,171.89H323.16" stroke="#484848" stroke-width="0.9"/><line x1="329.68" y1="162.30" x2="329.68" y2="163.68" stroke="#484848" stroke-width="0.9"/><path d="M328.38,162.30H330.98M328.38,163.68H330.98" stroke="#484848" stroke-width="0.9"/><line x1="337.51" y1="156.08" x2="337.51" y2="157.25" stroke="#484848" stroke-width="0.9"/><path d="M336.21,156.08H338.81M336.21,157.25H338.81" stroke="#484848" stroke-width="0.9"/><line x1="345.33" y1="142.75" x2="345.33" y2="143.70" stroke="#484848" stroke-width="0.9"/><path d="M344.03,142.75H346.63M344.03,143.70H346.63" stroke="#484848" stroke-width="0.9"/><line x1="353.16" y1="128.13" x2="353.16" y2="128.84" stroke="#484848" stroke-width="0.9"/><path d="M351.86,128.13H354.46M351.86,128.84H354.46" stroke="#484848" stroke-width="0.9"/><line x1="360.98" y1="108.52" x2="360.98" y2="109.02" stroke="#484848" stroke-width="0.9"/><path d="M359.68,108.52H362.28M359.68,109.02H362.28" stroke="#484848" stroke-width="0.9"/><polyline points="55.81,261.86 63.64,262.38 71.46,258.81 79.29,261.02 87.11,264.82 94.94,262.94 102.76,252.72 110.59,262.90 118.41,253.92 126.24,249.30 134.06,256.74 141.89,256.21 149.71,250.37 157.54,257.77 165.36,260.81 173.19,251.94 181.01,249.29 188.84,252.39 196.66,244.71 204.49,241.98 212.31,232.32 220.14,228.56 227.96,228.22 235.79,226.17 243.61,223.32 251.44,222.06 259.26,213.66 267.09,207.12 274.91,205.58 282.74,202.00 290.56,197.69 298.39,189.72 306.21,184.22 314.03,177.37 321.86,171.07 329.68,162.98 337.51,156.66 345.33,143.22 353.16,128.48 360.98,108.77" fill="none" stroke="#484848" stroke-width="0.9"/><circle cx="55.81" cy="261.86" r="2.3" fill="none" stroke="#484848" stroke-width="1.05"/><circle cx="63.64" cy="262.38" r="2.3" fill="none" stroke="#484848" stroke-width="1.05"/><circle cx="71.46" cy="258.81" r="2.3" fill="none" stroke="#484848" stroke-width="1.05"/><circle cx="79.29" cy="261.02" r="2.3" fill="none" stroke="#484848" stroke-width="1.05"/><circle cx="87.11" cy="264.82" r="2.3" fill="none" stroke="#484848" stroke-width="1.05"/><circle cx="94.94" cy="262.94" r="2.3" fill="none" stroke="#484848" stroke-width="1.05"/><circle cx="102.76" cy="252.72" r="2.3" fill="none" stroke="#484848" stroke-width="1.05"/><circle cx="110.59" cy="262.90" r="2.3" fill="none" stroke="#484848" stroke-width="1.05"/><circle cx="118.41" cy="253.92" r="2.3" fill="none" stroke="#484848" stroke-width="1.05"/><circle cx="126.24" cy="249.30" r="2.3" fill="none" stroke="#484848" stroke-width="1.05"/><circle cx="134.06" cy="256.74" r="2.3" fill="none" stroke="#484848" stroke-width="1.05"/><circle cx="141.89" cy="256.21" r="2.3" fill="none" stroke="#484848" stroke-width="1.05"/><circle cx="149.71" cy="250.37" r="2.3" fill="none" stroke="#484848" stroke-width="1.05"/><circle cx="157.54" cy="257.77" r="2.3" fill="none" stroke="#484848" stroke-width="1.05"/><circle cx="165.36" cy="260.81" r="2.3" fill="none" stroke="#484848" stroke-width="1.05"/><circle cx="173.19" cy="251.94" r="2.3" fill="none" stroke="#484848" stroke-width="1.05"/><circle cx="181.01" cy="249.29" r="2.3" fill="none" stroke="#484848" stroke-width="1.05"/><circle cx="188.84" cy="252.39" r="2.3" fill="none" stroke="#484848" stroke-width="1.05"/><circle cx="196.66" cy="244.71" r="2.3" fill="none" stroke="#484848" stroke-width="1.05"/><circle cx="204.49" cy="241.98" r="2.3" fill="none" stroke="#484848" stroke-width="1.05"/><circle cx="212.31" cy="232.32" r="2.3" fill="none" stroke="#484848" stroke-width="1.05"/><circle cx="220.14" cy="228.56" r="2.3" fill="none" stroke="#484848" stroke-width="1.05"/><circle cx="227.96" cy="228.22" r="2.3" fill="none" stroke="#484848" stroke-width="1.05"/><circle cx="235.79" cy="226.17" r="2.3" fill="none" stroke="#484848" stroke-width="1.05"/><circle cx="243.61" cy="223.32" r="2.3" fill="none" stroke="#484848" stroke-width="1.05"/><circle cx="251.44" cy="222.06" r="2.3" fill="none" stroke="#484848" stroke-width="1.05"/><circle cx="259.26" cy="213.66" r="2.3" fill="none" stroke="#484848" stroke-width="1.05"/><circle cx="267.09" cy="207.12" r="2.3" fill="none" stroke="#484848" stroke-width="1.05"/><circle cx="274.91" cy="205.58" r="2.3" fill="none" stroke="#484848" stroke-width="1.05"/><circle cx="282.74" cy="202.00" r="2.3" fill="none" stroke="#484848" stroke-width="1.05"/><circle cx="290.56" cy="197.69" r="2.3" fill="none" stroke="#484848" stroke-width="1.05"/><circle cx="298.39" cy="189.72" r="2.3" fill="none" stroke="#484848" stroke-width="1.05"/><circle cx="306.21" cy="184.22" r="2.3" fill="none" stroke="#484848" stroke-width="1.05"/><circle cx="314.03" cy="177.37" r="2.3" fill="none" stroke="#484848" stroke-width="1.05"/><circle cx="321.86" cy="171.07" r="2.3" fill="none" stroke="#484848" stroke-width="1.05"/><circle cx="329.68" cy="162.98" r="2.3" fill="none" stroke="#484848" stroke-width="1.05"/><circle cx="337.51" cy="156.66" r="2.3" fill="none" stroke="#484848" stroke-width="1.05"/><circle cx="345.33" cy="143.22" r="2.3" fill="none" stroke="#484848" stroke-width="1.05"/><circle cx="353.16" cy="128.48" r="2.3" fill="none" stroke="#484848" stroke-width="1.05"/><circle cx="360.98" cy="108.77" r="2.3" fill="none" stroke="#484848" stroke-width="1.05"/></g><g clip-path="url(#cr)"><line x1="55.81" y1="387.98" x2="55.81" y2="419.86" stroke="#ff4078" stroke-width="0.9" stroke-dasharray="2.4,1.8"/><path d="M54.51,387.98H57.11M54.51,419.86H57.11" stroke="#ff4078" stroke-width="0.9"/><line x1="63.64" y1="352.72" x2="63.64" y2="384.29" stroke="#ff4078" stroke-width="0.9" stroke-dasharray="2.4,1.8"/><path d="M62.34,352.72H64.94M62.34,384.29H64.94" stroke="#ff4078" stroke-width="0.9"/><line x1="71.46" y1="390.86" x2="71.46" y2="422.12" stroke="#ff4078" stroke-width="0.9" stroke-dasharray="2.4,1.8"/><path d="M70.16,390.86H72.76M70.16,422.12H72.76" stroke="#ff4078" stroke-width="0.9"/><line x1="79.29" y1="351.02" x2="79.29" y2="382.28" stroke="#ff4078" stroke-width="0.9" stroke-dasharray="2.4,1.8"/><path d="M77.99,351.02H80.59M77.99,382.28H80.59" stroke="#ff4078" stroke-width="0.9"/><line x1="87.11" y1="399.07" x2="87.11" y2="429.73" stroke="#ff4078" stroke-width="0.9" stroke-dasharray="2.4,1.8"/><path d="M85.81,399.07H88.41M85.81,429.73H88.41" stroke="#ff4078" stroke-width="0.9"/><line x1="94.94" y1="390.40" x2="94.94" y2="420.47" stroke="#ff4078" stroke-width="0.9" stroke-dasharray="2.4,1.8"/><path d="M93.64,390.40H96.24M93.64,420.47H96.24" stroke="#ff4078" stroke-width="0.9"/><line x1="102.76" y1="370.75" x2="102.76" y2="398.85" stroke="#ff4078" stroke-width="0.9" stroke-dasharray="2.4,1.8"/><path d="M101.46,370.75H104.06M101.46,398.85H104.06" stroke="#ff4078" stroke-width="0.9"/><line x1="110.59" y1="394.21" x2="110.59" y2="422.04" stroke="#ff4078" stroke-width="0.9" stroke-dasharray="2.4,1.8"/><path d="M109.29,394.21H111.89M109.29,422.04H111.89" stroke="#ff4078" stroke-width="0.9"/><line x1="118.41" y1="362.69" x2="118.41" y2="390.52" stroke="#ff4078" stroke-width="0.9" stroke-dasharray="2.4,1.8"/><path d="M117.11,362.69H119.71M117.11,390.52H119.71" stroke="#ff4078" stroke-width="0.9"/><line x1="126.24" y1="375.51" x2="126.24" y2="402.28" stroke="#ff4078" stroke-width="0.9" stroke-dasharray="2.4,1.8"/><path d="M124.94,375.51H127.54M124.94,402.28H127.54" stroke="#ff4078" stroke-width="0.9"/><line x1="134.06" y1="393.58" x2="134.06" y2="418.37" stroke="#ff4078" stroke-width="0.9" stroke-dasharray="2.4,1.8"/><path d="M132.76,393.58H135.36M132.76,418.37H135.36" stroke="#ff4078" stroke-width="0.9"/><line x1="141.89" y1="387.84" x2="141.89" y2="413.11" stroke="#ff4078" stroke-width="0.9" stroke-dasharray="2.4,1.8"/><path d="M140.59,387.84H143.19M140.59,413.11H143.19" stroke="#ff4078" stroke-width="0.9"/><line x1="149.71" y1="381.59" x2="149.71" y2="407.35" stroke="#ff4078" stroke-width="0.9" stroke-dasharray="2.4,1.8"/><path d="M148.41,381.59H151.01M148.41,407.35H151.01" stroke="#ff4078" stroke-width="0.9"/><line x1="157.54" y1="392.74" x2="157.54" y2="417.29" stroke="#ff4078" stroke-width="0.9" stroke-dasharray="2.4,1.8"/><path d="M156.24,392.74H158.84M156.24,417.29H158.84" stroke="#ff4078" stroke-width="0.9"/><line x1="165.36" y1="370.11" x2="165.36" y2="395.38" stroke="#ff4078" stroke-width="0.9" stroke-dasharray="2.4,1.8"/><path d="M164.06,370.11H166.66M164.06,395.38H166.66" stroke="#ff4078" stroke-width="0.9"/><line x1="173.19" y1="380.72" x2="173.19" y2="405.04" stroke="#ff4078" stroke-width="0.9" stroke-dasharray="2.4,1.8"/><path d="M171.89,380.72H174.49M171.89,405.04H174.49" stroke="#ff4078" stroke-width="0.9"/><line x1="181.01" y1="354.72" x2="181.01" y2="377.67" stroke="#ff4078" stroke-width="0.9" stroke-dasharray="2.4,1.8"/><path d="M179.71,354.72H182.31M179.71,377.67H182.31" stroke="#ff4078" stroke-width="0.9"/><line x1="188.84" y1="386.77" x2="188.84" y2="408.43" stroke="#ff4078" stroke-width="0.9" stroke-dasharray="2.4,1.8"/><path d="M187.54,386.77H190.14M187.54,408.43H190.14" stroke="#ff4078" stroke-width="0.9"/><line x1="196.66" y1="389.76" x2="196.66" y2="410.61" stroke="#ff4078" stroke-width="0.9" stroke-dasharray="2.4,1.8"/><path d="M195.36,389.76H197.96M195.36,410.61H197.96" stroke="#ff4078" stroke-width="0.9"/><line x1="204.49" y1="399.79" x2="204.49" y2="419.28" stroke="#ff4078" stroke-width="0.9" stroke-dasharray="2.4,1.8"/><path d="M203.19,399.79H205.79M203.19,419.28H205.79" stroke="#ff4078" stroke-width="0.9"/><line x1="212.31" y1="380.65" x2="212.31" y2="399.24" stroke="#ff4078" stroke-width="0.9" stroke-dasharray="2.4,1.8"/><path d="M211.01,380.65H213.61M211.01,399.24H213.61" stroke="#ff4078" stroke-width="0.9"/><line x1="220.14" y1="393.96" x2="220.14" y2="411.50" stroke="#ff4078" stroke-width="0.9" stroke-dasharray="2.4,1.8"/><path d="M218.84,393.96H221.44M218.84,411.50H221.44" stroke="#ff4078" stroke-width="0.9"/><line x1="227.96" y1="396.41" x2="227.96" y2="412.66" stroke="#ff4078" stroke-width="0.9" stroke-dasharray="2.4,1.8"/><path d="M226.66,396.41H229.26M226.66,412.66H229.26" stroke="#ff4078" stroke-width="0.9"/><line x1="235.79" y1="393.00" x2="235.79" y2="408.64" stroke="#ff4078" stroke-width="0.9" stroke-dasharray="2.4,1.8"/><path d="M234.49,393.00H237.09M234.49,408.64H237.09" stroke="#ff4078" stroke-width="0.9"/><line x1="243.61" y1="391.86" x2="243.61" y2="406.08" stroke="#ff4078" stroke-width="0.9" stroke-dasharray="2.4,1.8"/><path d="M242.31,391.86H244.91M242.31,406.08H244.91" stroke="#ff4078" stroke-width="0.9"/><line x1="251.44" y1="408.84" x2="251.44" y2="422.01" stroke="#ff4078" stroke-width="0.9" stroke-dasharray="2.4,1.8"/><path d="M250.14,408.84H252.74M250.14,422.01H252.74" stroke="#ff4078" stroke-width="0.9"/><line x1="259.26" y1="413.43" x2="259.26" y2="424.95" stroke="#ff4078" stroke-width="0.9" stroke-dasharray="2.4,1.8"/><path d="M257.96,413.43H260.56M257.96,424.95H260.56" stroke="#ff4078" stroke-width="0.9"/><line x1="267.09" y1="409.95" x2="267.09" y2="420.73" stroke="#ff4078" stroke-width="0.9" stroke-dasharray="2.4,1.8"/><path d="M265.79,409.95H268.39M265.79,420.73H268.39" stroke="#ff4078" stroke-width="0.9"/><line x1="274.91" y1="405.01" x2="274.91" y2="415.29" stroke="#ff4078" stroke-width="0.9" stroke-dasharray="2.4,1.8"/><path d="M273.61,405.01H276.21M273.61,415.29H276.21" stroke="#ff4078" stroke-width="0.9"/><line x1="282.74" y1="408.44" x2="282.74" y2="417.96" stroke="#ff4078" stroke-width="0.9" stroke-dasharray="2.4,1.8"/><path d="M281.44,408.44H284.04M281.44,417.96H284.04" stroke="#ff4078" stroke-width="0.9"/><line x1="290.56" y1="406.90" x2="290.56" y2="415.32" stroke="#ff4078" stroke-width="0.9" stroke-dasharray="2.4,1.8"/><path d="M289.26,406.90H291.86M289.26,415.32H291.86" stroke="#ff4078" stroke-width="0.9"/><line x1="298.39" y1="397.60" x2="298.39" y2="405.32" stroke="#ff4078" stroke-width="0.9" stroke-dasharray="2.4,1.8"/><path d="M297.09,397.60H299.69M297.09,405.32H299.69" stroke="#ff4078" stroke-width="0.9"/><line x1="306.21" y1="407.63" x2="306.21" y2="414.52" stroke="#ff4078" stroke-width="0.9" stroke-dasharray="2.4,1.8"/><path d="M304.91,407.63H307.51M304.91,414.52H307.51" stroke="#ff4078" stroke-width="0.9"/><line x1="314.03" y1="401.35" x2="314.03" y2="407.44" stroke="#ff4078" stroke-width="0.9" stroke-dasharray="2.4,1.8"/><path d="M312.73,401.35H315.33M312.73,407.44H315.33" stroke="#ff4078" stroke-width="0.9"/><line x1="321.86" y1="406.35" x2="321.86" y2="411.73" stroke="#ff4078" stroke-width="0.9" stroke-dasharray="2.4,1.8"/><path d="M320.56,406.35H323.16M320.56,411.73H323.16" stroke="#ff4078" stroke-width="0.9"/><line x1="329.68" y1="407.74" x2="329.68" y2="412.31" stroke="#ff4078" stroke-width="0.9" stroke-dasharray="2.4,1.8"/><path d="M328.38,407.74H330.98M328.38,412.31H330.98" stroke="#ff4078" stroke-width="0.9"/><line x1="337.51" y1="408.07" x2="337.51" y2="411.96" stroke="#ff4078" stroke-width="0.9" stroke-dasharray="2.4,1.8"/><path d="M336.21,408.07H338.81M336.21,411.96H338.81" stroke="#ff4078" stroke-width="0.9"/><line x1="345.33" y1="405.46" x2="345.33" y2="408.62" stroke="#ff4078" stroke-width="0.9" stroke-dasharray="2.4,1.8"/><path d="M344.03,405.46H346.63M344.03,408.62H346.63" stroke="#ff4078" stroke-width="0.9"/><line x1="353.16" y1="401.57" x2="353.16" y2="403.95" stroke="#ff4078" stroke-width="0.9" stroke-dasharray="2.4,1.8"/><path d="M351.86,401.57H354.46M351.86,403.95H354.46" stroke="#ff4078" stroke-width="0.9"/><line x1="360.98" y1="391.04" x2="360.98" y2="392.71" stroke="#ff4078" stroke-width="0.9" stroke-dasharray="2.4,1.8"/><path d="M359.68,391.04H362.28M359.68,392.71H362.28" stroke="#ff4078" stroke-width="0.9"/><polyline points="55.81,402.48 63.64,367.09 71.46,405.10 79.29,365.26 87.11,413.07 94.94,404.16 102.76,383.68 110.59,407.03 118.41,375.50 126.24,387.88 134.06,405.10 141.89,399.57 149.71,393.53 157.54,404.16 165.36,381.83 173.19,392.04 181.01,365.44 188.84,396.93 196.66,399.57 204.49,408.99 212.31,389.45 220.14,402.29 227.96,404.16 235.79,400.47 243.61,398.68 251.44,415.18 259.26,419.00 267.09,415.18 274.91,410.00 282.74,413.07 290.56,411.01 298.39,401.37 306.21,411.01 314.03,404.34 321.86,408.99 329.68,410.00 337.51,410.00 345.33,407.03 353.16,402.75 360.98,391.88" fill="none" stroke="#ff4078" stroke-width="1.0" stroke-dasharray="2.4,1.8"/><circle cx="55.81" cy="402.48" r="2.3" fill="none" stroke="#ff4078" stroke-width="1.05"/><circle cx="63.64" cy="367.09" r="2.3" fill="none" stroke="#ff4078" stroke-width="1.05"/><circle cx="71.46" cy="405.10" r="2.3" fill="none" stroke="#ff4078" stroke-width="1.05"/><circle cx="79.29" cy="365.26" r="2.3" fill="none" stroke="#ff4078" stroke-width="1.05"/><circle cx="87.11" cy="413.07" r="2.3" fill="none" stroke="#ff4078" stroke-width="1.05"/><circle cx="94.94" cy="404.16" r="2.3" fill="none" stroke="#ff4078" stroke-width="1.05"/><circle cx="102.76" cy="383.68" r="2.3" fill="none" stroke="#ff4078" stroke-width="1.05"/><circle cx="110.59" cy="407.03" r="2.3" fill="none" stroke="#ff4078" stroke-width="1.05"/><circle cx="118.41" cy="375.50" r="2.3" fill="none" stroke="#ff4078" stroke-width="1.05"/><circle cx="126.24" cy="387.88" r="2.3" fill="none" stroke="#ff4078" stroke-width="1.05"/><circle cx="134.06" cy="405.10" r="2.3" fill="none" stroke="#ff4078" stroke-width="1.05"/><circle cx="141.89" cy="399.57" r="2.3" fill="none" stroke="#ff4078" stroke-width="1.05"/><circle cx="149.71" cy="393.53" r="2.3" fill="none" stroke="#ff4078" stroke-width="1.05"/><circle cx="157.54" cy="404.16" r="2.3" fill="none" stroke="#ff4078" stroke-width="1.05"/><circle cx="165.36" cy="381.83" r="2.3" fill="none" stroke="#ff4078" stroke-width="1.05"/><circle cx="173.19" cy="392.04" r="2.3" fill="none" stroke="#ff4078" stroke-width="1.05"/><circle cx="181.01" cy="365.44" r="2.3" fill="none" stroke="#ff4078" stroke-width="1.05"/><circle cx="188.84" cy="396.93" r="2.3" fill="none" stroke="#ff4078" stroke-width="1.05"/><circle cx="196.66" cy="399.57" r="2.3" fill="none" stroke="#ff4078" stroke-width="1.05"/><circle cx="204.49" cy="408.99" r="2.3" fill="none" stroke="#ff4078" stroke-width="1.05"/><circle cx="212.31" cy="389.45" r="2.3" fill="none" stroke="#ff4078" stroke-width="1.05"/><circle cx="220.14" cy="402.29" r="2.3" fill="none" stroke="#ff4078" stroke-width="1.05"/><circle cx="227.96" cy="404.16" r="2.3" fill="none" stroke="#ff4078" stroke-width="1.05"/><circle cx="235.79" cy="400.47" r="2.3" fill="none" stroke="#ff4078" stroke-width="1.05"/><circle cx="243.61" cy="398.68" r="2.3" fill="none" stroke="#ff4078" stroke-width="1.05"/><circle cx="251.44" cy="415.18" r="2.3" fill="none" stroke="#ff4078" stroke-width="1.05"/><circle cx="259.26" cy="419.00" r="2.3" fill="none" stroke="#ff4078" stroke-width="1.05"/><circle cx="267.09" cy="415.18" r="2.3" fill="none" stroke="#ff4078" stroke-width="1.05"/><circle cx="274.91" cy="410.00" r="2.3" fill="none" stroke="#ff4078" stroke-width="1.05"/><circle cx="282.74" cy="413.07" r="2.3" fill="none" stroke="#ff4078" stroke-width="1.05"/><circle cx="290.56" cy="411.01" r="2.3" fill="none" stroke="#ff4078" stroke-width="1.05"/><circle cx="298.39" cy="401.37" r="2.3" fill="none" stroke="#ff4078" stroke-width="1.05"/><circle cx="306.21" cy="411.01" r="2.3" fill="none" stroke="#ff4078" stroke-width="1.05"/><circle cx="314.03" cy="404.34" r="2.3" fill="none" stroke="#ff4078" stroke-width="1.05"/><circle cx="321.86" cy="408.99" r="2.3" fill="none" stroke="#ff4078" stroke-width="1.05"/><circle cx="329.68" cy="410.00" r="2.3" fill="none" stroke="#ff4078" stroke-width="1.05"/><circle cx="337.51" cy="410.00" r="2.3" fill="none" stroke="#ff4078" stroke-width="1.05"/><circle cx="345.33" cy="407.03" r="2.3" fill="none" stroke="#ff4078" stroke-width="1.05"/><circle cx="353.16" cy="402.75" r="2.3" fill="none" stroke="#ff4078" stroke-width="1.05"/><circle cx="360.98" cy="391.88" r="2.3" fill="none" stroke="#ff4078" stroke-width="1.05"/><line x1="55.81" y1="367.34" x2="55.81" y2="399.21" stroke="#20c888" stroke-width="0.9" stroke-dasharray="2.4,2"/><path d="M54.51,367.34H57.11M54.51,399.21H57.11" stroke="#20c888" stroke-width="0.9"/><line x1="63.64" y1="379.16" x2="63.64" y2="410.72" stroke="#20c888" stroke-width="0.9" stroke-dasharray="2.4,2"/><path d="M62.34,379.16H64.94M62.34,410.72H64.94" stroke="#20c888" stroke-width="0.9"/><line x1="71.46" y1="375.21" x2="71.46" y2="406.47" stroke="#20c888" stroke-width="0.9" stroke-dasharray="2.4,2"/><path d="M70.16,375.21H72.76M70.16,406.47H72.76" stroke="#20c888" stroke-width="0.9"/><line x1="79.29" y1="383.56" x2="79.29" y2="414.82" stroke="#20c888" stroke-width="0.9" stroke-dasharray="2.4,2"/><path d="M77.99,383.56H80.59M77.99,414.82H80.59" stroke="#20c888" stroke-width="0.9"/><line x1="87.11" y1="393.03" x2="87.11" y2="423.69" stroke="#20c888" stroke-width="0.9" stroke-dasharray="2.4,2"/><path d="M85.81,393.03H88.41M85.81,423.69H88.41" stroke="#20c888" stroke-width="0.9"/><line x1="94.94" y1="388.54" x2="94.94" y2="418.61" stroke="#20c888" stroke-width="0.9" stroke-dasharray="2.4,2"/><path d="M93.64,388.54H96.24M93.64,418.61H96.24" stroke="#20c888" stroke-width="0.9"/><line x1="102.76" y1="376.53" x2="102.76" y2="404.63" stroke="#20c888" stroke-width="0.9" stroke-dasharray="2.4,2"/><path d="M101.46,376.53H104.06M101.46,404.63H104.06" stroke="#20c888" stroke-width="0.9"/><line x1="110.59" y1="404.53" x2="110.59" y2="432.36" stroke="#20c888" stroke-width="0.9" stroke-dasharray="2.4,2"/><path d="M109.29,404.53H111.89M109.29,432.36H111.89" stroke="#20c888" stroke-width="0.9"/><line x1="118.41" y1="389.48" x2="118.41" y2="417.31" stroke="#20c888" stroke-width="0.9" stroke-dasharray="2.4,2"/><path d="M117.11,389.48H119.71M117.11,417.31H119.71" stroke="#20c888" stroke-width="0.9"/><line x1="126.24" y1="432.38" x2="126.24" y2="459.16" stroke="#20c888" stroke-width="0.9" stroke-dasharray="2.4,2"/><path d="M124.94,432.38H127.54M124.94,459.16H127.54" stroke="#20c888" stroke-width="0.9"/><line x1="134.06" y1="456.21" x2="134.06" y2="480.99" stroke="#20c888" stroke-width="0.9" stroke-dasharray="2.4,2"/><path d="M132.76,456.21H135.36M132.76,480.99H135.36" stroke="#20c888" stroke-width="0.9"/><line x1="141.89" y1="417.31" x2="141.89" y2="442.58" stroke="#20c888" stroke-width="0.9" stroke-dasharray="2.4,2"/><path d="M140.59,417.31H143.19M140.59,442.58H143.19" stroke="#20c888" stroke-width="0.9"/><line x1="149.71" y1="387.63" x2="149.71" y2="413.39" stroke="#20c888" stroke-width="0.9" stroke-dasharray="2.4,2"/><path d="M148.41,387.63H151.01M148.41,413.39H151.01" stroke="#20c888" stroke-width="0.9"/><line x1="157.54" y1="395.61" x2="157.54" y2="420.16" stroke="#20c888" stroke-width="0.9" stroke-dasharray="2.4,2"/><path d="M156.24,395.61H158.84M156.24,420.16H158.84" stroke="#20c888" stroke-width="0.9"/><line x1="165.36" y1="400.31" x2="165.36" y2="425.57" stroke="#20c888" stroke-width="0.9" stroke-dasharray="2.4,2"/><path d="M164.06,400.31H166.66M164.06,425.57H166.66" stroke="#20c888" stroke-width="0.9"/><line x1="173.19" y1="390.98" x2="173.19" y2="415.29" stroke="#20c888" stroke-width="0.9" stroke-dasharray="2.4,2"/><path d="M171.89,390.98H174.49M171.89,415.29H174.49" stroke="#20c888" stroke-width="0.9"/><line x1="181.01" y1="387.08" x2="181.01" y2="410.02" stroke="#20c888" stroke-width="0.9" stroke-dasharray="2.4,2"/><path d="M179.71,387.08H182.31M179.71,410.02H182.31" stroke="#20c888" stroke-width="0.9"/><line x1="188.84" y1="401.87" x2="188.84" y2="423.53" stroke="#20c888" stroke-width="0.9" stroke-dasharray="2.4,2"/><path d="M187.54,401.87H190.14M187.54,423.53H190.14" stroke="#20c888" stroke-width="0.9"/><line x1="196.66" y1="395.30" x2="196.66" y2="416.14" stroke="#20c888" stroke-width="0.9" stroke-dasharray="2.4,2"/><path d="M195.36,395.30H197.96M195.36,416.14H197.96" stroke="#20c888" stroke-width="0.9"/><line x1="204.49" y1="408.14" x2="204.49" y2="427.63" stroke="#20c888" stroke-width="0.9" stroke-dasharray="2.4,2"/><path d="M203.19,408.14H205.79M203.19,427.63H205.79" stroke="#20c888" stroke-width="0.9"/><line x1="212.31" y1="393.49" x2="212.31" y2="412.07" stroke="#20c888" stroke-width="0.9" stroke-dasharray="2.4,2"/><path d="M211.01,393.49H213.61M211.01,412.07H213.61" stroke="#20c888" stroke-width="0.9"/><line x1="220.14" y1="381.12" x2="220.14" y2="398.66" stroke="#20c888" stroke-width="0.9" stroke-dasharray="2.4,2"/><path d="M218.84,381.12H221.44M218.84,398.66H221.44" stroke="#20c888" stroke-width="0.9"/><line x1="227.96" y1="388.32" x2="227.96" y2="404.57" stroke="#20c888" stroke-width="0.9" stroke-dasharray="2.4,2"/><path d="M226.66,388.32H229.26M226.66,404.57H229.26" stroke="#20c888" stroke-width="0.9"/><line x1="235.79" y1="395.75" x2="235.79" y2="411.39" stroke="#20c888" stroke-width="0.9" stroke-dasharray="2.4,2"/><path d="M234.49,395.75H237.09M234.49,411.39H237.09" stroke="#20c888" stroke-width="0.9"/><line x1="243.61" y1="400.21" x2="243.61" y2="414.42" stroke="#20c888" stroke-width="0.9" stroke-dasharray="2.4,2"/><path d="M242.31,400.21H244.91M242.31,414.42H244.91" stroke="#20c888" stroke-width="0.9"/><line x1="251.44" y1="411.00" x2="251.44" y2="424.17" stroke="#20c888" stroke-width="0.9" stroke-dasharray="2.4,2"/><path d="M250.14,411.00H252.74M250.14,424.17H252.74" stroke="#20c888" stroke-width="0.9"/><line x1="259.26" y1="419.79" x2="259.26" y2="431.31" stroke="#20c888" stroke-width="0.9" stroke-dasharray="2.4,2"/><path d="M257.96,419.79H260.56M257.96,431.31H260.56" stroke="#20c888" stroke-width="0.9"/><line x1="267.09" y1="407.84" x2="267.09" y2="418.62" stroke="#20c888" stroke-width="0.9" stroke-dasharray="2.4,2"/><path d="M265.79,407.84H268.39M265.79,418.62H268.39" stroke="#20c888" stroke-width="0.9"/><line x1="274.91" y1="406.02" x2="274.91" y2="416.30" stroke="#20c888" stroke-width="0.9" stroke-dasharray="2.4,2"/><path d="M273.61,406.02H276.21M273.61,416.30H276.21" stroke="#20c888" stroke-width="0.9"/><line x1="282.74" y1="406.37" x2="282.74" y2="415.90" stroke="#20c888" stroke-width="0.9" stroke-dasharray="2.4,2"/><path d="M281.44,406.37H284.04M281.44,415.90H284.04" stroke="#20c888" stroke-width="0.9"/><line x1="290.56" y1="416.58" x2="290.56" y2="425.00" stroke="#20c888" stroke-width="0.9" stroke-dasharray="2.4,2"/><path d="M289.26,416.58H291.86M289.26,425.00H291.86" stroke="#20c888" stroke-width="0.9"/><line x1="298.39" y1="403.25" x2="298.39" y2="410.97" stroke="#20c888" stroke-width="0.9" stroke-dasharray="2.4,2"/><path d="M297.09,403.25H299.69M297.09,410.97H299.69" stroke="#20c888" stroke-width="0.9"/><line x1="306.21" y1="410.21" x2="306.21" y2="417.10" stroke="#20c888" stroke-width="0.9" stroke-dasharray="2.4,2"/><path d="M304.91,410.21H307.51M304.91,417.10H307.51" stroke="#20c888" stroke-width="0.9"/><line x1="314.03" y1="404.03" x2="314.03" y2="410.12" stroke="#20c888" stroke-width="0.9" stroke-dasharray="2.4,2"/><path d="M312.73,404.03H315.33M312.73,410.12H315.33" stroke="#20c888" stroke-width="0.9"/><line x1="321.86" y1="406.35" x2="321.86" y2="411.73" stroke="#20c888" stroke-width="0.9" stroke-dasharray="2.4,2"/><path d="M320.56,406.35H323.16M320.56,411.73H323.16" stroke="#20c888" stroke-width="0.9"/><line x1="329.68" y1="404.77" x2="329.68" y2="409.35" stroke="#20c888" stroke-width="0.9" stroke-dasharray="2.4,2"/><path d="M328.38,404.77H330.98M328.38,409.35H330.98" stroke="#20c888" stroke-width="0.9"/><line x1="337.51" y1="406.08" x2="337.51" y2="409.97" stroke="#20c888" stroke-width="0.9" stroke-dasharray="2.4,2"/><path d="M336.21,406.08H338.81M336.21,409.97H338.81" stroke="#20c888" stroke-width="0.9"/><line x1="345.33" y1="402.59" x2="345.33" y2="405.75" stroke="#20c888" stroke-width="0.9" stroke-dasharray="2.4,2"/><path d="M344.03,402.59H346.63M344.03,405.75H346.63" stroke="#20c888" stroke-width="0.9"/><line x1="353.16" y1="396.62" x2="353.16" y2="399.00" stroke="#20c888" stroke-width="0.9" stroke-dasharray="2.4,2"/><path d="M351.86,396.62H354.46M351.86,399.00H354.46" stroke="#20c888" stroke-width="0.9"/><line x1="360.98" y1="384.35" x2="360.98" y2="386.02" stroke="#20c888" stroke-width="0.9" stroke-dasharray="2.4,2"/><path d="M359.68,384.35H362.28M359.68,386.02H362.28" stroke="#20c888" stroke-width="0.9"/><polyline points="55.81,381.83 63.64,393.53 71.46,389.45 79.29,397.80 87.11,407.03 94.94,402.29 102.76,389.45 110.59,417.34 118.41,402.29 126.24,444.75 134.06,467.73 141.89,429.03 149.71,399.57 157.54,407.03 165.36,412.03 173.19,402.29 181.01,397.80 188.84,412.03 196.66,405.10 204.49,417.34 212.31,402.29 220.14,389.45 227.96,396.07 235.79,403.22 243.61,407.03 251.44,417.34 259.26,425.36 267.09,413.07 274.91,411.01 282.74,411.01 290.56,420.69 298.39,407.03 306.21,413.59 314.03,407.03 321.86,408.99 329.68,407.03 337.51,408.01 345.33,404.16 353.16,397.80 360.98,385.18" fill="none" stroke="#20c888" stroke-width="1.0" stroke-dasharray="2.4,2"/><path d="M55.81,378.63L58.61,381.83L55.81,385.03L53.01,381.83Z" fill="#20c888"/><path d="M63.64,390.33L66.44,393.53L63.64,396.73L60.84,393.53Z" fill="#20c888"/><path d="M71.46,386.25L74.26,389.45L71.46,392.65L68.66,389.45Z" fill="#20c888"/><path d="M79.29,394.60L82.09,397.80L79.29,401.00L76.49,397.80Z" fill="#20c888"/><path d="M87.11,403.83L89.91,407.03L87.11,410.23L84.31,407.03Z" fill="#20c888"/><path d="M94.94,399.09L97.74,402.29L94.94,405.49L92.14,402.29Z" fill="#20c888"/><path d="M102.76,386.25L105.56,389.45L102.76,392.65L99.96,389.45Z" fill="#20c888"/><path d="M110.59,414.14L113.39,417.34L110.59,420.54L107.79,417.34Z" fill="#20c888"/><path d="M118.41,399.09L121.21,402.29L118.41,405.49L115.61,402.29Z" fill="#20c888"/><path d="M126.24,441.55L129.04,444.75L126.24,447.95L123.44,444.75Z" fill="#20c888"/><path d="M134.06,464.53L136.86,467.73L134.06,470.93L131.26,467.73Z" fill="#20c888"/><path d="M141.89,425.83L144.69,429.03L141.89,432.23L139.09,429.03Z" fill="#20c888"/><path d="M149.71,396.37L152.51,399.57L149.71,402.77L146.91,399.57Z" fill="#20c888"/><path d="M157.54,403.83L160.34,407.03L157.54,410.23L154.74,407.03Z" fill="#20c888"/><path d="M165.36,408.83L168.16,412.03L165.36,415.23L162.56,412.03Z" fill="#20c888"/><path d="M173.19,399.09L175.99,402.29L173.19,405.49L170.39,402.29Z" fill="#20c888"/><path d="M181.01,394.60L183.81,397.80L181.01,401.00L178.21,397.80Z" fill="#20c888"/><path d="M188.84,408.83L191.64,412.03L188.84,415.23L186.04,412.03Z" fill="#20c888"/><path d="M196.66,401.90L199.46,405.10L196.66,408.30L193.86,405.10Z" fill="#20c888"/><path d="M204.49,414.14L207.29,417.34L204.49,420.54L201.69,417.34Z" fill="#20c888"/><path d="M212.31,399.09L215.11,402.29L212.31,405.49L209.51,402.29Z" fill="#20c888"/><path d="M220.14,386.25L222.94,389.45L220.14,392.65L217.34,389.45Z" fill="#20c888"/><path d="M227.96,392.87L230.76,396.07L227.96,399.27L225.16,396.07Z" fill="#20c888"/><path d="M235.79,400.02L238.59,403.22L235.79,406.42L232.99,403.22Z" fill="#20c888"/><path d="M243.61,403.83L246.41,407.03L243.61,410.23L240.81,407.03Z" fill="#20c888"/><path d="M251.44,414.14L254.24,417.34L251.44,420.54L248.64,417.34Z" fill="#20c888"/><path d="M259.26,422.16L262.06,425.36L259.26,428.56L256.46,425.36Z" fill="#20c888"/><path d="M267.09,409.87L269.89,413.07L267.09,416.27L264.29,413.07Z" fill="#20c888"/><path d="M274.91,407.81L277.71,411.01L274.91,414.21L272.11,411.01Z" fill="#20c888"/><path d="M282.74,407.81L285.54,411.01L282.74,414.21L279.94,411.01Z" fill="#20c888"/><path d="M290.56,417.49L293.36,420.69L290.56,423.89L287.76,420.69Z" fill="#20c888"/><path d="M298.39,403.83L301.19,407.03L298.39,410.23L295.59,407.03Z" fill="#20c888"/><path d="M306.21,410.39L309.01,413.59L306.21,416.79L303.41,413.59Z" fill="#20c888"/><path d="M314.03,403.83L316.83,407.03L314.03,410.23L311.23,407.03Z" fill="#20c888"/><path d="M321.86,405.79L324.66,408.99L321.86,412.19L319.06,408.99Z" fill="#20c888"/><path d="M329.68,403.83L332.48,407.03L329.68,410.23L326.88,407.03Z" fill="#20c888"/><path d="M337.51,404.81L340.31,408.01L337.51,411.21L334.71,408.01Z" fill="#20c888"/><path d="M345.33,400.96L348.13,404.16L345.33,407.36L342.53,404.16Z" fill="#20c888"/><path d="M353.16,394.60L355.96,397.80L353.16,401.00L350.36,397.80Z" fill="#20c888"/><path d="M360.98,381.98L363.78,385.18L360.98,388.38L358.18,385.18Z" fill="#20c888"/><line x1="55.81" y1="372.84" x2="55.81" y2="404.71" stroke="#ff7a30" stroke-width="0.9" stroke-dasharray="4,1.5,1,1.5"/><path d="M54.51,372.84H57.11M54.51,404.71H57.11" stroke="#ff7a30" stroke-width="0.9"/><line x1="63.64" y1="409.80" x2="63.64" y2="441.37" stroke="#ff7a30" stroke-width="0.9" stroke-dasharray="4,1.5,1,1.5"/><path d="M62.34,409.80H64.94M62.34,441.37H64.94" stroke="#ff7a30" stroke-width="0.9"/><line x1="71.46" y1="402.01" x2="71.46" y2="433.27" stroke="#ff7a30" stroke-width="0.9" stroke-dasharray="4,1.5,1,1.5"/><path d="M70.16,402.01H72.76M70.16,433.27H72.76" stroke="#ff7a30" stroke-width="0.9"/><line x1="79.29" y1="372.85" x2="79.29" y2="404.11" stroke="#ff7a30" stroke-width="0.9" stroke-dasharray="4,1.5,1,1.5"/><path d="M77.99,372.85H80.59M77.99,404.11H80.59" stroke="#ff7a30" stroke-width="0.9"/><line x1="87.11" y1="391.11" x2="87.11" y2="421.77" stroke="#ff7a30" stroke-width="0.9" stroke-dasharray="4,1.5,1,1.5"/><path d="M85.81,391.11H88.41M85.81,421.77H88.41" stroke="#ff7a30" stroke-width="0.9"/><line x1="94.94" y1="385.82" x2="94.94" y2="415.89" stroke="#ff7a30" stroke-width="0.9" stroke-dasharray="4,1.5,1,1.5"/><path d="M93.64,385.82H96.24M93.64,415.89H96.24" stroke="#ff7a30" stroke-width="0.9"/><line x1="102.76" y1="400.14" x2="102.76" y2="428.24" stroke="#ff7a30" stroke-width="0.9" stroke-dasharray="4,1.5,1,1.5"/><path d="M101.46,400.14H104.06M101.46,428.24H104.06" stroke="#ff7a30" stroke-width="0.9"/><line x1="110.59" y1="389.02" x2="110.59" y2="416.85" stroke="#ff7a30" stroke-width="0.9" stroke-dasharray="4,1.5,1,1.5"/><path d="M109.29,389.02H111.89M109.29,416.85H111.89" stroke="#ff7a30" stroke-width="0.9"/><line x1="118.41" y1="428.27" x2="118.41" y2="456.10" stroke="#ff7a30" stroke-width="0.9" stroke-dasharray="4,1.5,1,1.5"/><path d="M117.11,428.27H119.71M117.11,456.10H119.71" stroke="#ff7a30" stroke-width="0.9"/><line x1="126.24" y1="385.43" x2="126.24" y2="412.21" stroke="#ff7a30" stroke-width="0.9" stroke-dasharray="4,1.5,1,1.5"/><path d="M124.94,385.43H127.54M124.94,412.21H127.54" stroke="#ff7a30" stroke-width="0.9"/><line x1="134.06" y1="440.24" x2="134.06" y2="465.03" stroke="#ff7a30" stroke-width="0.9" stroke-dasharray="4,1.5,1,1.5"/><path d="M132.76,440.24H135.36M132.76,465.03H135.36" stroke="#ff7a30" stroke-width="0.9"/><line x1="141.89" y1="423.80" x2="141.89" y2="449.07" stroke="#ff7a30" stroke-width="0.9" stroke-dasharray="4,1.5,1,1.5"/><path d="M140.59,423.80H143.19M140.59,449.07H143.19" stroke="#ff7a30" stroke-width="0.9"/><line x1="149.71" y1="368.45" x2="149.71" y2="394.21" stroke="#ff7a30" stroke-width="0.9" stroke-dasharray="4,1.5,1,1.5"/><path d="M148.41,368.45H151.01M148.41,394.21H151.01" stroke="#ff7a30" stroke-width="0.9"/><line x1="157.54" y1="408.14" x2="157.54" y2="432.69" stroke="#ff7a30" stroke-width="0.9" stroke-dasharray="4,1.5,1,1.5"/><path d="M156.24,408.14H158.84M156.24,432.69H158.84" stroke="#ff7a30" stroke-width="0.9"/><line x1="165.36" y1="400.31" x2="165.36" y2="425.57" stroke="#ff7a30" stroke-width="0.9" stroke-dasharray="4,1.5,1,1.5"/><path d="M164.06,400.31H166.66M164.06,425.57H166.66" stroke="#ff7a30" stroke-width="0.9"/><line x1="173.19" y1="415.25" x2="173.19" y2="439.57" stroke="#ff7a30" stroke-width="0.9" stroke-dasharray="4,1.5,1,1.5"/><path d="M171.89,415.25H174.49M171.89,439.57H174.49" stroke="#ff7a30" stroke-width="0.9"/><line x1="181.01" y1="396.59" x2="181.01" y2="419.54" stroke="#ff7a30" stroke-width="0.9" stroke-dasharray="4,1.5,1,1.5"/><path d="M179.71,396.59H182.31M179.71,419.54H182.31" stroke="#ff7a30" stroke-width="0.9"/><line x1="188.84" y1="425.36" x2="188.84" y2="447.02" stroke="#ff7a30" stroke-width="0.9" stroke-dasharray="4,1.5,1,1.5"/><path d="M187.54,425.36H190.14M187.54,447.02H190.14" stroke="#ff7a30" stroke-width="0.9"/><line x1="196.66" y1="395.30" x2="196.66" y2="416.14" stroke="#ff7a30" stroke-width="0.9" stroke-dasharray="4,1.5,1,1.5"/><path d="M195.36,395.30H197.96M195.36,416.14H197.96" stroke="#ff7a30" stroke-width="0.9"/><line x1="204.49" y1="418.59" x2="204.49" y2="438.08" stroke="#ff7a30" stroke-width="0.9" stroke-dasharray="4,1.5,1,1.5"/><path d="M203.19,418.59H205.79M203.19,438.08H205.79" stroke="#ff7a30" stroke-width="0.9"/><line x1="212.31" y1="398.23" x2="212.31" y2="416.81" stroke="#ff7a30" stroke-width="0.9" stroke-dasharray="4,1.5,1,1.5"/><path d="M211.01,398.23H213.61M211.01,416.81H213.61" stroke="#ff7a30" stroke-width="0.9"/><line x1="220.14" y1="402.67" x2="220.14" y2="420.22" stroke="#ff7a30" stroke-width="0.9" stroke-dasharray="4,1.5,1,1.5"/><path d="M218.84,402.67H221.44M218.84,420.22H221.44" stroke="#ff7a30" stroke-width="0.9"/><line x1="227.96" y1="423.82" x2="227.96" y2="440.08" stroke="#ff7a30" stroke-width="0.9" stroke-dasharray="4,1.5,1,1.5"/><path d="M226.66,423.82H229.26M226.66,440.08H229.26" stroke="#ff7a30" stroke-width="0.9"/><line x1="235.79" y1="413.67" x2="235.79" y2="429.31" stroke="#ff7a30" stroke-width="0.9" stroke-dasharray="4,1.5,1,1.5"/><path d="M234.49,413.67H237.09M234.49,429.31H237.09" stroke="#ff7a30" stroke-width="0.9"/><line x1="243.61" y1="414.32" x2="243.61" y2="428.54" stroke="#ff7a30" stroke-width="0.9" stroke-dasharray="4,1.5,1,1.5"/><path d="M242.31,414.32H244.91M242.31,428.54H244.91" stroke="#ff7a30" stroke-width="0.9"/><line x1="251.44" y1="422.70" x2="251.44" y2="435.87" stroke="#ff7a30" stroke-width="0.9" stroke-dasharray="4,1.5,1,1.5"/><path d="M250.14,422.70H252.74M250.14,435.87H252.74" stroke="#ff7a30" stroke-width="0.9"/><line x1="259.26" y1="419.79" x2="259.26" y2="431.31" stroke="#ff7a30" stroke-width="0.9" stroke-dasharray="4,1.5,1,1.5"/><path d="M257.96,419.79H260.56M257.96,431.31H260.56" stroke="#ff7a30" stroke-width="0.9"/><line x1="267.09" y1="421.34" x2="267.09" y2="432.12" stroke="#ff7a30" stroke-width="0.9" stroke-dasharray="4,1.5,1,1.5"/><path d="M265.79,421.34H268.39M265.79,432.12H268.39" stroke="#ff7a30" stroke-width="0.9"/><line x1="274.91" y1="426.58" x2="274.91" y2="436.86" stroke="#ff7a30" stroke-width="0.9" stroke-dasharray="4,1.5,1,1.5"/><path d="M273.61,426.58H276.21M273.61,436.86H276.21" stroke="#ff7a30" stroke-width="0.9"/><line x1="282.74" y1="416.28" x2="282.74" y2="425.81" stroke="#ff7a30" stroke-width="0.9" stroke-dasharray="4,1.5,1,1.5"/><path d="M281.44,416.28H284.04M281.44,425.81H284.04" stroke="#ff7a30" stroke-width="0.9"/><line x1="290.56" y1="424.06" x2="290.56" y2="432.47" stroke="#ff7a30" stroke-width="0.9" stroke-dasharray="4,1.5,1,1.5"/><path d="M289.26,424.06H291.86M289.26,432.47H291.86" stroke="#ff7a30" stroke-width="0.9"/><line x1="298.39" y1="411.08" x2="298.39" y2="418.81" stroke="#ff7a30" stroke-width="0.9" stroke-dasharray="4,1.5,1,1.5"/><path d="M297.09,411.08H299.69M297.09,418.81H299.69" stroke="#ff7a30" stroke-width="0.9"/><line x1="306.21" y1="422.46" x2="306.21" y2="429.35" stroke="#ff7a30" stroke-width="0.9" stroke-dasharray="4,1.5,1,1.5"/><path d="M304.91,422.46H307.51M304.91,429.35H307.51" stroke="#ff7a30" stroke-width="0.9"/><line x1="314.03" y1="416.68" x2="314.03" y2="422.77" stroke="#ff7a30" stroke-width="0.9" stroke-dasharray="4,1.5,1,1.5"/><path d="M312.73,416.68H315.33M312.73,422.77H315.33" stroke="#ff7a30" stroke-width="0.9"/><line x1="321.86" y1="412.21" x2="321.86" y2="417.59" stroke="#ff7a30" stroke-width="0.9" stroke-dasharray="4,1.5,1,1.5"/><path d="M320.56,412.21H323.16M320.56,417.59H323.16" stroke="#ff7a30" stroke-width="0.9"/><line x1="329.68" y1="406.44" x2="329.68" y2="411.02" stroke="#ff7a30" stroke-width="0.9" stroke-dasharray="4,1.5,1,1.5"/><path d="M328.38,406.44H330.98M328.38,411.02H330.98" stroke="#ff7a30" stroke-width="0.9"/><line x1="337.51" y1="414.54" x2="337.51" y2="418.44" stroke="#ff7a30" stroke-width="0.9" stroke-dasharray="4,1.5,1,1.5"/><path d="M336.21,414.54H338.81M336.21,418.44H338.81" stroke="#ff7a30" stroke-width="0.9"/><line x1="345.33" y1="407.43" x2="345.33" y2="410.59" stroke="#ff7a30" stroke-width="0.9" stroke-dasharray="4,1.5,1,1.5"/><path d="M344.03,407.43H346.63M344.03,410.59H346.63" stroke="#ff7a30" stroke-width="0.9"/><line x1="353.16" y1="394.54" x2="353.16" y2="396.92" stroke="#ff7a30" stroke-width="0.9" stroke-dasharray="4,1.5,1,1.5"/><path d="M351.86,394.54H354.46M351.86,396.92H354.46" stroke="#ff7a30" stroke-width="0.9"/><line x1="360.98" y1="372.00" x2="360.98" y2="373.67" stroke="#ff7a30" stroke-width="0.9" stroke-dasharray="4,1.5,1,1.5"/><path d="M359.68,372.00H362.28M359.68,373.67H362.28" stroke="#ff7a30" stroke-width="0.9"/><polyline points="55.81,387.33 63.64,424.17 71.46,416.25 79.29,387.10 87.11,405.10 94.94,399.57 102.76,413.07 110.59,401.83 118.41,441.09 126.24,397.80 134.06,451.76 141.89,435.52 149.71,380.39 157.54,419.56 165.36,412.03 173.19,426.57 181.01,407.32 188.84,435.52 196.66,405.10 204.49,427.79 212.31,407.03 220.14,411.01 227.96,431.57 235.79,421.14 243.61,421.14 251.44,429.03 259.26,425.36 267.09,426.57 274.91,431.57 282.74,420.92 290.56,428.16 298.39,414.86 306.21,425.84 314.03,419.67 321.86,414.86 329.68,408.70 337.51,416.47 345.33,408.99 353.16,395.72 360.98,372.83" fill="none" stroke="#ff7a30" stroke-width="1.0" stroke-dasharray="4,1.5,1,1.5"/><rect x="53.41" y="384.93" width="4.8" height="4.8" fill="#ff7a30"/><rect x="61.24" y="421.77" width="4.8" height="4.8" fill="#ff7a30"/><rect x="69.06" y="413.85" width="4.8" height="4.8" fill="#ff7a30"/><rect x="76.89" y="384.70" width="4.8" height="4.8" fill="#ff7a30"/><rect x="84.71" y="402.70" width="4.8" height="4.8" fill="#ff7a30"/><rect x="92.54" y="397.17" width="4.8" height="4.8" fill="#ff7a30"/><rect x="100.36" y="410.67" width="4.8" height="4.8" fill="#ff7a30"/><rect x="108.19" y="399.43" width="4.8" height="4.8" fill="#ff7a30"/><rect x="116.01" y="438.69" width="4.8" height="4.8" fill="#ff7a30"/><rect x="123.84" y="395.40" width="4.8" height="4.8" fill="#ff7a30"/><rect x="131.66" y="449.36" width="4.8" height="4.8" fill="#ff7a30"/><rect x="139.49" y="433.12" width="4.8" height="4.8" fill="#ff7a30"/><rect x="147.31" y="377.99" width="4.8" height="4.8" fill="#ff7a30"/><rect x="155.14" y="417.16" width="4.8" height="4.8" fill="#ff7a30"/><rect x="162.96" y="409.63" width="4.8" height="4.8" fill="#ff7a30"/><rect x="170.79" y="424.17" width="4.8" height="4.8" fill="#ff7a30"/><rect x="178.61" y="404.92" width="4.8" height="4.8" fill="#ff7a30"/><rect x="186.44" y="433.12" width="4.8" height="4.8" fill="#ff7a30"/><rect x="194.26" y="402.70" width="4.8" height="4.8" fill="#ff7a30"/><rect x="202.09" y="425.39" width="4.8" height="4.8" fill="#ff7a30"/><rect x="209.91" y="404.63" width="4.8" height="4.8" fill="#ff7a30"/><rect x="217.74" y="408.61" width="4.8" height="4.8" fill="#ff7a30"/><rect x="225.56" y="429.17" width="4.8" height="4.8" fill="#ff7a30"/><rect x="233.39" y="418.74" width="4.8" height="4.8" fill="#ff7a30"/><rect x="241.21" y="418.74" width="4.8" height="4.8" fill="#ff7a30"/><rect x="249.04" y="426.63" width="4.8" height="4.8" fill="#ff7a30"/><rect x="256.86" y="422.96" width="4.8" height="4.8" fill="#ff7a30"/><rect x="264.69" y="424.17" width="4.8" height="4.8" fill="#ff7a30"/><rect x="272.51" y="429.17" width="4.8" height="4.8" fill="#ff7a30"/><rect x="280.34" y="418.52" width="4.8" height="4.8" fill="#ff7a30"/><rect x="288.16" y="425.76" width="4.8" height="4.8" fill="#ff7a30"/><rect x="295.99" y="412.46" width="4.8" height="4.8" fill="#ff7a30"/><rect x="303.81" y="423.44" width="4.8" height="4.8" fill="#ff7a30"/><rect x="311.63" y="417.27" width="4.8" height="4.8" fill="#ff7a30"/><rect x="319.46" y="412.46" width="4.8" height="4.8" fill="#ff7a30"/><rect x="327.28" y="406.30" width="4.8" height="4.8" fill="#ff7a30"/><rect x="335.11" y="414.07" width="4.8" height="4.8" fill="#ff7a30"/><rect x="342.93" y="406.59" width="4.8" height="4.8" fill="#ff7a30"/><rect x="350.76" y="393.32" width="4.8" height="4.8" fill="#ff7a30"/><rect x="358.58" y="370.43" width="4.8" height="4.8" fill="#ff7a30"/><line x1="55.81" y1="367.34" x2="55.81" y2="399.21" stroke="#18b818" stroke-width="0.9" stroke-dasharray="2.6,2"/><path d="M54.51,367.34H57.11M54.51,399.21H57.11" stroke="#18b818" stroke-width="0.9"/><line x1="63.64" y1="375.09" x2="63.64" y2="406.65" stroke="#18b818" stroke-width="0.9" stroke-dasharray="2.6,2"/><path d="M62.34,375.09H64.94M62.34,406.65H64.94" stroke="#18b818" stroke-width="0.9"/><line x1="71.46" y1="357.28" x2="71.46" y2="388.54" stroke="#18b818" stroke-width="0.9" stroke-dasharray="2.6,2"/><path d="M70.16,357.28H72.76M70.16,388.54H72.76" stroke="#18b818" stroke-width="0.9"/><line x1="79.29" y1="371.32" x2="79.29" y2="402.58" stroke="#18b818" stroke-width="0.9" stroke-dasharray="2.6,2"/><path d="M77.99,371.32H80.59M77.99,402.58H80.59" stroke="#18b818" stroke-width="0.9"/><line x1="87.11" y1="392.06" x2="87.11" y2="422.72" stroke="#18b818" stroke-width="0.9" stroke-dasharray="2.6,2"/><path d="M85.81,392.06H88.41M85.81,422.72H88.41" stroke="#18b818" stroke-width="0.9"/><line x1="94.94" y1="386.72" x2="94.94" y2="416.79" stroke="#18b818" stroke-width="0.9" stroke-dasharray="2.6,2"/><path d="M93.64,386.72H96.24M93.64,416.79H96.24" stroke="#18b818" stroke-width="0.9"/><line x1="102.76" y1="352.94" x2="102.76" y2="381.04" stroke="#18b818" stroke-width="0.9" stroke-dasharray="2.6,2"/><path d="M101.46,352.94H104.06M101.46,381.04H104.06" stroke="#18b818" stroke-width="0.9"/><line x1="110.59" y1="407.31" x2="110.59" y2="435.14" stroke="#18b818" stroke-width="0.9" stroke-dasharray="2.6,2"/><path d="M109.29,407.31H111.89M109.29,435.14H111.89" stroke="#18b818" stroke-width="0.9"/><line x1="118.41" y1="359.36" x2="118.41" y2="387.19" stroke="#18b818" stroke-width="0.9" stroke-dasharray="2.6,2"/><path d="M117.11,359.36H119.71M117.11,387.19H119.71" stroke="#18b818" stroke-width="0.9"/><line x1="126.24" y1="381.16" x2="126.24" y2="407.93" stroke="#18b818" stroke-width="0.9" stroke-dasharray="2.6,2"/><path d="M124.94,381.16H127.54M124.94,407.93H127.54" stroke="#18b818" stroke-width="0.9"/><line x1="134.06" y1="408.49" x2="134.06" y2="433.28" stroke="#18b818" stroke-width="0.9" stroke-dasharray="2.6,2"/><path d="M132.76,408.49H135.36M132.76,433.28H135.36" stroke="#18b818" stroke-width="0.9"/><line x1="141.89" y1="413.99" x2="141.89" y2="439.26" stroke="#18b818" stroke-width="0.9" stroke-dasharray="2.6,2"/><path d="M140.59,413.99H143.19M140.59,439.26H143.19" stroke="#18b818" stroke-width="0.9"/><line x1="149.71" y1="384.99" x2="149.71" y2="410.75" stroke="#18b818" stroke-width="0.9" stroke-dasharray="2.6,2"/><path d="M148.41,384.99H151.01M148.41,410.75H151.01" stroke="#18b818" stroke-width="0.9"/><line x1="157.54" y1="389.05" x2="157.54" y2="413.60" stroke="#18b818" stroke-width="0.9" stroke-dasharray="2.6,2"/><path d="M156.24,389.05H158.84M156.24,413.60H158.84" stroke="#18b818" stroke-width="0.9"/><line x1="165.36" y1="414.84" x2="165.36" y2="440.11" stroke="#18b818" stroke-width="0.9" stroke-dasharray="2.6,2"/><path d="M164.06,414.84H166.66M164.06,440.11H166.66" stroke="#18b818" stroke-width="0.9"/><line x1="173.19" y1="387.36" x2="173.19" y2="411.68" stroke="#18b818" stroke-width="0.9" stroke-dasharray="2.6,2"/><path d="M171.89,387.36H174.49M171.89,411.68H174.49" stroke="#18b818" stroke-width="0.9"/><line x1="181.01" y1="378.73" x2="181.01" y2="401.68" stroke="#18b818" stroke-width="0.9" stroke-dasharray="2.6,2"/><path d="M179.71,378.73H182.31M179.71,401.68H182.31" stroke="#18b818" stroke-width="0.9"/><line x1="188.84" y1="398.83" x2="188.84" y2="420.49" stroke="#18b818" stroke-width="0.9" stroke-dasharray="2.6,2"/><path d="M187.54,398.83H190.14M187.54,420.49H190.14" stroke="#18b818" stroke-width="0.9"/><line x1="196.66" y1="392.49" x2="196.66" y2="413.33" stroke="#18b818" stroke-width="0.9" stroke-dasharray="2.6,2"/><path d="M195.36,392.49H197.96M195.36,413.33H197.96" stroke="#18b818" stroke-width="0.9"/><line x1="204.49" y1="394.95" x2="204.49" y2="414.44" stroke="#18b818" stroke-width="0.9" stroke-dasharray="2.6,2"/><path d="M203.19,394.95H205.79M203.19,414.44H205.79" stroke="#18b818" stroke-width="0.9"/><line x1="212.31" y1="396.78" x2="212.31" y2="415.36" stroke="#18b818" stroke-width="0.9" stroke-dasharray="2.6,2"/><path d="M211.01,396.78H213.61M211.01,415.36H213.61" stroke="#18b818" stroke-width="0.9"/><line x1="220.14" y1="376.47" x2="220.14" y2="394.01" stroke="#18b818" stroke-width="0.9" stroke-dasharray="2.6,2"/><path d="M218.84,376.47H221.44M218.84,394.01H221.44" stroke="#18b818" stroke-width="0.9"/><line x1="227.96" y1="399.28" x2="227.96" y2="415.53" stroke="#18b818" stroke-width="0.9" stroke-dasharray="2.6,2"/><path d="M226.66,399.28H229.26M226.66,415.53H229.26" stroke="#18b818" stroke-width="0.9"/><line x1="235.79" y1="389.46" x2="235.79" y2="405.10" stroke="#18b818" stroke-width="0.9" stroke-dasharray="2.6,2"/><path d="M234.49,389.46H237.09M234.49,405.10H237.09" stroke="#18b818" stroke-width="0.9"/><line x1="243.61" y1="404.19" x2="243.61" y2="418.40" stroke="#18b818" stroke-width="0.9" stroke-dasharray="2.6,2"/><path d="M242.31,404.19H244.91M242.31,418.40H244.91" stroke="#18b818" stroke-width="0.9"/><line x1="251.44" y1="413.78" x2="251.44" y2="426.95" stroke="#18b818" stroke-width="0.9" stroke-dasharray="2.6,2"/><path d="M250.14,413.78H252.74M250.14,426.95H252.74" stroke="#18b818" stroke-width="0.9"/><line x1="259.26" y1="427.30" x2="259.26" y2="438.82" stroke="#18b818" stroke-width="0.9" stroke-dasharray="2.6,2"/><path d="M257.96,427.30H260.56M257.96,438.82H260.56" stroke="#18b818" stroke-width="0.9"/><line x1="267.09" y1="407.84" x2="267.09" y2="418.62" stroke="#18b818" stroke-width="0.9" stroke-dasharray="2.6,2"/><path d="M265.79,407.84H268.39M265.79,418.62H268.39" stroke="#18b818" stroke-width="0.9"/><line x1="274.91" y1="402.04" x2="274.91" y2="412.32" stroke="#18b818" stroke-width="0.9" stroke-dasharray="2.6,2"/><path d="M273.61,402.04H276.21M273.61,412.32H276.21" stroke="#18b818" stroke-width="0.9"/><line x1="282.74" y1="406.37" x2="282.74" y2="415.90" stroke="#18b818" stroke-width="0.9" stroke-dasharray="2.6,2"/><path d="M281.44,406.37H284.04M281.44,415.90H284.04" stroke="#18b818" stroke-width="0.9"/><line x1="290.56" y1="411.07" x2="290.56" y2="419.49" stroke="#18b818" stroke-width="0.9" stroke-dasharray="2.6,2"/><path d="M289.26,411.07H291.86M289.26,419.49H291.86" stroke="#18b818" stroke-width="0.9"/><line x1="298.39" y1="400.00" x2="298.39" y2="407.73" stroke="#18b818" stroke-width="0.9" stroke-dasharray="2.6,2"/><path d="M297.09,400.00H299.69M297.09,407.73H299.69" stroke="#18b818" stroke-width="0.9"/><line x1="306.21" y1="407.63" x2="306.21" y2="414.52" stroke="#18b818" stroke-width="0.9" stroke-dasharray="2.6,2"/><path d="M304.91,407.63H307.51M304.91,414.52H307.51" stroke="#18b818" stroke-width="0.9"/><line x1="314.03" y1="402.11" x2="314.03" y2="408.20" stroke="#18b818" stroke-width="0.9" stroke-dasharray="2.6,2"/><path d="M312.73,402.11H315.33M312.73,408.20H315.33" stroke="#18b818" stroke-width="0.9"/><line x1="321.86" y1="404.38" x2="321.86" y2="409.76" stroke="#18b818" stroke-width="0.9" stroke-dasharray="2.6,2"/><path d="M320.56,404.38H323.16M320.56,409.76H323.16" stroke="#18b818" stroke-width="0.9"/><line x1="329.68" y1="404.77" x2="329.68" y2="409.35" stroke="#18b818" stroke-width="0.9" stroke-dasharray="2.6,2"/><path d="M328.38,404.77H330.98M328.38,409.35H330.98" stroke="#18b818" stroke-width="0.9"/><line x1="337.51" y1="404.13" x2="337.51" y2="408.03" stroke="#18b818" stroke-width="0.9" stroke-dasharray="2.6,2"/><path d="M336.21,404.13H338.81M336.21,408.03H338.81" stroke="#18b818" stroke-width="0.9"/><line x1="345.33" y1="400.73" x2="345.33" y2="403.89" stroke="#18b818" stroke-width="0.9" stroke-dasharray="2.6,2"/><path d="M344.03,400.73H346.63M344.03,403.89H346.63" stroke="#18b818" stroke-width="0.9"/><line x1="353.16" y1="390.45" x2="353.16" y2="392.83" stroke="#18b818" stroke-width="0.9" stroke-dasharray="2.6,2"/><path d="M351.86,390.45H354.46M351.86,392.83H354.46" stroke="#18b818" stroke-width="0.9"/><line x1="360.98" y1="380.28" x2="360.98" y2="381.95" stroke="#18b818" stroke-width="0.9" stroke-dasharray="2.6,2"/><path d="M359.68,380.28H362.28M359.68,381.95H362.28" stroke="#18b818" stroke-width="0.9"/><polyline points="55.81,381.83 63.64,389.45 71.46,371.52 79.29,385.56 87.11,406.06 94.94,400.47 102.76,365.87 110.59,420.12 118.41,372.17 126.24,393.53 134.06,420.01 141.89,425.72 149.71,396.93 157.54,400.47 165.36,426.57 173.19,398.68 181.01,389.45 188.84,408.99 196.66,402.29 204.49,404.16 212.31,405.58 220.14,384.80 227.96,407.03 235.79,396.93 243.61,411.01 251.44,420.12 259.26,432.87 267.09,413.07 274.91,407.03 282.74,411.01 290.56,415.18 298.39,403.78 306.21,411.01 314.03,405.10 321.86,407.03 329.68,407.03 337.51,406.06 345.33,402.29 353.16,391.63 360.98,381.11" fill="none" stroke="#18b818" stroke-width="1.0" stroke-dasharray="2.6,2"/><path d="M52.81,379.43L58.81,379.43L55.81,384.83Z" fill="#18b818"/><path d="M60.64,387.05L66.64,387.05L63.64,392.45Z" fill="#18b818"/><path d="M68.46,369.12L74.46,369.12L71.46,374.52Z" fill="#18b818"/><path d="M76.29,383.16L82.29,383.16L79.29,388.56Z" fill="#18b818"/><path d="M84.11,403.66L90.11,403.66L87.11,409.06Z" fill="#18b818"/><path d="M91.94,398.07L97.94,398.07L94.94,403.47Z" fill="#18b818"/><path d="M99.76,363.47L105.76,363.47L102.76,368.87Z" fill="#18b818"/><path d="M107.59,417.72L113.59,417.72L110.59,423.12Z" fill="#18b818"/><path d="M115.41,369.77L121.41,369.77L118.41,375.17Z" fill="#18b818"/><path d="M123.24,391.13L129.24,391.13L126.24,396.53Z" fill="#18b818"/><path d="M131.06,417.61L137.06,417.61L134.06,423.01Z" fill="#18b818"/><path d="M138.89,423.32L144.89,423.32L141.89,428.72Z" fill="#18b818"/><path d="M146.71,394.53L152.71,394.53L149.71,399.93Z" fill="#18b818"/><path d="M154.54,398.07L160.54,398.07L157.54,403.47Z" fill="#18b818"/><path d="M162.36,424.17L168.36,424.17L165.36,429.57Z" fill="#18b818"/><path d="M170.19,396.28L176.19,396.28L173.19,401.68Z" fill="#18b818"/><path d="M178.01,387.05L184.01,387.05L181.01,392.45Z" fill="#18b818"/><path d="M185.84,406.59L191.84,406.59L188.84,411.99Z" fill="#18b818"/><path d="M193.66,399.89L199.66,399.89L196.66,405.29Z" fill="#18b818"/><path d="M201.49,401.76L207.49,401.76L204.49,407.16Z" fill="#18b818"/><path d="M209.31,403.18L215.31,403.18L212.31,408.58Z" fill="#18b818"/><path d="M217.14,382.40L223.14,382.40L220.14,387.80Z" fill="#18b818"/><path d="M224.96,404.63L230.96,404.63L227.96,410.03Z" fill="#18b818"/><path d="M232.79,394.53L238.79,394.53L235.79,399.93Z" fill="#18b818"/><path d="M240.61,408.61L246.61,408.61L243.61,414.01Z" fill="#18b818"/><path d="M248.44,417.72L254.44,417.72L251.44,423.12Z" fill="#18b818"/><path d="M256.26,430.47L262.26,430.47L259.26,435.87Z" fill="#18b818"/><path d="M264.09,410.67L270.09,410.67L267.09,416.07Z" fill="#18b818"/><path d="M271.91,404.63L277.91,404.63L274.91,410.03Z" fill="#18b818"/><path d="M279.74,408.61L285.74,408.61L282.74,414.01Z" fill="#18b818"/><path d="M287.56,412.78L293.56,412.78L290.56,418.18Z" fill="#18b818"/><path d="M295.39,401.38L301.39,401.38L298.39,406.78Z" fill="#18b818"/><path d="M303.21,408.61L309.21,408.61L306.21,414.01Z" fill="#18b818"/><path d="M311.03,402.70L317.03,402.70L314.03,408.10Z" fill="#18b818"/><path d="M318.86,404.63L324.86,404.63L321.86,410.03Z" fill="#18b818"/><path d="M326.68,404.63L332.68,404.63L329.68,410.03Z" fill="#18b818"/><path d="M334.51,403.66L340.51,403.66L337.51,409.06Z" fill="#18b818"/><path d="M342.33,399.89L348.33,399.89L345.33,405.29Z" fill="#18b818"/><path d="M350.16,389.23L356.16,389.23L353.16,394.63Z" fill="#18b818"/><path d="M357.98,378.71L363.98,378.71L360.98,384.11Z" fill="#18b818"/><line x1="55.81" y1="372.84" x2="55.81" y2="404.71" stroke="#484848" stroke-width="0.9"/><path d="M54.51,372.84H57.11M54.51,404.71H57.11" stroke="#484848" stroke-width="0.9"/><line x1="63.64" y1="376.37" x2="63.64" y2="407.93" stroke="#484848" stroke-width="0.9"/><path d="M62.34,376.37H64.94M62.34,407.93H64.94" stroke="#484848" stroke-width="0.9"/><line x1="71.46" y1="366.29" x2="71.46" y2="397.55" stroke="#484848" stroke-width="0.9"/><path d="M70.16,366.29H72.76M70.16,397.55H72.76" stroke="#484848" stroke-width="0.9"/><line x1="79.29" y1="373.63" x2="79.29" y2="404.89" stroke="#484848" stroke-width="0.9"/><path d="M77.99,373.63H80.59M77.99,404.89H80.59" stroke="#484848" stroke-width="0.9"/><line x1="87.11" y1="389.88" x2="87.11" y2="420.54" stroke="#484848" stroke-width="0.9"/><path d="M85.81,389.88H88.41M85.81,420.54H88.41" stroke="#484848" stroke-width="0.9"/><line x1="94.94" y1="387.17" x2="94.94" y2="417.24" stroke="#484848" stroke-width="0.9"/><path d="M93.64,387.17H96.24M93.64,417.24H96.24" stroke="#484848" stroke-width="0.9"/><line x1="102.76" y1="365.61" x2="102.76" y2="393.71" stroke="#484848" stroke-width="0.9"/><path d="M101.46,365.61H104.06M101.46,393.71H104.06" stroke="#484848" stroke-width="0.9"/><line x1="110.59" y1="401.30" x2="110.59" y2="429.13" stroke="#484848" stroke-width="0.9"/><path d="M109.29,401.30H111.89M109.29,429.13H111.89" stroke="#484848" stroke-width="0.9"/><line x1="118.41" y1="371.39" x2="118.41" y2="399.22" stroke="#484848" stroke-width="0.9"/><path d="M117.11,371.39H119.71M117.11,399.22H119.71" stroke="#484848" stroke-width="0.9"/><line x1="126.24" y1="363.13" x2="126.24" y2="389.91" stroke="#484848" stroke-width="0.9"/><path d="M124.94,363.13H127.54M124.94,389.91H127.54" stroke="#484848" stroke-width="0.9"/><line x1="134.06" y1="402.07" x2="134.06" y2="426.86" stroke="#484848" stroke-width="0.9"/><path d="M132.76,402.07H135.36M132.76,426.86H135.36" stroke="#484848" stroke-width="0.9"/><line x1="141.89" y1="396.77" x2="141.89" y2="422.04" stroke="#484848" stroke-width="0.9"/><path d="M140.59,396.77H143.19M140.59,422.04H143.19" stroke="#484848" stroke-width="0.9"/><line x1="149.71" y1="373.78" x2="149.71" y2="399.54" stroke="#484848" stroke-width="0.9"/><path d="M148.41,373.78H151.01M148.41,399.54H151.01" stroke="#484848" stroke-width="0.9"/><line x1="157.54" y1="407.25" x2="157.54" y2="431.80" stroke="#484848" stroke-width="0.9"/><path d="M156.24,407.25H158.84M156.24,431.80H158.84" stroke="#484848" stroke-width="0.9"/><line x1="165.36" y1="412.09" x2="165.36" y2="437.36" stroke="#484848" stroke-width="0.9"/><path d="M164.06,412.09H166.66M164.06,437.36H166.66" stroke="#484848" stroke-width="0.9"/><line x1="173.19" y1="389.60" x2="173.19" y2="413.92" stroke="#484848" stroke-width="0.9"/><path d="M171.89,389.60H174.49M171.89,413.92H174.49" stroke="#484848" stroke-width="0.9"/><line x1="181.01" y1="391.38" x2="181.01" y2="414.33" stroke="#484848" stroke-width="0.9"/><path d="M179.71,391.38H182.31M179.71,414.33H182.31" stroke="#484848" stroke-width="0.9"/><line x1="188.84" y1="412.25" x2="188.84" y2="433.91" stroke="#484848" stroke-width="0.9"/><path d="M187.54,412.25H190.14M187.54,433.91H190.14" stroke="#484848" stroke-width="0.9"/><line x1="196.66" y1="393.69" x2="196.66" y2="414.54" stroke="#484848" stroke-width="0.9"/><path d="M195.36,393.69H197.96M195.36,414.54H197.96" stroke="#484848" stroke-width="0.9"/><line x1="204.49" y1="396.85" x2="204.49" y2="416.35" stroke="#484848" stroke-width="0.9"/><path d="M203.19,396.85H205.79M203.19,416.35H205.79" stroke="#484848" stroke-width="0.9"/><line x1="212.31" y1="373.40" x2="212.31" y2="391.98" stroke="#484848" stroke-width="0.9"/><path d="M211.01,373.40H213.61M211.01,391.98H213.61" stroke="#484848" stroke-width="0.9"/><line x1="220.14" y1="371.34" x2="220.14" y2="388.88" stroke="#484848" stroke-width="0.9"/><path d="M218.84,371.34H221.44M218.84,388.88H221.44" stroke="#484848" stroke-width="0.9"/><line x1="227.96" y1="384.13" x2="227.96" y2="400.38" stroke="#484848" stroke-width="0.9"/><path d="M226.66,384.13H229.26M226.66,400.38H229.26" stroke="#484848" stroke-width="0.9"/><line x1="235.79" y1="384.24" x2="235.79" y2="399.88" stroke="#484848" stroke-width="0.9"/><path d="M234.49,384.24H237.09M234.49,399.88H237.09" stroke="#484848" stroke-width="0.9"/><line x1="243.61" y1="392.04" x2="243.61" y2="406.25" stroke="#484848" stroke-width="0.9"/><path d="M242.31,392.04H244.91M242.31,406.25H244.91" stroke="#484848" stroke-width="0.9"/><line x1="251.44" y1="401.67" x2="251.44" y2="414.84" stroke="#484848" stroke-width="0.9"/><path d="M250.14,401.67H252.74M250.14,414.84H252.74" stroke="#484848" stroke-width="0.9"/><line x1="259.26" y1="397.74" x2="259.26" y2="409.26" stroke="#484848" stroke-width="0.9"/><path d="M257.96,397.74H260.56M257.96,409.26H260.56" stroke="#484848" stroke-width="0.9"/><line x1="267.09" y1="387.97" x2="267.09" y2="398.75" stroke="#484848" stroke-width="0.9"/><path d="M265.79,387.97H268.39M265.79,398.75H268.39" stroke="#484848" stroke-width="0.9"/><line x1="274.91" y1="391.42" x2="274.91" y2="401.70" stroke="#484848" stroke-width="0.9"/><path d="M273.61,391.42H276.21M273.61,401.70H276.21" stroke="#484848" stroke-width="0.9"/><line x1="282.74" y1="393.17" x2="282.74" y2="402.69" stroke="#484848" stroke-width="0.9"/><path d="M281.44,393.17H284.04M281.44,402.69H284.04" stroke="#484848" stroke-width="0.9"/><line x1="290.56" y1="401.00" x2="290.56" y2="409.41" stroke="#484848" stroke-width="0.9"/><path d="M289.26,401.00H291.86M289.26,409.41H291.86" stroke="#484848" stroke-width="0.9"/><line x1="298.39" y1="389.75" x2="298.39" y2="397.47" stroke="#484848" stroke-width="0.9"/><path d="M297.09,389.75H299.69M297.09,397.47H299.69" stroke="#484848" stroke-width="0.9"/><line x1="306.21" y1="391.83" x2="306.21" y2="398.72" stroke="#484848" stroke-width="0.9"/><path d="M304.91,391.83H307.51M304.91,398.72H307.51" stroke="#484848" stroke-width="0.9"/><line x1="314.03" y1="391.04" x2="314.03" y2="397.13" stroke="#484848" stroke-width="0.9"/><path d="M312.73,391.04H315.33M312.73,397.13H315.33" stroke="#484848" stroke-width="0.9"/><line x1="321.86" y1="392.05" x2="321.86" y2="397.43" stroke="#484848" stroke-width="0.9"/><path d="M320.56,392.05H323.16M320.56,397.43H323.16" stroke="#484848" stroke-width="0.9"/><line x1="329.68" y1="393.81" x2="329.68" y2="398.38" stroke="#484848" stroke-width="0.9"/><path d="M328.38,393.81H330.98M328.38,398.38H330.98" stroke="#484848" stroke-width="0.9"/><line x1="337.51" y1="401.39" x2="337.51" y2="405.28" stroke="#484848" stroke-width="0.9"/><path d="M336.21,401.39H338.81M336.21,405.28H338.81" stroke="#484848" stroke-width="0.9"/><line x1="345.33" y1="393.65" x2="345.33" y2="396.81" stroke="#484848" stroke-width="0.9"/><path d="M344.03,393.65H346.63M344.03,396.81H346.63" stroke="#484848" stroke-width="0.9"/><line x1="353.16" y1="394.89" x2="353.16" y2="397.26" stroke="#484848" stroke-width="0.9"/><path d="M351.86,394.89H354.46M351.86,397.26H354.46" stroke="#484848" stroke-width="0.9"/><line x1="360.98" y1="391.21" x2="360.98" y2="392.88" stroke="#484848" stroke-width="0.9"/><path d="M359.68,391.21H362.28M359.68,392.88H362.28" stroke="#484848" stroke-width="0.9"/><polyline points="55.81,387.33 63.64,390.74 71.46,380.53 79.29,387.88 87.11,403.87 94.94,400.92 102.76,378.54 110.59,414.12 118.41,384.20 126.24,375.50 134.06,413.59 141.89,408.50 149.71,385.71 157.54,418.66 165.36,423.81 173.19,400.92 181.01,402.11 188.84,422.41 196.66,403.50 204.49,406.06 212.31,382.20 220.14,379.67 227.96,391.88 235.79,391.71 243.61,398.86 251.44,408.01 259.26,403.31 267.09,393.19 274.91,396.41 282.74,397.80 290.56,405.10 298.39,393.53 306.21,395.21 314.03,394.03 321.86,394.70 329.68,396.07 337.51,403.31 345.33,395.21 353.16,396.07 360.98,392.04" fill="none" stroke="#484848" stroke-width="0.9"/><circle cx="55.81" cy="387.33" r="2.3" fill="none" stroke="#484848" stroke-width="1.05"/><circle cx="63.64" cy="390.74" r="2.3" fill="none" stroke="#484848" stroke-width="1.05"/><circle cx="71.46" cy="380.53" r="2.3" fill="none" stroke="#484848" stroke-width="1.05"/><circle cx="79.29" cy="387.88" r="2.3" fill="none" stroke="#484848" stroke-width="1.05"/><circle cx="87.11" cy="403.87" r="2.3" fill="none" stroke="#484848" stroke-width="1.05"/><circle cx="94.94" cy="400.92" r="2.3" fill="none" stroke="#484848" stroke-width="1.05"/><circle cx="102.76" cy="378.54" r="2.3" fill="none" stroke="#484848" stroke-width="1.05"/><circle cx="110.59" cy="414.12" r="2.3" fill="none" stroke="#484848" stroke-width="1.05"/><circle cx="118.41" cy="384.20" r="2.3" fill="none" stroke="#484848" stroke-width="1.05"/><circle cx="126.24" cy="375.50" r="2.3" fill="none" stroke="#484848" stroke-width="1.05"/><circle cx="134.06" cy="413.59" r="2.3" fill="none" stroke="#484848" stroke-width="1.05"/><circle cx="141.89" cy="408.50" r="2.3" fill="none" stroke="#484848" stroke-width="1.05"/><circle cx="149.71" cy="385.71" r="2.3" fill="none" stroke="#484848" stroke-width="1.05"/><circle cx="157.54" cy="418.66" r="2.3" fill="none" stroke="#484848" stroke-width="1.05"/><circle cx="165.36" cy="423.81" r="2.3" fill="none" stroke="#484848" stroke-width="1.05"/><circle cx="173.19" cy="400.92" r="2.3" fill="none" stroke="#484848" stroke-width="1.05"/><circle cx="181.01" cy="402.11" r="2.3" fill="none" stroke="#484848" stroke-width="1.05"/><circle cx="188.84" cy="422.41" r="2.3" fill="none" stroke="#484848" stroke-width="1.05"/><circle cx="196.66" cy="403.50" r="2.3" fill="none" stroke="#484848" stroke-width="1.05"/><circle cx="204.49" cy="406.06" r="2.3" fill="none" stroke="#484848" stroke-width="1.05"/><circle cx="212.31" cy="382.20" r="2.3" fill="none" stroke="#484848" stroke-width="1.05"/><circle cx="220.14" cy="379.67" r="2.3" fill="none" stroke="#484848" stroke-width="1.05"/><circle cx="227.96" cy="391.88" r="2.3" fill="none" stroke="#484848" stroke-width="1.05"/><circle cx="235.79" cy="391.71" r="2.3" fill="none" stroke="#484848" stroke-width="1.05"/><circle cx="243.61" cy="398.86" r="2.3" fill="none" stroke="#484848" stroke-width="1.05"/><circle cx="251.44" cy="408.01" r="2.3" fill="none" stroke="#484848" stroke-width="1.05"/><circle cx="259.26" cy="403.31" r="2.3" fill="none" stroke="#484848" stroke-width="1.05"/><circle cx="267.09" cy="393.19" r="2.3" fill="none" stroke="#484848" stroke-width="1.05"/><circle cx="274.91" cy="396.41" r="2.3" fill="none" stroke="#484848" stroke-width="1.05"/><circle cx="282.74" cy="397.80" r="2.3" fill="none" stroke="#484848" stroke-width="1.05"/><circle cx="290.56" cy="405.10" r="2.3" fill="none" stroke="#484848" stroke-width="1.05"/><circle cx="298.39" cy="393.53" r="2.3" fill="none" stroke="#484848" stroke-width="1.05"/><circle cx="306.21" cy="395.21" r="2.3" fill="none" stroke="#484848" stroke-width="1.05"/><circle cx="314.03" cy="394.03" r="2.3" fill="none" stroke="#484848" stroke-width="1.05"/><circle cx="321.86" cy="394.70" r="2.3" fill="none" stroke="#484848" stroke-width="1.05"/><circle cx="329.68" cy="396.07" r="2.3" fill="none" stroke="#484848" stroke-width="1.05"/><circle cx="337.51" cy="403.31" r="2.3" fill="none" stroke="#484848" stroke-width="1.05"/><circle cx="345.33" cy="395.21" r="2.3" fill="none" stroke="#484848" stroke-width="1.05"/><circle cx="353.16" cy="396.07" r="2.3" fill="none" stroke="#484848" stroke-width="1.05"/><circle cx="360.98" cy="392.04" r="2.3" fill="none" stroke="#484848" stroke-width="1.05"/></g><line x1="64" y1="62.2" x2="89" y2="62.2" stroke="#a82040" stroke-width="1.1"/><path d="M76.50,58.90L79.70,64.90L73.30,64.90Z" fill="#fff"  stroke="#a82040" stroke-width="1.15"/><text x="94.6" y="65.5" font-size="9.5">Pythia 6.427 370</text><line x1="64" y1="75.2" x2="89" y2="75.2" stroke="#ff4078" stroke-width="1.1" stroke-dasharray="2.4,1.8"/><circle cx="76.50" cy="75.20" r="2.3" fill="#fff" stroke="#ff4078" stroke-width="1.05"/><text x="94.6" y="78.5" font-size="9.5">Pythia 6.427 atlas-csc</text><line x1="64" y1="88.0" x2="89" y2="88.0" stroke="#20c888" stroke-width="1.1" stroke-dasharray="2.4,2"/><path d="M76.50,84.80L79.30,88.00L76.50,91.20L73.70,88.00Z" fill="#20c888"/><text x="94.6" y="91.3" font-size="9.5">Pythia 6.427 d6t</text><line x1="64" y1="101.0" x2="89" y2="101.0" stroke="#ff7a30" stroke-width="1.1" stroke-dasharray="4,1.5,1,1.5"/><rect x="74.10" y="98.60" width="4.8" height="4.8" fill="#ff7a30"/><text x="94.6" y="104.3" font-size="9.5">Pythia 6.427 default</text><line x1="64" y1="114.0" x2="89" y2="114.0" stroke="#18b818" stroke-width="1.1" stroke-dasharray="2.6,2"/><path d="M73.50,111.60L79.50,111.60L76.50,117.00Z" fill="#18b818"/><text x="94.6" y="117.3" font-size="9.5">Pythia 6.427 dw</text><line x1="64" y1="127.0" x2="89" y2="127.0" stroke="#484848" stroke-width="1.1"/><circle cx="76.50" cy="127.00" r="2.3" fill="#fff" stroke="#484848" stroke-width="1.05"/><text x="94.6" y="130.3" font-size="9.5">Pythia 6.427 p0</text>
<line x1="51.90" y1="317.30" x2="51.90" y2="309.70" stroke="#000" stroke-width="1.0"/><line x1="51.90" y1="17.30" x2="51.90" y2="24.90" stroke="#000" stroke-width="1.0"/><line x1="51.90" y1="317.30" x2="51.90" y2="322.00" stroke="#000" stroke-width="1.0"/><line x1="51.90" y1="477.70" x2="51.90" y2="473.00" stroke="#000" stroke-width="1.0"/><line x1="61.86" y1="317.30" x2="61.86" y2="315.30" stroke="#000" stroke-width="1.0"/><line x1="61.86" y1="17.30" x2="61.86" y2="19.30" stroke="#000" stroke-width="1.0"/><line x1="61.86" y1="317.30" x2="61.86" y2="318.90" stroke="#000" stroke-width="1.0"/><line x1="61.86" y1="477.70" x2="61.86" y2="476.10" stroke="#000" stroke-width="1.0"/><line x1="71.83" y1="317.30" x2="71.83" y2="313.30" stroke="#000" stroke-width="1.0"/><line x1="71.83" y1="17.30" x2="71.83" y2="21.30" stroke="#000" stroke-width="1.0"/><line x1="71.83" y1="317.30" x2="71.83" y2="320.30" stroke="#000" stroke-width="1.0"/><line x1="71.83" y1="477.70" x2="71.83" y2="474.70" stroke="#000" stroke-width="1.0"/><line x1="81.79" y1="317.30" x2="81.79" y2="315.30" stroke="#000" stroke-width="1.0"/><line x1="81.79" y1="17.30" x2="81.79" y2="19.30" stroke="#000" stroke-width="1.0"/><line x1="81.79" y1="317.30" x2="81.79" y2="318.90" stroke="#000" stroke-width="1.0"/><line x1="81.79" y1="477.70" x2="81.79" y2="476.10" stroke="#000" stroke-width="1.0"/><line x1="91.75" y1="317.30" x2="91.75" y2="313.30" stroke="#000" stroke-width="1.0"/><line x1="91.75" y1="17.30" x2="91.75" y2="21.30" stroke="#000" stroke-width="1.0"/><line x1="91.75" y1="317.30" x2="91.75" y2="320.30" stroke="#000" stroke-width="1.0"/><line x1="91.75" y1="477.70" x2="91.75" y2="474.70" stroke="#000" stroke-width="1.0"/><line x1="101.72" y1="317.30" x2="101.72" y2="315.30" stroke="#000" stroke-width="1.0"/><line x1="101.72" y1="17.30" x2="101.72" y2="19.30" stroke="#000" stroke-width="1.0"/><line x1="101.72" y1="317.30" x2="101.72" y2="318.90" stroke="#000" stroke-width="1.0"/><line x1="101.72" y1="477.70" x2="101.72" y2="476.10" stroke="#000" stroke-width="1.0"/><line x1="111.68" y1="317.30" x2="111.68" y2="313.30" stroke="#000" stroke-width="1.0"/><line x1="111.68" y1="17.30" x2="111.68" y2="21.30" stroke="#000" stroke-width="1.0"/><line x1="111.68" y1="317.30" x2="111.68" y2="320.30" stroke="#000" stroke-width="1.0"/><line x1="111.68" y1="477.70" x2="111.68" y2="474.70" stroke="#000" stroke-width="1.0"/><line x1="121.64" y1="317.30" x2="121.64" y2="315.30" stroke="#000" stroke-width="1.0"/><line x1="121.64" y1="17.30" x2="121.64" y2="19.30" stroke="#000" stroke-width="1.0"/><line x1="121.64" y1="317.30" x2="121.64" y2="318.90" stroke="#000" stroke-width="1.0"/><line x1="121.64" y1="477.70" x2="121.64" y2="476.10" stroke="#000" stroke-width="1.0"/><line x1="131.60" y1="317.30" x2="131.60" y2="313.30" stroke="#000" stroke-width="1.0"/><line x1="131.60" y1="17.30" x2="131.60" y2="21.30" stroke="#000" stroke-width="1.0"/><line x1="131.60" y1="317.30" x2="131.60" y2="320.30" stroke="#000" stroke-width="1.0"/><line x1="131.60" y1="477.70" x2="131.60" y2="474.70" stroke="#000" stroke-width="1.0"/><line x1="141.57" y1="317.30" x2="141.57" y2="315.30" stroke="#000" stroke-width="1.0"/><line x1="141.57" y1="17.30" x2="141.57" y2="19.30" stroke="#000" stroke-width="1.0"/><line x1="141.57" y1="317.30" x2="141.57" y2="318.90" stroke="#000" stroke-width="1.0"/><line x1="141.57" y1="477.70" x2="141.57" y2="476.10" stroke="#000" stroke-width="1.0"/><line x1="151.53" y1="317.30" x2="151.53" y2="309.70" stroke="#000" stroke-width="1.0"/><line x1="151.53" y1="17.30" x2="151.53" y2="24.90" stroke="#000" stroke-width="1.0"/><line x1="151.53" y1="317.30" x2="151.53" y2="322.00" stroke="#000" stroke-width="1.0"/><line x1="151.53" y1="477.70" x2="151.53" y2="473.00" stroke="#000" stroke-width="1.0"/><line x1="161.49" y1="317.30" x2="161.49" y2="315.30" stroke="#000" stroke-width="1.0"/><line x1="161.49" y1="17.30" x2="161.49" y2="19.30" stroke="#000" stroke-width="1.0"/><line x1="161.49" y1="317.30" x2="161.49" y2="318.90" stroke="#000" stroke-width="1.0"/><line x1="161.49" y1="477.70" x2="161.49" y2="476.10" stroke="#000" stroke-width="1.0"/><line x1="171.46" y1="317.30" x2="171.46" y2="313.30" stroke="#000" stroke-width="1.0"/><line x1="171.46" y1="17.30" x2="171.46" y2="21.30" stroke="#000" stroke-width="1.0"/><line x1="171.46" y1="317.30" x2="171.46" y2="320.30" stroke="#000" stroke-width="1.0"/><line x1="171.46" y1="477.70" x2="171.46" y2="474.70" stroke="#000" stroke-width="1.0"/><line x1="181.42" y1="317.30" x2="181.42" y2="315.30" stroke="#000" stroke-width="1.0"/><line x1="181.42" y1="17.30" x2="181.42" y2="19.30" stroke="#000" stroke-width="1.0"/><line x1="181.42" y1="317.30" x2="181.42" y2="318.90" stroke="#000" stroke-width="1.0"/><line x1="181.42" y1="477.70" x2="181.42" y2="476.10" stroke="#000" stroke-width="1.0"/><line x1="191.38" y1="317.30" x2="191.38" y2="313.30" stroke="#000" stroke-width="1.0"/><line x1="191.38" y1="17.30" x2="191.38" y2="21.30" stroke="#000" stroke-width="1.0"/><line x1="191.38" y1="317.30" x2="191.38" y2="320.30" stroke="#000" stroke-width="1.0"/><line x1="191.38" y1="477.70" x2="191.38" y2="474.70" stroke="#000" stroke-width="1.0"/><line x1="201.34" y1="317.30" x2="201.34" y2="315.30" stroke="#000" stroke-width="1.0"/><line x1="201.34" y1="17.30" x2="201.34" y2="19.30" stroke="#000" stroke-width="1.0"/><line x1="201.34" y1="317.30" x2="201.34" y2="318.90" stroke="#000" stroke-width="1.0"/><line x1="201.34" y1="477.70" x2="201.34" y2="476.10" stroke="#000" stroke-width="1.0"/><line x1="211.31" y1="317.30" x2="211.31" y2="313.30" stroke="#000" stroke-width="1.0"/><line x1="211.31" y1="17.30" x2="211.31" y2="21.30" stroke="#000" stroke-width="1.0"/><line x1="211.31" y1="317.30" x2="211.31" y2="320.30" stroke="#000" stroke-width="1.0"/><line x1="211.31" y1="477.70" x2="211.31" y2="474.70" stroke="#000" stroke-width="1.0"/><line x1="221.27" y1="317.30" x2="221.27" y2="315.30" stroke="#000" stroke-width="1.0"/><line x1="221.27" y1="17.30" x2="221.27" y2="19.30" stroke="#000" stroke-width="1.0"/><line x1="221.27" y1="317.30" x2="221.27" y2="318.90" stroke="#000" stroke-width="1.0"/><line x1="221.27" y1="477.70" x2="221.27" y2="476.10" stroke="#000" stroke-width="1.0"/><line x1="231.23" y1="317.30" x2="231.23" y2="313.30" stroke="#000" stroke-width="1.0"/><line x1="231.23" y1="17.30" x2="231.23" y2="21.30" stroke="#000" stroke-width="1.0"/><line x1="231.23" y1="317.30" x2="231.23" y2="320.30" stroke="#000" stroke-width="1.0"/><line x1="231.23" y1="477.70" x2="231.23" y2="474.70" stroke="#000" stroke-width="1.0"/><line x1="241.20" y1="317.30" x2="241.20" y2="315.30" stroke="#000" stroke-width="1.0"/><line x1="241.20" y1="17.30" x2="241.20" y2="19.30" stroke="#000" stroke-width="1.0"/><line x1="241.20" y1="317.30" x2="241.20" y2="318.90" stroke="#000" stroke-width="1.0"/><line x1="241.20" y1="477.70" x2="241.20" y2="476.10" stroke="#000" stroke-width="1.0"/><line x1="251.16" y1="317.30" x2="251.16" y2="309.70" stroke="#000" stroke-width="1.0"/><line x1="251.16" y1="17.30" x2="251.16" y2="24.90" stroke="#000" stroke-width="1.0"/><line x1="251.16" y1="317.30" x2="251.16" y2="322.00" stroke="#000" stroke-width="1.0"/><line x1="251.16" y1="477.70" x2="251.16" y2="473.00" stroke="#000" stroke-width="1.0"/><line x1="261.12" y1="317.30" x2="261.12" y2="315.30" stroke="#000" stroke-width="1.0"/><line x1="261.12" y1="17.30" x2="261.12" y2="19.30" stroke="#000" stroke-width="1.0"/><line x1="261.12" y1="317.30" x2="261.12" y2="318.90" stroke="#000" stroke-width="1.0"/><line x1="261.12" y1="477.70" x2="261.12" y2="476.10" stroke="#000" stroke-width="1.0"/><line x1="271.09" y1="317.30" x2="271.09" y2="313.30" stroke="#000" stroke-width="1.0"/><line x1="271.09" y1="17.30" x2="271.09" y2="21.30" stroke="#000" stroke-width="1.0"/><line x1="271.09" y1="317.30" x2="271.09" y2="320.30" stroke="#000" stroke-width="1.0"/><line x1="271.09" y1="477.70" x2="271.09" y2="474.70" stroke="#000" stroke-width="1.0"/><line x1="281.05" y1="317.30" x2="281.05" y2="315.30" stroke="#000" stroke-width="1.0"/><line x1="281.05" y1="17.30" x2="281.05" y2="19.30" stroke="#000" stroke-width="1.0"/><line x1="281.05" y1="317.30" x2="281.05" y2="318.90" stroke="#000" stroke-width="1.0"/><line x1="281.05" y1="477.70" x2="281.05" y2="476.10" stroke="#000" stroke-width="1.0"/><line x1="291.01" y1="317.30" x2="291.01" y2="313.30" stroke="#000" stroke-width="1.0"/><line x1="291.01" y1="17.30" x2="291.01" y2="21.30" stroke="#000" stroke-width="1.0"/><line x1="291.01" y1="317.30" x2="291.01" y2="320.30" stroke="#000" stroke-width="1.0"/><line x1="291.01" y1="477.70" x2="291.01" y2="474.70" stroke="#000" stroke-width="1.0"/><line x1="300.97" y1="317.30" x2="300.97" y2="315.30" stroke="#000" stroke-width="1.0"/><line x1="300.97" y1="17.30" x2="300.97" y2="19.30" stroke="#000" stroke-width="1.0"/><line x1="300.97" y1="317.30" x2="300.97" y2="318.90" stroke="#000" stroke-width="1.0"/><line x1="300.97" y1="477.70" x2="300.97" y2="476.10" stroke="#000" stroke-width="1.0"/><line x1="310.94" y1="317.30" x2="310.94" y2="313.30" stroke="#000" stroke-width="1.0"/><line x1="310.94" y1="17.30" x2="310.94" y2="21.30" stroke="#000" stroke-width="1.0"/><line x1="310.94" y1="317.30" x2="310.94" y2="320.30" stroke="#000" stroke-width="1.0"/><line x1="310.94" y1="477.70" x2="310.94" y2="474.70" stroke="#000" stroke-width="1.0"/><line x1="320.90" y1="317.30" x2="320.90" y2="315.30" stroke="#000" stroke-width="1.0"/><line x1="320.90" y1="17.30" x2="320.90" y2="19.30" stroke="#000" stroke-width="1.0"/><line x1="320.90" y1="317.30" x2="320.90" y2="318.90" stroke="#000" stroke-width="1.0"/><line x1="320.90" y1="477.70" x2="320.90" y2="476.10" stroke="#000" stroke-width="1.0"/><line x1="330.86" y1="317.30" x2="330.86" y2="313.30" stroke="#000" stroke-width="1.0"/><line x1="330.86" y1="17.30" x2="330.86" y2="21.30" stroke="#000" stroke-width="1.0"/><line x1="330.86" y1="317.30" x2="330.86" y2="320.30" stroke="#000" stroke-width="1.0"/><line x1="330.86" y1="477.70" x2="330.86" y2="474.70" stroke="#000" stroke-width="1.0"/><line x1="340.83" y1="317.30" x2="340.83" y2="315.30" stroke="#000" stroke-width="1.0"/><line x1="340.83" y1="17.30" x2="340.83" y2="19.30" stroke="#000" stroke-width="1.0"/><line x1="340.83" y1="317.30" x2="340.83" y2="318.90" stroke="#000" stroke-width="1.0"/><line x1="340.83" y1="477.70" x2="340.83" y2="476.10" stroke="#000" stroke-width="1.0"/><line x1="350.79" y1="317.30" x2="350.79" y2="309.70" stroke="#000" stroke-width="1.0"/><line x1="350.79" y1="17.30" x2="350.79" y2="24.90" stroke="#000" stroke-width="1.0"/><line x1="350.79" y1="317.30" x2="350.79" y2="322.00" stroke="#000" stroke-width="1.0"/><line x1="350.79" y1="477.70" x2="350.79" y2="473.00" stroke="#000" stroke-width="1.0"/><line x1="360.75" y1="317.30" x2="360.75" y2="315.30" stroke="#000" stroke-width="1.0"/><line x1="360.75" y1="17.30" x2="360.75" y2="19.30" stroke="#000" stroke-width="1.0"/><line x1="360.75" y1="317.30" x2="360.75" y2="318.90" stroke="#000" stroke-width="1.0"/><line x1="360.75" y1="477.70" x2="360.75" y2="476.10" stroke="#000" stroke-width="1.0"/><line x1="370.72" y1="317.30" x2="370.72" y2="313.30" stroke="#000" stroke-width="1.0"/><line x1="370.72" y1="17.30" x2="370.72" y2="21.30" stroke="#000" stroke-width="1.0"/><line x1="370.72" y1="317.30" x2="370.72" y2="320.30" stroke="#000" stroke-width="1.0"/><line x1="370.72" y1="477.70" x2="370.72" y2="474.70" stroke="#000" stroke-width="1.0"/><line x1="45.60" y1="310.50" x2="51.10" y2="310.50" stroke="#000" stroke-width="1.0"/><line x1="371.20" y1="310.50" x2="365.70" y2="310.50" stroke="#000" stroke-width="1.0"/><line x1="45.60" y1="304.63" x2="51.10" y2="304.63" stroke="#000" stroke-width="1.0"/><line x1="371.20" y1="304.63" x2="365.70" y2="304.63" stroke="#000" stroke-width="1.0"/><line x1="45.60" y1="299.83" x2="51.10" y2="299.83" stroke="#000" stroke-width="1.0"/><line x1="371.20" y1="299.83" x2="365.70" y2="299.83" stroke="#000" stroke-width="1.0"/><line x1="45.60" y1="295.78" x2="51.10" y2="295.78" stroke="#000" stroke-width="1.0"/><line x1="371.20" y1="295.78" x2="365.70" y2="295.78" stroke="#000" stroke-width="1.0"/><line x1="45.60" y1="292.27" x2="51.10" y2="292.27" stroke="#000" stroke-width="1.0"/><line x1="371.20" y1="292.27" x2="365.70" y2="292.27" stroke="#000" stroke-width="1.0"/><line x1="45.60" y1="289.17" x2="51.10" y2="289.17" stroke="#000" stroke-width="1.0"/><line x1="371.20" y1="289.17" x2="365.70" y2="289.17" stroke="#000" stroke-width="1.0"/><line x1="45.60" y1="286.40" x2="56.60" y2="286.40" stroke="#000" stroke-width="1.0"/><line x1="371.20" y1="286.40" x2="360.20" y2="286.40" stroke="#000" stroke-width="1.0"/><line x1="45.60" y1="268.17" x2="51.10" y2="268.17" stroke="#000" stroke-width="1.0"/><line x1="371.20" y1="268.17" x2="365.70" y2="268.17" stroke="#000" stroke-width="1.0"/><line x1="45.60" y1="257.51" x2="51.10" y2="257.51" stroke="#000" stroke-width="1.0"/><line x1="371.20" y1="257.51" x2="365.70" y2="257.51" stroke="#000" stroke-width="1.0"/><line x1="45.60" y1="249.95" x2="51.10" y2="249.95" stroke="#000" stroke-width="1.0"/><line x1="371.20" y1="249.95" x2="365.70" y2="249.95" stroke="#000" stroke-width="1.0"/><line x1="45.60" y1="244.08" x2="51.10" y2="244.08" stroke="#000" stroke-width="1.0"/><line x1="371.20" y1="244.08" x2="365.70" y2="244.08" stroke="#000" stroke-width="1.0"/><line x1="45.60" y1="239.28" x2="51.10" y2="239.28" stroke="#000" stroke-width="1.0"/><line x1="371.20" y1="239.28" x2="365.70" y2="239.28" stroke="#000" stroke-width="1.0"/><line x1="45.60" y1="235.23" x2="51.10" y2="235.23" stroke="#000" stroke-width="1.0"/><line x1="371.20" y1="235.23" x2="365.70" y2="235.23" stroke="#000" stroke-width="1.0"/><line x1="45.60" y1="231.72" x2="51.10" y2="231.72" stroke="#000" stroke-width="1.0"/><line x1="371.20" y1="231.72" x2="365.70" y2="231.72" stroke="#000" stroke-width="1.0"/><line x1="45.60" y1="228.62" x2="51.10" y2="228.62" stroke="#000" stroke-width="1.0"/><line x1="371.20" y1="228.62" x2="365.70" y2="228.62" stroke="#000" stroke-width="1.0"/><line x1="45.60" y1="225.85" x2="56.60" y2="225.85" stroke="#000" stroke-width="1.0"/><line x1="371.20" y1="225.85" x2="360.20" y2="225.85" stroke="#000" stroke-width="1.0"/><line x1="45.60" y1="207.62" x2="51.10" y2="207.62" stroke="#000" stroke-width="1.0"/><line x1="371.20" y1="207.62" x2="365.70" y2="207.62" stroke="#000" stroke-width="1.0"/><line x1="45.60" y1="196.96" x2="51.10" y2="196.96" stroke="#000" stroke-width="1.0"/><line x1="371.20" y1="196.96" x2="365.70" y2="196.96" stroke="#000" stroke-width="1.0"/><line x1="45.60" y1="189.40" x2="51.10" y2="189.40" stroke="#000" stroke-width="1.0"/><line x1="371.20" y1="189.40" x2="365.70" y2="189.40" stroke="#000" stroke-width="1.0"/><line x1="45.60" y1="183.53" x2="51.10" y2="183.53" stroke="#000" stroke-width="1.0"/><line x1="371.20" y1="183.53" x2="365.70" y2="183.53" stroke="#000" stroke-width="1.0"/><line x1="45.60" y1="178.73" x2="51.10" y2="178.73" stroke="#000" stroke-width="1.0"/><line x1="371.20" y1="178.73" x2="365.70" y2="178.73" stroke="#000" stroke-width="1.0"/><line x1="45.60" y1="174.68" x2="51.10" y2="174.68" stroke="#000" stroke-width="1.0"/><line x1="371.20" y1="174.68" x2="365.70" y2="174.68" stroke="#000" stroke-width="1.0"/><line x1="45.60" y1="171.17" x2="51.10" y2="171.17" stroke="#000" stroke-width="1.0"/><line x1="371.20" y1="171.17" x2="365.70" y2="171.17" stroke="#000" stroke-width="1.0"/><line x1="45.60" y1="168.07" x2="51.10" y2="168.07" stroke="#000" stroke-width="1.0"/><line x1="371.20" y1="168.07" x2="365.70" y2="168.07" stroke="#000" stroke-width="1.0"/><line x1="45.60" y1="165.30" x2="56.60" y2="165.30" stroke="#000" stroke-width="1.0"/><line x1="371.20" y1="165.30" x2="360.20" y2="165.30" stroke="#000" stroke-width="1.0"/><line x1="45.60" y1="147.07" x2="51.10" y2="147.07" stroke="#000" stroke-width="1.0"/><line x1="371.20" y1="147.07" x2="365.70" y2="147.07" stroke="#000" stroke-width="1.0"/><line x1="45.60" y1="136.41" x2="51.10" y2="136.41" stroke="#000" stroke-width="1.0"/><line x1="371.20" y1="136.41" x2="365.70" y2="136.41" stroke="#000" stroke-width="1.0"/><line x1="45.60" y1="128.85" x2="51.10" y2="128.85" stroke="#000" stroke-width="1.0"/><line x1="371.20" y1="128.85" x2="365.70" y2="128.85" stroke="#000" stroke-width="1.0"/><line x1="45.60" y1="122.98" x2="51.10" y2="122.98" stroke="#000" stroke-width="1.0"/><line x1="371.20" y1="122.98" x2="365.70" y2="122.98" stroke="#000" stroke-width="1.0"/><line x1="45.60" y1="118.18" x2="51.10" y2="118.18" stroke="#000" stroke-width="1.0"/><line x1="371.20" y1="118.18" x2="365.70" y2="118.18" stroke="#000" stroke-width="1.0"/><line x1="45.60" y1="114.13" x2="51.10" y2="114.13" stroke="#000" stroke-width="1.0"/><line x1="371.20" y1="114.13" x2="365.70" y2="114.13" stroke="#000" stroke-width="1.0"/><line x1="45.60" y1="110.62" x2="51.10" y2="110.62" stroke="#000" stroke-width="1.0"/><line x1="371.20" y1="110.62" x2="365.70" y2="110.62" stroke="#000" stroke-width="1.0"/><line x1="45.60" y1="107.52" x2="51.10" y2="107.52" stroke="#000" stroke-width="1.0"/><line x1="371.20" y1="107.52" x2="365.70" y2="107.52" stroke="#000" stroke-width="1.0"/><line x1="45.60" y1="104.75" x2="56.60" y2="104.75" stroke="#000" stroke-width="1.0"/><line x1="371.20" y1="104.75" x2="360.20" y2="104.75" stroke="#000" stroke-width="1.0"/><line x1="45.60" y1="86.52" x2="51.10" y2="86.52" stroke="#000" stroke-width="1.0"/><line x1="371.20" y1="86.52" x2="365.70" y2="86.52" stroke="#000" stroke-width="1.0"/><line x1="45.60" y1="75.86" x2="51.10" y2="75.86" stroke="#000" stroke-width="1.0"/><line x1="371.20" y1="75.86" x2="365.70" y2="75.86" stroke="#000" stroke-width="1.0"/><line x1="45.60" y1="68.30" x2="51.10" y2="68.30" stroke="#000" stroke-width="1.0"/><line x1="371.20" y1="68.30" x2="365.70" y2="68.30" stroke="#000" stroke-width="1.0"/><line x1="45.60" y1="62.43" x2="51.10" y2="62.43" stroke="#000" stroke-width="1.0"/><line x1="371.20" y1="62.43" x2="365.70" y2="62.43" stroke="#000" stroke-width="1.0"/><line x1="45.60" y1="57.63" x2="51.10" y2="57.63" stroke="#000" stroke-width="1.0"/><line x1="371.20" y1="57.63" x2="365.70" y2="57.63" stroke="#000" stroke-width="1.0"/><line x1="45.60" y1="53.58" x2="51.10" y2="53.58" stroke="#000" stroke-width="1.0"/><line x1="371.20" y1="53.58" x2="365.70" y2="53.58" stroke="#000" stroke-width="1.0"/><line x1="45.60" y1="50.07" x2="51.10" y2="50.07" stroke="#000" stroke-width="1.0"/><line x1="371.20" y1="50.07" x2="365.70" y2="50.07" stroke="#000" stroke-width="1.0"/><line x1="45.60" y1="46.97" x2="51.10" y2="46.97" stroke="#000" stroke-width="1.0"/><line x1="371.20" y1="46.97" x2="365.70" y2="46.97" stroke="#000" stroke-width="1.0"/><line x1="45.60" y1="44.20" x2="56.60" y2="44.20" stroke="#000" stroke-width="1.0"/><line x1="371.20" y1="44.20" x2="360.20" y2="44.20" stroke="#000" stroke-width="1.0"/><line x1="45.60" y1="25.97" x2="51.10" y2="25.97" stroke="#000" stroke-width="1.0"/><line x1="371.20" y1="25.97" x2="365.70" y2="25.97" stroke="#000" stroke-width="1.0"/><line x1="45.60" y1="458.50" x2="52.60" y2="458.50" stroke="#000" stroke-width="1.0"/><line x1="371.20" y1="458.50" x2="364.20" y2="458.50" stroke="#000" stroke-width="1.0"/><line x1="45.60" y1="442.53" x2="50.60" y2="442.53" stroke="#000" stroke-width="1.0"/><line x1="371.20" y1="442.53" x2="366.20" y2="442.53" stroke="#000" stroke-width="1.0"/><line x1="45.60" y1="429.03" x2="50.60" y2="429.03" stroke="#000" stroke-width="1.0"/><line x1="371.20" y1="429.03" x2="366.20" y2="429.03" stroke="#000" stroke-width="1.0"/><line x1="45.60" y1="417.34" x2="50.60" y2="417.34" stroke="#000" stroke-width="1.0"/><line x1="371.20" y1="417.34" x2="366.20" y2="417.34" stroke="#000" stroke-width="1.0"/><line x1="45.60" y1="407.03" x2="50.60" y2="407.03" stroke="#000" stroke-width="1.0"/><line x1="371.20" y1="407.03" x2="366.20" y2="407.03" stroke="#000" stroke-width="1.0"/><line x1="45.60" y1="397.80" x2="52.60" y2="397.80" stroke="#000" stroke-width="1.0"/><line x1="371.20" y1="397.80" x2="364.20" y2="397.80" stroke="#000" stroke-width="1.0"/><line x1="45.60" y1="389.45" x2="50.60" y2="389.45" stroke="#000" stroke-width="1.0"/><line x1="371.20" y1="389.45" x2="366.20" y2="389.45" stroke="#000" stroke-width="1.0"/><line x1="45.60" y1="381.83" x2="50.60" y2="381.83" stroke="#000" stroke-width="1.0"/><line x1="371.20" y1="381.83" x2="366.20" y2="381.83" stroke="#000" stroke-width="1.0"/><line x1="45.60" y1="374.82" x2="50.60" y2="374.82" stroke="#000" stroke-width="1.0"/><line x1="371.20" y1="374.82" x2="366.20" y2="374.82" stroke="#000" stroke-width="1.0"/><line x1="45.60" y1="368.33" x2="50.60" y2="368.33" stroke="#000" stroke-width="1.0"/><line x1="371.20" y1="368.33" x2="366.20" y2="368.33" stroke="#000" stroke-width="1.0"/><line x1="45.60" y1="362.29" x2="50.60" y2="362.29" stroke="#000" stroke-width="1.0"/><line x1="371.20" y1="362.29" x2="366.20" y2="362.29" stroke="#000" stroke-width="1.0"/><line x1="45.60" y1="356.64" x2="50.60" y2="356.64" stroke="#000" stroke-width="1.0"/><line x1="371.20" y1="356.64" x2="366.20" y2="356.64" stroke="#000" stroke-width="1.0"/><line x1="45.60" y1="351.33" x2="50.60" y2="351.33" stroke="#000" stroke-width="1.0"/><line x1="371.20" y1="351.33" x2="366.20" y2="351.33" stroke="#000" stroke-width="1.0"/><line x1="45.60" y1="346.33" x2="50.60" y2="346.33" stroke="#000" stroke-width="1.0"/><line x1="371.20" y1="346.33" x2="366.20" y2="346.33" stroke="#000" stroke-width="1.0"/><line x1="45.60" y1="341.59" x2="50.60" y2="341.59" stroke="#000" stroke-width="1.0"/><line x1="371.20" y1="341.59" x2="366.20" y2="341.59" stroke="#000" stroke-width="1.0"/><line x1="45.60" y1="337.10" x2="52.60" y2="337.10" stroke="#000" stroke-width="1.0"/><line x1="371.20" y1="337.10" x2="364.20" y2="337.10" stroke="#000" stroke-width="1.0"/><line x1="45.60" y1="332.83" x2="50.60" y2="332.83" stroke="#000" stroke-width="1.0"/><line x1="371.20" y1="332.83" x2="366.20" y2="332.83" stroke="#000" stroke-width="1.0"/><line x1="45.60" y1="328.75" x2="50.60" y2="328.75" stroke="#000" stroke-width="1.0"/><line x1="371.20" y1="328.75" x2="366.20" y2="328.75" stroke="#000" stroke-width="1.0"/><line x1="45.60" y1="324.86" x2="50.60" y2="324.86" stroke="#000" stroke-width="1.0"/><line x1="371.20" y1="324.86" x2="366.20" y2="324.86" stroke="#000" stroke-width="1.0"/><line x1="45.60" y1="321.13" x2="50.60" y2="321.13" stroke="#000" stroke-width="1.0"/><line x1="371.20" y1="321.13" x2="366.20" y2="321.13" stroke="#000" stroke-width="1.0"/><line x1="45.60" y1="317.56" x2="50.60" y2="317.56" stroke="#000" stroke-width="1.0"/><line x1="371.20" y1="317.56" x2="366.20" y2="317.56" stroke="#000" stroke-width="1.0"/><rect x="45.6" y="17.3" width="325.60" height="300.00" fill="none" stroke="#000" stroke-width="1.3"/><rect x="45.6" y="317.3" width="325.60" height="160.40" fill="none" stroke="#000" stroke-width="1.3"/>
<text x="51.4" y="14" font-size="12" text-anchor="start" fill="#000" >1960 GeV ppbar</text><text x="273.2" y="14" font-size="12" text-anchor="start" fill="#000" textLength="94.8" lengthAdjust="spacingAndGlyphs">Top (parton level)</text><text x="34.1" y="50" font-size="11" text-anchor="end">10</text><text x="39.2" y="45.1" font-size="7.5" text-anchor="end">2</text><text x="39.9" y="109.1" font-size="11" text-anchor="end" fill="#000" >10</text><text x="39.4" y="170" font-size="11" text-anchor="end" fill="#000" >1</text><text x="32.4" y="231.2" font-size="11" text-anchor="end">10</text><text x="40.1" y="226" font-size="7.5" text-anchor="end">−1</text><text x="30.1" y="290.9" font-size="11" text-anchor="end">10</text><text x="39.0" y="286.9" font-size="7.5" text-anchor="end">−2</text><text x="38.1" y="341.2" font-size="11.5" text-anchor="end" fill="#000" >2</text><text x="38.1" y="402" font-size="11.5" text-anchor="end" fill="#000" >1</text><text x="37.7" y="462.4" font-size="11.5" text-anchor="end" fill="#000" >0.5</text><text x="373.8" y="341.2" font-size="11.5" text-anchor="start" fill="#000" >2</text><text x="373.8" y="402" font-size="11.5" text-anchor="start" fill="#000" >1</text><text x="373.8" y="462.4" font-size="11.5" text-anchor="start" fill="#000" >0.5</text><text x="51.90" y="489" font-size="11.5" text-anchor="middle" fill="#000" >0</text><text x="151.53" y="489" font-size="11.5" text-anchor="middle" fill="#000" >1</text><text x="251.16" y="489" font-size="11.5" text-anchor="middle" fill="#000" >2</text><text x="350.79" y="489" font-size="11.5" text-anchor="middle" fill="#000" >3</text><text x="147.1" y="43.1" font-size="10" text-anchor="start" fill="#000" >Δϕ (ttbar) (Mtt &lt; 450 dy &lt; 0)</text><text transform="translate(17,446.2) rotate(-90)" font-size="9" textLength="99.6" lengthAdjust="spacingAndGlyphs">Ratio to Pythia 6.427 370</text><text transform="translate(380.4,126.8) rotate(-90)" font-size="10" fill="#777" textLength="108.5" lengthAdjust="spacingAndGlyphs">Rivet 4.1.0, ≥ 100k events</text><text transform="translate(380.7,313.4) rotate(-90)" font-size="10" fill="#777" textLength="147" lengthAdjust="spacingAndGlyphs">mcplots.cern.ch [arXiv:2401.10621]</text><text x="173.7" y="302.7" font-size="8" text-anchor="start" fill="#999" >(MC_FBA_TTBAR)</text>
</svg></body></html>
